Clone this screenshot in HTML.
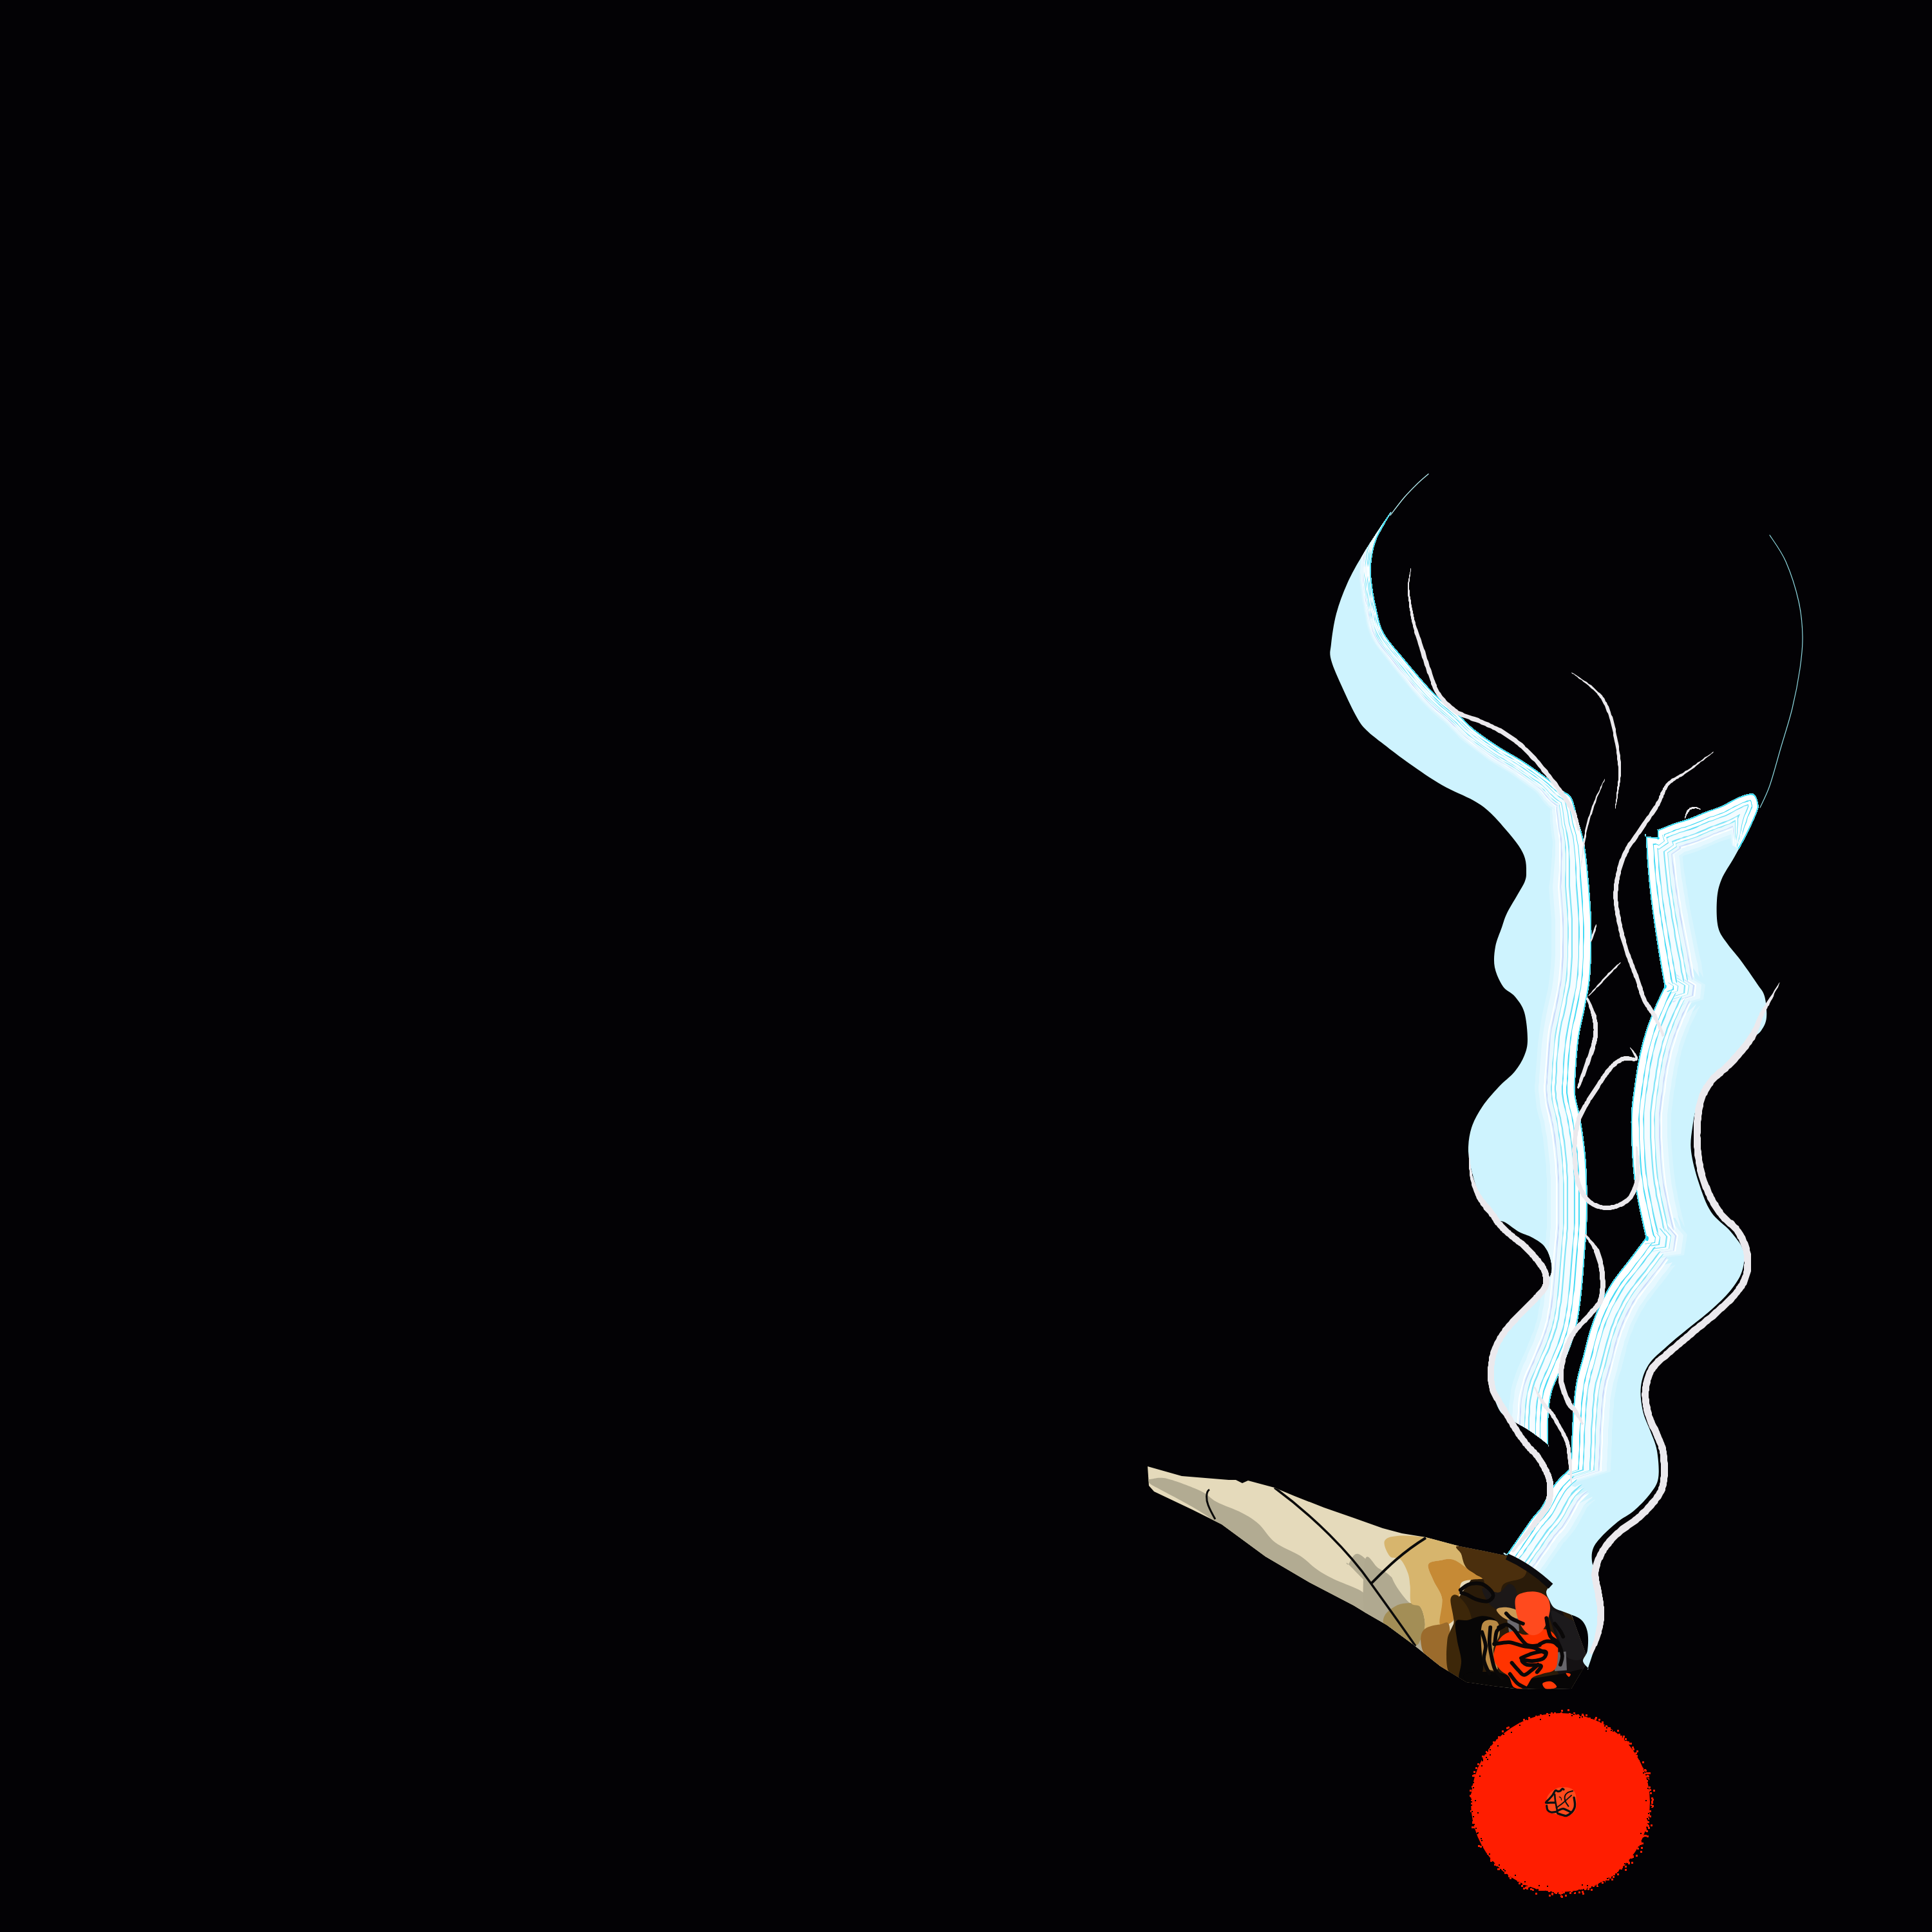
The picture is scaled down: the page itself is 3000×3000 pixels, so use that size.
<!DOCTYPE html>
<html><head><meta charset="utf-8"><style>
html,body{margin:0;padding:0;background:#030205;width:3000px;height:3000px;overflow:hidden}
svg{display:block}
</style></head><body>
<svg width="3000" height="3000" viewBox="0 0 3000 3000"><rect width="3000" height="3000" fill="#030205"/>
<defs><clipPath id="cL"><path d="M2160.0 795.0 C2156.7 798.7 2128.3 841.5 2117.0 860.0 C2105.7 878.5 2099.0 890.5 2092.0 906.0 C2085.0 921.5 2079.2 937.3 2075.0 953.0 C2070.8 968.7 2068.3 988.0 2067.0 1000.0 C2065.7 1012.0 2064.0 1013.5 2067.0 1025.0 C2070.0 1036.5 2078.3 1054.2 2085.0 1069.0 C2091.7 1083.8 2100.8 1103.2 2107.0 1114.0 C2113.2 1124.8 2115.0 1127.0 2122.0 1134.0 C2129.0 1141.0 2137.8 1147.3 2149.0 1156.0 C2160.2 1164.7 2174.0 1175.5 2189.0 1186.0 C2204.0 1196.5 2222.5 1209.5 2239.0 1219.0 C2255.5 1228.5 2275.7 1236.0 2288.0 1243.0 C2300.3 1250.0 2304.7 1253.5 2313.0 1261.0 C2321.3 1268.5 2330.5 1279.3 2338.0 1288.0 C2345.5 1296.7 2353.0 1305.5 2358.0 1313.0 C2363.0 1320.5 2366.0 1326.3 2368.0 1333.0 C2370.0 1339.7 2370.0 1347.2 2370.0 1353.0 C2370.0 1358.8 2370.3 1361.8 2368.0 1368.0 C2365.7 1374.2 2360.7 1381.7 2356.0 1390.0 C2351.3 1398.3 2344.0 1409.7 2340.0 1418.0 C2336.0 1426.3 2335.0 1431.3 2332.0 1440.0 C2329.0 1448.7 2323.8 1459.7 2322.0 1470.0 C2320.2 1480.3 2319.0 1491.7 2321.0 1502.0 C2323.0 1512.3 2328.8 1524.5 2334.0 1532.0 C2339.2 1539.5 2346.5 1540.3 2352.0 1547.0 C2357.5 1553.7 2363.7 1560.8 2367.0 1572.0 C2370.3 1583.2 2372.0 1602.8 2372.0 1614.0 C2372.0 1625.2 2370.3 1630.7 2367.0 1639.0 C2363.7 1647.3 2358.7 1655.8 2352.0 1664.0 C2345.3 1672.2 2335.3 1679.0 2327.0 1688.0 C2318.7 1697.0 2309.0 1707.5 2302.0 1718.0 C2295.0 1728.5 2288.7 1739.3 2285.0 1751.0 C2281.3 1762.7 2279.7 1775.7 2280.0 1788.0 C2280.3 1800.3 2283.7 1812.7 2287.0 1825.0 C2290.3 1837.3 2294.2 1850.8 2300.0 1862.0 C2305.8 1873.2 2315.8 1886.0 2322.0 1892.0 C2328.2 1898.0 2330.8 1894.5 2337.0 1898.0 C2343.2 1901.5 2352.2 1909.2 2359.0 1913.0 C2365.8 1916.8 2371.7 1917.5 2378.0 1921.0 C2384.3 1924.5 2392.2 1928.7 2397.0 1934.0 C2401.8 1939.3 2405.0 1946.0 2407.0 1953.0 C2409.0 1960.0 2410.7 1968.3 2409.0 1976.0 C2407.3 1983.7 2402.0 1991.3 2397.0 1999.0 C2392.0 2006.7 2385.7 2014.5 2379.0 2022.0 C2372.3 2029.5 2364.5 2035.8 2357.0 2044.0 C2349.5 2052.2 2340.2 2061.8 2334.0 2071.0 C2327.8 2080.2 2323.2 2089.5 2320.0 2099.0 C2316.8 2108.5 2315.5 2118.2 2315.0 2128.0 C2314.5 2137.8 2314.7 2147.5 2317.0 2158.0 C2319.3 2168.5 2324.0 2183.2 2329.0 2191.0 C2334.0 2198.8 2340.2 2200.5 2347.0 2205.0 C2353.8 2209.5 2362.8 2213.5 2370.0 2218.0 C2377.2 2222.5 2384.3 2227.8 2390.0 2232.0 C2395.7 2236.2 2401.7 2241.2 2404.0 2243.0 C2406.3 2244.8 2404.0 2249.7 2404.0 2243.0 C2404.0 2236.3 2403.2 2216.3 2404.0 2203.0 C2404.8 2189.7 2405.7 2175.8 2409.0 2163.0 C2412.3 2150.2 2419.0 2138.3 2424.0 2126.0 C2429.0 2113.7 2434.8 2101.0 2439.0 2089.0 C2443.2 2077.0 2446.2 2068.2 2449.0 2054.0 C2451.8 2039.8 2454.0 2022.7 2456.0 2004.0 C2458.0 1985.3 2459.7 1959.3 2461.0 1942.0 C2462.3 1924.7 2463.5 1917.3 2464.0 1900.0 C2464.5 1882.7 2464.5 1856.7 2464.0 1838.0 C2463.5 1819.3 2462.7 1804.7 2461.0 1788.0 C2459.3 1771.3 2456.5 1752.5 2454.0 1738.0 C2451.5 1723.5 2447.3 1711.3 2446.0 1701.0 C2444.7 1690.7 2445.2 1690.5 2446.0 1676.0 C2446.8 1661.5 2448.5 1632.7 2451.0 1614.0 C2453.5 1595.3 2458.0 1580.5 2461.0 1564.0 C2464.0 1547.5 2467.3 1535.7 2469.0 1515.0 C2470.7 1494.3 2471.3 1463.7 2471.0 1440.0 C2470.7 1416.3 2468.8 1394.5 2467.0 1373.0 C2465.2 1351.5 2462.8 1327.5 2460.0 1311.0 C2457.2 1294.5 2453.3 1286.0 2450.0 1274.0 C2446.7 1262.0 2444.5 1247.0 2440.0 1239.0 C2435.5 1231.0 2429.2 1231.0 2423.0 1226.0 C2416.8 1221.0 2413.0 1216.5 2403.0 1209.0 C2393.0 1201.5 2375.8 1189.3 2363.0 1181.0 C2350.2 1172.7 2338.5 1167.2 2326.0 1159.0 C2313.5 1150.8 2298.3 1140.3 2288.0 1132.0 C2277.7 1123.7 2274.7 1118.7 2264.0 1109.0 C2253.3 1099.3 2238.3 1088.7 2224.0 1074.0 C2209.7 1059.3 2190.7 1036.3 2178.0 1021.0 C2165.3 1005.7 2154.8 994.7 2148.0 982.0 C2141.2 969.3 2140.0 957.7 2137.0 945.0 C2134.0 932.3 2131.3 917.7 2130.0 906.0 C2128.7 894.3 2127.8 886.3 2129.0 875.0 C2130.2 863.7 2131.8 851.3 2137.0 838.0 C2142.2 824.7 2163.3 791.3 2160.0 795.0 Z"/></clipPath><clipPath id="cR"><path d="M2728.0 1261.0 C2730.8 1253.5 2730.5 1253.3 2730.0 1249.0 C2729.5 1244.7 2727.3 1237.7 2725.0 1235.0 C2722.7 1232.3 2720.5 1232.3 2716.0 1233.0 C2711.5 1233.7 2705.2 1235.8 2698.0 1239.0 C2690.8 1242.2 2681.3 1248.3 2673.0 1252.0 C2664.7 1255.7 2656.2 1257.8 2648.0 1261.0 C2639.8 1264.2 2632.2 1268.0 2624.0 1271.0 C2615.8 1274.0 2605.7 1276.7 2599.0 1279.0 C2592.3 1281.3 2588.2 1283.3 2584.0 1285.0 C2579.8 1286.7 2575.7 1288.3 2574.0 1289.0 C2572.3 1289.7 2574.0 1287.0 2574.0 1289.0 C2574.0 1291.0 2574.0 1299.0 2574.0 1301.0 C2574.0 1303.0 2577.0 1301.3 2574.0 1301.0 C2571.0 1300.7 2559.0 1299.3 2556.0 1299.0 C2553.0 1298.7 2555.5 1290.8 2556.0 1299.0 C2556.5 1307.2 2557.7 1331.5 2559.0 1348.0 C2560.3 1364.5 2562.0 1381.3 2564.0 1398.0 C2566.0 1414.7 2568.5 1431.3 2571.0 1448.0 C2573.5 1464.7 2576.7 1484.0 2579.0 1498.0 C2581.3 1512.0 2584.0 1526.3 2585.0 1532.0 C2586.0 1537.7 2587.5 1526.7 2585.0 1532.0 C2582.5 1537.3 2574.8 1552.5 2570.0 1564.0 C2565.2 1575.5 2560.0 1588.5 2556.0 1601.0 C2552.0 1613.5 2549.0 1624.5 2546.0 1639.0 C2543.0 1653.5 2540.2 1671.5 2538.0 1688.0 C2535.8 1704.5 2533.3 1717.2 2533.0 1738.0 C2532.7 1758.8 2534.3 1792.3 2536.0 1813.0 C2537.7 1833.7 2539.7 1843.8 2543.0 1862.0 C2546.3 1880.2 2553.8 1912.0 2556.0 1922.0 C2558.2 1932.0 2560.2 1916.5 2556.0 1922.0 C2551.8 1927.5 2539.8 1943.3 2531.0 1955.0 C2522.2 1966.7 2511.0 1979.7 2503.0 1992.0 C2495.0 2004.3 2488.7 2016.7 2483.0 2029.0 C2477.3 2041.3 2473.0 2053.5 2469.0 2066.0 C2465.0 2078.5 2462.3 2091.5 2459.0 2104.0 C2455.7 2116.5 2451.5 2128.7 2449.0 2141.0 C2446.5 2153.3 2445.3 2163.5 2444.0 2178.0 C2442.7 2192.5 2441.8 2211.3 2441.0 2228.0 C2440.2 2244.7 2439.8 2269.0 2439.0 2278.0 C2438.2 2287.0 2440.2 2277.5 2436.0 2282.0 C2431.8 2286.5 2421.0 2295.3 2414.0 2305.0 C2407.0 2314.7 2399.8 2331.2 2394.0 2340.0 C2388.2 2348.8 2385.3 2349.5 2379.0 2358.0 C2372.7 2366.5 2362.5 2381.7 2356.0 2391.0 C2349.5 2400.3 2342.7 2410.2 2340.0 2414.0 C2337.3 2417.8 2328.7 2406.2 2340.0 2414.0 C2351.3 2421.8 2396.7 2453.2 2408.0 2461.0 C2419.3 2468.8 2409.2 2459.2 2408.0 2461.0 C2406.8 2462.8 2401.3 2468.0 2401.0 2472.0 C2400.7 2476.0 2403.8 2480.8 2406.0 2485.0 C2408.2 2489.2 2409.3 2493.7 2414.0 2497.0 C2418.7 2500.3 2427.2 2502.0 2434.0 2505.0 C2440.8 2508.0 2449.8 2510.2 2455.0 2515.0 C2460.2 2519.8 2463.3 2526.0 2465.0 2534.0 C2466.7 2542.0 2466.2 2555.5 2465.0 2563.0 C2463.8 2570.5 2457.8 2574.5 2458.0 2579.0 C2458.2 2583.5 2464.7 2588.2 2466.0 2590.0 C2467.3 2591.8 2464.2 2595.7 2466.0 2590.0 C2467.8 2584.3 2473.8 2567.0 2477.0 2556.0 C2480.2 2545.0 2483.7 2536.3 2485.0 2524.0 C2486.3 2511.7 2486.0 2494.5 2485.0 2482.0 C2484.0 2469.5 2481.2 2458.7 2479.0 2449.0 C2476.8 2439.3 2472.8 2431.5 2472.0 2424.0 C2471.2 2416.5 2471.5 2410.3 2474.0 2404.0 C2476.5 2397.7 2480.7 2392.8 2487.0 2386.0 C2493.3 2379.2 2503.7 2369.7 2512.0 2363.0 C2520.3 2356.3 2528.7 2353.2 2537.0 2346.0 C2545.3 2338.8 2555.7 2328.5 2562.0 2320.0 C2568.3 2311.5 2573.2 2306.2 2575.0 2295.0 C2576.8 2283.8 2575.0 2265.0 2573.0 2253.0 C2571.0 2241.0 2566.7 2233.3 2563.0 2223.0 C2559.3 2212.7 2553.5 2202.7 2551.0 2191.0 C2548.5 2179.3 2546.5 2165.0 2548.0 2153.0 C2549.5 2141.0 2553.3 2129.3 2560.0 2119.0 C2566.7 2108.7 2578.0 2100.2 2588.0 2091.0 C2598.0 2081.8 2608.5 2073.5 2620.0 2064.0 C2631.5 2054.5 2645.8 2044.0 2657.0 2034.0 C2668.2 2024.0 2679.0 2014.0 2687.0 2004.0 C2695.0 1994.0 2701.7 1984.3 2705.0 1974.0 C2708.3 1963.7 2710.0 1952.3 2707.0 1942.0 C2704.0 1931.7 2695.3 1922.0 2687.0 1912.0 C2678.7 1902.0 2665.2 1894.5 2657.0 1882.0 C2648.8 1869.5 2643.2 1852.7 2638.0 1837.0 C2632.8 1821.3 2627.7 1802.3 2626.0 1788.0 C2624.3 1773.7 2626.2 1763.5 2628.0 1751.0 C2629.8 1738.5 2631.3 1725.5 2637.0 1713.0 C2642.7 1700.5 2651.5 1688.3 2662.0 1676.0 C2672.5 1663.7 2690.3 1649.3 2700.0 1639.0 C2709.7 1628.7 2714.2 1620.5 2720.0 1614.0 C2725.8 1607.5 2731.2 1605.7 2735.0 1600.0 C2738.8 1594.3 2742.2 1588.8 2743.0 1580.0 C2743.8 1571.2 2742.5 1555.8 2740.0 1547.0 C2737.5 1538.2 2734.3 1536.5 2728.0 1527.0 C2721.7 1517.5 2709.7 1500.3 2702.0 1490.0 C2694.3 1479.7 2687.7 1473.3 2682.0 1465.0 C2676.3 1456.7 2670.7 1451.2 2668.0 1440.0 C2665.3 1428.8 2665.2 1410.3 2666.0 1398.0 C2666.8 1385.7 2668.5 1377.2 2673.0 1366.0 C2677.5 1354.8 2686.3 1343.0 2693.0 1331.0 C2699.7 1319.0 2707.2 1305.7 2713.0 1294.0 C2718.8 1282.3 2725.2 1268.5 2728.0 1261.0 Z"/></clipPath></defs>
<g id="joint"><defs><clipPath id="cJ"><path d="M1782.0 2277.0 L1835.0 2292.0 L1908.0 2298.0 L1919.0 2298.0 L1929.0 2303.0 L1938.0 2299.0 L1979.0 2310.0 L2010.0 2323.0 L2056.0 2341.0 L2102.0 2357.0 L2147.0 2373.0 L2177.0 2381.0 L2214.0 2387.0 L2266.0 2401.0 L2302.0 2408.0 L2340.0 2416.0 L2368.0 2431.0 L2407.0 2461.0 L2440.0 2507.0 L2466.0 2578.0 L2440.0 2622.0 L2393.0 2623.0 L2352.0 2622.0 L2319.0 2618.0 L2277.0 2612.0 L2236.0 2587.0 L2195.0 2554.0 L2153.0 2523.0 L2120.0 2504.0 L2102.0 2493.0 L2033.0 2457.0 L1965.0 2417.0 L1897.0 2367.0 L1851.0 2344.0 L1792.0 2316.0 L1784.0 2307.0 Z"/></clipPath></defs>
<path d="M1782.0 2277.0 L1835.0 2292.0 L1908.0 2298.0 L1919.0 2298.0 L1929.0 2303.0 L1938.0 2299.0 L1979.0 2310.0 L2010.0 2323.0 L2056.0 2341.0 L2102.0 2357.0 L2147.0 2373.0 L2177.0 2381.0 L2214.0 2387.0 L2266.0 2401.0 L2302.0 2408.0 L2340.0 2416.0 L2368.0 2431.0 L2407.0 2461.0 L2440.0 2507.0 L2466.0 2578.0 L2440.0 2622.0 L2393.0 2623.0 L2352.0 2622.0 L2319.0 2618.0 L2277.0 2612.0 L2236.0 2587.0 L2195.0 2554.0 L2153.0 2523.0 L2120.0 2504.0 L2102.0 2493.0 L2033.0 2457.0 L1965.0 2417.0 L1897.0 2367.0 L1851.0 2344.0 L1792.0 2316.0 L1784.0 2307.0 Z" fill="#e5dabb"/>
<g clip-path="url(#cJ)">
<path d="M1783.0 2298.0 C1783.0 2296.8 1781.2 2297.3 1786.0 2297.0 C1790.8 2296.7 1799.0 2293.0 1812.0 2296.0 C1825.0 2299.0 1851.2 2309.0 1864.0 2315.0 C1876.8 2321.0 1878.3 2326.3 1889.0 2332.0 C1899.7 2337.7 1917.2 2343.3 1928.0 2349.0 C1938.8 2354.7 1945.3 2358.3 1954.0 2366.0 C1962.7 2373.7 1969.2 2386.7 1980.0 2395.0 C1990.8 2403.3 2008.2 2409.0 2019.0 2416.0 C2029.8 2423.0 2036.3 2431.0 2045.0 2437.0 C2053.7 2443.0 2060.3 2446.8 2071.0 2452.0 C2081.7 2457.2 2099.7 2463.2 2109.0 2468.0 C2118.3 2472.8 2124.0 2478.8 2127.0 2481.0 C2130.0 2483.2 2126.5 2483.2 2127.0 2481.0 C2127.5 2478.8 2135.5 2476.7 2130.0 2468.0 C2124.5 2459.3 2100.0 2435.5 2094.0 2429.0 C2088.0 2422.5 2091.5 2431.7 2094.0 2429.0 C2096.5 2426.3 2100.8 2410.8 2109.0 2413.0 C2117.2 2415.2 2133.8 2434.2 2143.0 2442.0 C2152.2 2449.8 2156.7 2452.3 2164.0 2460.0 C2171.3 2467.7 2180.2 2478.8 2187.0 2488.0 C2193.8 2497.2 2197.8 2496.3 2205.0 2515.0 C2212.2 2533.7 2239.2 2590.8 2230.0 2600.0 C2220.8 2609.2 2188.3 2586.7 2150.0 2570.0 C2111.7 2553.3 2040.0 2530.8 2000.0 2500.0 C1960.0 2469.2 1929.3 2408.2 1910.0 2385.0 C1890.7 2361.8 1894.0 2368.7 1884.0 2361.0 C1874.0 2353.3 1864.0 2347.2 1850.0 2339.0 C1836.0 2330.8 1810.7 2317.8 1800.0 2312.0 C1789.3 2306.2 1788.8 2306.3 1786.0 2304.0 C1783.2 2301.7 1783.0 2299.2 1783.0 2298.0 Z" fill="#b2ab92"/>
<path d="M2120.0 2421.4 C2123.3 2408.4 2133.0 2430.0 2139.9 2434.7 C2146.8 2439.4 2153.1 2440.7 2161.4 2449.6 C2169.7 2458.4 2184.6 2479.9 2189.6 2487.7 C2194.5 2495.4 2194.5 2495.1 2191.2 2495.9 C2187.9 2496.8 2176.6 2490.4 2169.7 2492.6 C2162.8 2494.8 2152.6 2503.1 2149.8 2509.2 C2147.1 2515.3 2158.1 2528.5 2153.1 2529.1 C2148.2 2529.6 2125.5 2530.4 2120.0 2512.5 C2114.5 2494.6 2116.7 2434.4 2120.0 2421.4 Z" fill="#b0a990"/>
<path d="M2158.1 2426.4 C2160.3 2421.7 2170.0 2418.6 2174.7 2421.4 C2179.4 2424.2 2183.8 2436.0 2186.3 2442.9 C2188.7 2449.8 2188.7 2455.1 2189.6 2462.8 C2190.4 2470.5 2193.7 2487.7 2191.2 2489.3 C2188.7 2491.0 2179.6 2479.4 2174.7 2472.8 C2169.7 2466.1 2164.2 2457.3 2161.4 2449.6 C2158.6 2441.8 2155.9 2431.1 2158.1 2426.4 Z" fill="#e2d8b7"/>
<path d="M2149.8 2509.2 C2152.6 2503.1 2162.8 2495.9 2169.7 2492.6 C2176.6 2489.3 2185.1 2488.8 2191.2 2489.3 C2197.3 2489.9 2202.5 2490.4 2206.1 2495.9 C2209.7 2501.5 2212.8 2514.2 2212.8 2522.4 C2212.8 2530.7 2209.2 2540.4 2206.1 2545.6 C2203.1 2550.9 2203.4 2556.7 2194.5 2553.9 C2185.7 2551.2 2160.6 2536.5 2153.1 2529.1 C2145.7 2521.6 2147.1 2515.3 2149.8 2509.2 Z" fill="#a38e56"/>
<path d="M2149.8 2393.3 C2151.7 2388.0 2158.9 2385.9 2169.7 2385.0 C2180.5 2384.0 2198.4 2384.8 2214.4 2387.5 C2230.4 2390.1 2256.6 2396.4 2265.8 2400.7 C2274.9 2405.0 2267.1 2407.5 2269.1 2413.1 C2271.0 2418.8 2279.6 2433.3 2277.3 2434.7 C2275.1 2436.0 2262.7 2423.3 2255.8 2421.4 C2248.9 2419.5 2242.3 2421.7 2235.9 2423.1 C2229.6 2424.4 2219.4 2424.4 2217.7 2429.7 C2216.1 2434.9 2222.4 2445.7 2226.0 2454.5 C2229.6 2463.4 2237.6 2471.4 2239.3 2482.7 C2240.9 2494.0 2240.4 2514.7 2235.9 2522.4 C2231.5 2530.2 2217.7 2525.2 2212.8 2529.1 C2207.8 2532.9 2206.1 2546.7 2206.1 2545.6 C2206.1 2544.5 2212.8 2530.7 2212.8 2522.4 C2212.8 2514.2 2209.7 2501.5 2206.1 2495.9 C2202.5 2490.4 2194.0 2494.8 2191.2 2489.3 C2188.5 2483.8 2190.4 2470.5 2189.6 2462.8 C2188.7 2455.1 2188.7 2449.8 2186.3 2442.9 C2183.8 2436.0 2179.4 2425.8 2174.7 2421.4 C2170.0 2417.0 2162.2 2421.1 2158.1 2416.4 C2154.0 2411.7 2147.9 2398.5 2149.8 2393.3 Z" fill="#d7b56d"/>
<path d="M2265.8 2400.7 L2340.3 2415.6 L2406.5 2461.2 L2440.0 2507.5 L2471.1 2578.8 L2472.8 2595.3 L2440.0 2621.8 L2393.3 2623.5 L2318.8 2618.5 L2277.3 2611.9 L2249.2 2595.3 L2245.9 2545.6 L2257.5 2520.8 L2265.8 2479.4 L2285.6 2451.2 L2269.1 2413.1 Z" fill="#2a1b09"/>
<path d="M2217.7 2429.7 C2219.4 2424.4 2229.6 2424.4 2235.9 2423.1 C2242.3 2421.7 2248.9 2419.5 2255.8 2421.4 C2262.7 2423.3 2271.0 2430.5 2277.3 2434.7 C2283.7 2438.8 2289.5 2443.5 2293.9 2446.3 C2298.3 2449.0 2305.2 2450.1 2303.9 2451.2 C2302.5 2452.3 2291.4 2451.8 2285.6 2452.9 C2279.8 2454.0 2272.4 2453.4 2269.1 2457.8 C2265.8 2462.3 2267.7 2472.5 2265.8 2479.4 C2263.8 2486.3 2259.1 2492.9 2257.5 2499.3 C2255.8 2505.6 2259.4 2513.6 2255.8 2517.5 C2252.2 2521.3 2238.7 2528.2 2235.9 2522.4 C2233.2 2516.6 2240.9 2494.0 2239.3 2482.7 C2237.6 2471.4 2229.6 2463.4 2226.0 2454.5 C2222.4 2445.7 2216.1 2434.9 2217.7 2429.7 Z" fill="#c68a35"/>
<path d="M2265.8 2400.7 C2277.6 2401.1 2323.2 2410.5 2340.3 2415.6 C2357.4 2420.7 2364.3 2425.7 2368.4 2431.3 C2372.6 2437.0 2370.7 2444.9 2365.1 2449.6 C2359.6 2454.3 2341.7 2454.5 2335.3 2459.5 C2329.0 2464.5 2331.7 2478.3 2327.0 2479.4 C2322.3 2480.5 2311.3 2470.8 2307.2 2466.1 C2303.0 2461.4 2307.2 2456.5 2302.2 2451.2 C2297.2 2446.0 2282.9 2441.0 2277.3 2434.7 C2271.8 2428.3 2271.0 2418.8 2269.1 2413.1 C2267.1 2407.5 2253.9 2400.3 2265.8 2400.7 Z" fill="#4b2f0d"/>
<path d="M2206.1 2545.6 C2206.1 2538.7 2207.8 2532.9 2212.8 2529.1 C2217.7 2525.2 2229.6 2523.0 2235.9 2522.4 C2242.3 2521.9 2248.6 2513.6 2250.8 2525.8 C2253.1 2537.9 2251.7 2585.1 2249.2 2595.3 C2246.7 2605.5 2242.0 2591.2 2235.9 2587.0 C2229.9 2582.9 2217.7 2577.4 2212.8 2570.5 C2207.8 2563.6 2206.1 2552.5 2206.1 2545.6 Z" fill="#9b6b2c"/>
<path d="M2252.5 2482.7 C2253.9 2475.8 2260.2 2473.9 2265.8 2479.4 C2271.3 2484.9 2282.3 2494.3 2285.6 2515.8 C2288.9 2537.3 2287.0 2592.6 2285.6 2608.6 C2284.3 2624.6 2283.4 2614.1 2277.3 2611.9 C2271.3 2609.7 2254.2 2606.4 2249.2 2595.3 C2244.2 2584.3 2246.2 2558.1 2247.5 2545.6 C2248.9 2533.2 2256.6 2531.3 2257.5 2520.8 C2258.3 2510.3 2251.1 2489.6 2252.5 2482.7 Z" fill="#3d2709"/>
<path d="M2302.2 2466.1 C2305.0 2463.6 2320.1 2473.9 2327.0 2472.8 C2333.9 2471.6 2338.9 2459.5 2343.6 2459.5 C2348.3 2459.5 2353.3 2463.9 2355.2 2472.8 C2357.1 2481.6 2358.5 2507.0 2355.2 2512.5 C2351.9 2518.0 2340.6 2508.1 2335.3 2505.9 C2330.1 2503.7 2327.9 2502.3 2323.7 2499.3 C2319.6 2496.2 2314.1 2493.2 2310.5 2487.7 C2306.9 2482.1 2299.4 2468.6 2302.2 2466.1 Z" fill="#1c1818"/>
<path d="M2260.8 2517.5 C2263.5 2512.5 2272.1 2517.2 2279.0 2515.8 C2285.9 2514.4 2294.7 2508.9 2302.2 2509.2 C2309.6 2509.5 2321.0 2511.4 2323.7 2517.5 C2326.5 2523.5 2322.3 2538.2 2318.8 2545.6 C2315.2 2553.1 2305.0 2553.9 2302.2 2562.2 C2299.4 2570.5 2305.0 2587.0 2302.2 2595.3 C2299.4 2603.6 2291.7 2609.7 2285.6 2611.9 C2279.6 2614.1 2268.5 2614.1 2265.8 2608.6 C2263.0 2603.1 2269.6 2589.2 2269.1 2578.8 C2268.5 2568.3 2263.8 2555.8 2262.4 2545.6 C2261.1 2535.4 2258.0 2522.4 2260.8 2517.5 Z" fill="#070606"/>
<path d="M2323.7 2499.3 C2324.6 2496.5 2334.5 2495.4 2340.3 2495.9 C2346.1 2496.5 2356.0 2499.0 2358.5 2502.6 C2361.0 2506.2 2359.1 2515.8 2355.2 2517.5 C2351.3 2519.1 2340.6 2515.5 2335.3 2512.5 C2330.1 2509.5 2322.9 2502.0 2323.7 2499.3 Z" fill="#c99a55"/>
<path d="M2302.2 2520.8 C2306.1 2513.3 2319.3 2514.7 2323.7 2517.5 C2328.1 2520.2 2329.5 2529.9 2328.7 2537.3 C2327.9 2544.8 2319.3 2553.1 2318.8 2562.2 C2318.2 2571.3 2327.3 2587.6 2325.4 2592.0 C2323.5 2596.4 2311.3 2593.7 2307.2 2588.7 C2303.0 2583.7 2301.4 2573.5 2300.5 2562.2 C2299.7 2550.9 2298.3 2528.2 2302.2 2520.8 Z" fill="#b98a45"/>
<path d="M2407.0 2460.3 L2466.4 2592.2 L2437.4 2606.7 L2420.0 2599.4 L2408.4 2570.4 L2415.7 2541.4 L2407.0 2515.4 L2401.2 2490.7 L2405.5 2476.2 Z" fill="#141113"/>
<path d="M2408.4 2502.3 C2409.4 2496.8 2420.5 2505.9 2425.8 2508.1 C2431.1 2510.3 2435.0 2513.2 2440.3 2515.4 C2445.6 2517.5 2453.6 2516.8 2457.7 2521.2 C2461.8 2525.5 2463.7 2534.4 2464.9 2541.4 C2466.1 2548.5 2467.1 2557.1 2464.9 2563.2 C2462.8 2569.2 2457.7 2576.5 2451.9 2577.7 C2446.1 2578.9 2435.5 2576.5 2430.1 2570.4 C2424.8 2564.4 2423.6 2552.8 2420.0 2541.4 C2416.4 2530.1 2407.4 2507.9 2408.4 2502.3 Z" fill="#1c1a1c"/>
<path d="M2275.1 2599.4 C2281.1 2596.5 2306.5 2595.3 2321.4 2596.5 C2336.4 2597.7 2348.0 2606.2 2364.9 2606.7 C2381.8 2607.1 2406.0 2601.8 2422.9 2599.4 C2439.8 2597.0 2460.3 2588.3 2466.4 2592.2 C2472.4 2596.0 2471.2 2617.3 2459.1 2622.6 C2447.1 2627.9 2414.4 2624.3 2393.9 2624.1 C2373.4 2623.8 2354.1 2622.9 2335.9 2621.2 C2317.8 2619.5 2295.4 2617.5 2285.2 2613.9 C2275.1 2610.3 2269.0 2602.3 2275.1 2599.4 Z" fill="#070606"/>
<path d="M2340.3 2515.4 L2357.7 2512.5 L2359.1 2532.8 L2343.2 2534.2 Z" fill="#6b6a6f"/>
<path d="M2373.6 2540.0 L2408.4 2538.6 L2412.8 2555.9 L2379.4 2557.4 Z" fill="#6b6a6f"/>
<path d="M2412.8 2566.1 L2431.6 2564.6 L2433.0 2593.6 L2414.2 2595.1 Z" fill="#67666b"/>
<path d="M2331.6 2541.4 C2336.4 2536.9 2344.2 2533.2 2350.4 2532.8 C2356.7 2532.3 2361.1 2539.0 2369.3 2538.6 C2377.5 2538.1 2391.7 2528.9 2399.7 2529.9 C2407.7 2530.8 2414.0 2536.4 2417.1 2544.3 C2420.2 2552.3 2419.3 2569.5 2418.6 2577.7 C2417.8 2585.9 2416.9 2590.0 2412.8 2593.6 C2408.6 2597.2 2399.5 2597.5 2393.9 2599.4 C2388.4 2601.4 2383.8 2601.6 2379.4 2605.2 C2375.1 2608.8 2372.7 2618.7 2367.8 2621.2 C2363.0 2623.6 2354.5 2622.6 2350.4 2619.7 C2346.3 2616.8 2346.6 2608.1 2343.2 2603.8 C2339.8 2599.4 2334.0 2598.0 2330.1 2593.6 C2326.3 2589.3 2321.4 2583.2 2320.0 2577.7 C2318.6 2572.1 2319.5 2566.3 2321.4 2560.3 C2323.4 2554.3 2326.8 2546.0 2331.6 2541.4 Z" fill="#ff3300"/>
<path d="M2395.4 2613.9 C2396.6 2612.0 2404.8 2610.0 2408.4 2611.0 C2412.0 2612.0 2418.3 2617.8 2417.1 2619.7 C2415.9 2621.6 2404.8 2623.6 2401.2 2622.6 C2397.5 2621.6 2394.2 2615.8 2395.4 2613.9 Z" fill="#ff3a08"/>
<path d="M2431.6 2598.0 C2432.1 2597.2 2438.1 2598.5 2438.8 2599.4 C2439.6 2600.4 2437.1 2604.0 2435.9 2603.8 C2434.7 2603.5 2431.1 2598.7 2431.6 2598.0 Z" fill="#ff3a08"/>
<path d="M2353.3 2482.0 C2355.0 2476.7 2359.4 2475.0 2364.9 2473.3 C2370.5 2471.6 2380.4 2470.7 2386.7 2471.9 C2392.9 2473.1 2399.2 2476.2 2402.6 2480.6 C2406.0 2484.9 2407.2 2491.2 2407.0 2498.0 C2406.7 2504.7 2403.8 2514.9 2401.2 2521.2 C2398.5 2527.4 2395.1 2532.8 2391.0 2535.7 C2386.9 2538.6 2381.1 2540.0 2376.5 2538.6 C2371.9 2537.1 2367.1 2532.5 2363.5 2527.0 C2359.9 2521.4 2356.5 2512.7 2354.8 2505.2 C2353.1 2497.7 2351.6 2487.3 2353.3 2482.0 Z" fill="#ff4a1e"/>
<path d="M2338.8 2505.2 C2340.0 2506.4 2342.9 2510.3 2346.1 2512.5 C2349.2 2514.6 2354.5 2516.8 2357.7 2518.3 C2360.8 2519.7 2363.7 2520.7 2364.9 2521.2" fill="none" stroke="#0a0808" stroke-width="5.797101449275362" stroke-linecap="round" stroke-linejoin="round"/>
<path d="M2327.2 2527.0 C2329.2 2526.2 2335.0 2522.1 2338.8 2522.6 C2342.7 2523.1 2347.1 2526.7 2350.4 2529.9 C2353.8 2533.0 2356.0 2537.6 2359.1 2541.4 C2362.3 2545.3 2365.9 2550.6 2369.3 2553.0 C2372.7 2555.5 2375.8 2555.7 2379.4 2555.9 C2383.0 2556.2 2389.1 2554.7 2391.0 2554.5" fill="none" stroke="#0a0808" stroke-width="5.797101449275362" stroke-linecap="round" stroke-linejoin="round"/>
<path d="M2321.4 2550.1 C2321.9 2547.2 2322.2 2536.9 2324.3 2532.8 C2326.5 2528.6 2332.8 2526.7 2334.5 2525.5" fill="none" stroke="#0a0808" stroke-width="5.797101449275362" stroke-linecap="round" stroke-linejoin="round"/>
<path d="M2320.0 2553.0 C2323.9 2552.6 2335.7 2549.7 2343.2 2550.1 C2350.7 2550.6 2358.4 2554.5 2364.9 2555.9 C2371.4 2557.4 2376.8 2557.1 2382.3 2558.8 C2387.9 2560.5 2395.6 2564.9 2398.3 2566.1" fill="none" stroke="#0a0808" stroke-width="5.797101449275362" stroke-linecap="round" stroke-linejoin="round"/>
<path d="M2362.0 2574.8 C2364.9 2573.6 2373.1 2569.2 2379.4 2567.5 C2385.7 2565.8 2396.8 2563.4 2399.7 2564.6 C2402.6 2565.8 2400.2 2572.4 2396.8 2574.8 C2393.4 2577.2 2385.0 2578.6 2379.4 2579.1 C2373.9 2579.6 2364.9 2576.7 2363.5 2577.7 C2362.0 2578.6 2365.9 2583.5 2370.7 2584.9 C2375.6 2586.4 2389.8 2584.4 2392.5 2586.4 C2395.1 2588.3 2387.6 2594.8 2386.7 2596.5" fill="none" stroke="#0a0808" stroke-width="5.797101449275362" stroke-linecap="round" stroke-linejoin="round"/>
<path d="M2347.5 2582.0 C2349.2 2584.0 2354.5 2590.5 2357.7 2593.6 C2360.8 2596.8 2363.0 2600.9 2366.4 2600.9 C2369.8 2600.9 2374.3 2596.3 2378.0 2593.6 C2381.6 2591.0 2386.4 2586.4 2388.1 2584.9" fill="none" stroke="#0a0808" stroke-width="5.797101449275362" stroke-linecap="round" stroke-linejoin="round"/>
<path d="M2401.2 2512.5 C2402.1 2517.1 2404.1 2533.7 2407.0 2540.0 C2409.9 2546.3 2415.4 2545.1 2418.6 2550.1 C2421.7 2555.2 2425.1 2564.6 2425.8 2570.4 C2426.5 2576.2 2423.4 2582.5 2422.9 2584.9" fill="none" stroke="#0a0808" stroke-width="5.797101449275362" stroke-linecap="round" stroke-linejoin="round"/>
<path d="M2344.6 2599.4 C2346.6 2601.8 2352.1 2610.3 2356.2 2613.9 C2360.3 2617.5 2367.1 2620.0 2369.3 2621.2" fill="none" stroke="#0a0808" stroke-width="5.797101449275362" stroke-linecap="round" stroke-linejoin="round"/>
<path d="M2314.2 2527.0 C2314.0 2530.8 2312.5 2542.9 2312.8 2550.1 C2313.0 2557.4 2314.2 2563.4 2315.7 2570.4 C2317.1 2577.4 2318.6 2586.1 2321.4 2592.2 C2324.3 2598.2 2331.1 2604.3 2333.0 2606.7" fill="none" stroke="#0a0808" stroke-width="5.797101449275362" stroke-linecap="round" stroke-linejoin="round"/>
<path d="M2414.2 2521.2 C2415.7 2523.1 2420.7 2529.4 2422.9 2532.8 C2425.1 2536.1 2426.5 2540.0 2427.2 2541.4" fill="none" stroke="#0a0808" stroke-width="5.797101449275362" stroke-linecap="round" stroke-linejoin="round"/>
<path d="M2391.0 2553.0 C2392.7 2552.3 2397.5 2549.2 2401.2 2548.7 C2404.8 2548.2 2409.6 2548.9 2412.8 2550.1 C2415.9 2551.4 2418.8 2555.0 2420.0 2555.9" fill="none" stroke="#0a0808" stroke-width="5.797101449275362" stroke-linecap="round" stroke-linejoin="round"/>
<path d="M2301.2 2534.2 C2302.1 2537.8 2306.5 2548.7 2307.0 2555.9 C2307.4 2563.2 2303.1 2570.4 2304.1 2577.7 C2305.0 2584.9 2311.3 2595.8 2312.8 2599.4" fill="none" stroke="#0a0808" stroke-width="5.797101449275362" stroke-linecap="round" stroke-linejoin="round"/>
<path d="M2267.8 2469.0 C2270.0 2467.5 2275.8 2462.0 2280.9 2460.3 C2285.9 2458.6 2293.2 2457.9 2298.3 2458.8 C2303.3 2459.8 2307.9 2462.9 2311.3 2466.1 C2314.7 2469.2 2318.8 2474.3 2318.6 2477.7 C2318.3 2481.1 2314.2 2485.4 2309.9 2486.4 C2305.5 2487.3 2297.8 2485.2 2292.5 2483.5 C2287.1 2481.8 2281.8 2477.9 2278.0 2476.2 C2274.1 2474.5 2270.7 2473.8 2269.3 2473.3" fill="none" stroke="#0a0808" stroke-width="5.797101449275362" stroke-linecap="round" stroke-linejoin="round"/>
<path d="M1979 2310 C2040 2355 2095 2410 2129 2459 C2155 2495 2180 2530 2198 2556" fill="none" stroke="#0a0a0a" stroke-width="3.5"/>
<path d="M2129 2459 C2150 2438 2175 2412 2214 2388" fill="none" stroke="#0a0a0a" stroke-width="4"/>
<path d="M1878 2313 C1872 2316 1873 2330 1876 2337 C1879 2345 1883 2352 1887 2359" fill="none" stroke="#0a0a0a" stroke-width="3"/>
</g></g>
<path d="M2160.0 795.0 C2156.7 798.7 2128.3 841.5 2117.0 860.0 C2105.7 878.5 2099.0 890.5 2092.0 906.0 C2085.0 921.5 2079.2 937.3 2075.0 953.0 C2070.8 968.7 2068.3 988.0 2067.0 1000.0 C2065.7 1012.0 2064.0 1013.5 2067.0 1025.0 C2070.0 1036.5 2078.3 1054.2 2085.0 1069.0 C2091.7 1083.8 2100.8 1103.2 2107.0 1114.0 C2113.2 1124.8 2115.0 1127.0 2122.0 1134.0 C2129.0 1141.0 2137.8 1147.3 2149.0 1156.0 C2160.2 1164.7 2174.0 1175.5 2189.0 1186.0 C2204.0 1196.5 2222.5 1209.5 2239.0 1219.0 C2255.5 1228.5 2275.7 1236.0 2288.0 1243.0 C2300.3 1250.0 2304.7 1253.5 2313.0 1261.0 C2321.3 1268.5 2330.5 1279.3 2338.0 1288.0 C2345.5 1296.7 2353.0 1305.5 2358.0 1313.0 C2363.0 1320.5 2366.0 1326.3 2368.0 1333.0 C2370.0 1339.7 2370.0 1347.2 2370.0 1353.0 C2370.0 1358.8 2370.3 1361.8 2368.0 1368.0 C2365.7 1374.2 2360.7 1381.7 2356.0 1390.0 C2351.3 1398.3 2344.0 1409.7 2340.0 1418.0 C2336.0 1426.3 2335.0 1431.3 2332.0 1440.0 C2329.0 1448.7 2323.8 1459.7 2322.0 1470.0 C2320.2 1480.3 2319.0 1491.7 2321.0 1502.0 C2323.0 1512.3 2328.8 1524.5 2334.0 1532.0 C2339.2 1539.5 2346.5 1540.3 2352.0 1547.0 C2357.5 1553.7 2363.7 1560.8 2367.0 1572.0 C2370.3 1583.2 2372.0 1602.8 2372.0 1614.0 C2372.0 1625.2 2370.3 1630.7 2367.0 1639.0 C2363.7 1647.3 2358.7 1655.8 2352.0 1664.0 C2345.3 1672.2 2335.3 1679.0 2327.0 1688.0 C2318.7 1697.0 2309.0 1707.5 2302.0 1718.0 C2295.0 1728.5 2288.7 1739.3 2285.0 1751.0 C2281.3 1762.7 2279.7 1775.7 2280.0 1788.0 C2280.3 1800.3 2283.7 1812.7 2287.0 1825.0 C2290.3 1837.3 2294.2 1850.8 2300.0 1862.0 C2305.8 1873.2 2315.8 1886.0 2322.0 1892.0 C2328.2 1898.0 2330.8 1894.5 2337.0 1898.0 C2343.2 1901.5 2352.2 1909.2 2359.0 1913.0 C2365.8 1916.8 2371.7 1917.5 2378.0 1921.0 C2384.3 1924.5 2392.2 1928.7 2397.0 1934.0 C2401.8 1939.3 2405.0 1946.0 2407.0 1953.0 C2409.0 1960.0 2410.7 1968.3 2409.0 1976.0 C2407.3 1983.7 2402.0 1991.3 2397.0 1999.0 C2392.0 2006.7 2385.7 2014.5 2379.0 2022.0 C2372.3 2029.5 2364.5 2035.8 2357.0 2044.0 C2349.5 2052.2 2340.2 2061.8 2334.0 2071.0 C2327.8 2080.2 2323.2 2089.5 2320.0 2099.0 C2316.8 2108.5 2315.5 2118.2 2315.0 2128.0 C2314.5 2137.8 2314.7 2147.5 2317.0 2158.0 C2319.3 2168.5 2324.0 2183.2 2329.0 2191.0 C2334.0 2198.8 2340.2 2200.5 2347.0 2205.0 C2353.8 2209.5 2362.8 2213.5 2370.0 2218.0 C2377.2 2222.5 2384.3 2227.8 2390.0 2232.0 C2395.7 2236.2 2401.7 2241.2 2404.0 2243.0 C2406.3 2244.8 2404.0 2249.7 2404.0 2243.0 C2404.0 2236.3 2403.2 2216.3 2404.0 2203.0 C2404.8 2189.7 2405.7 2175.8 2409.0 2163.0 C2412.3 2150.2 2419.0 2138.3 2424.0 2126.0 C2429.0 2113.7 2434.8 2101.0 2439.0 2089.0 C2443.2 2077.0 2446.2 2068.2 2449.0 2054.0 C2451.8 2039.8 2454.0 2022.7 2456.0 2004.0 C2458.0 1985.3 2459.7 1959.3 2461.0 1942.0 C2462.3 1924.7 2463.5 1917.3 2464.0 1900.0 C2464.5 1882.7 2464.5 1856.7 2464.0 1838.0 C2463.5 1819.3 2462.7 1804.7 2461.0 1788.0 C2459.3 1771.3 2456.5 1752.5 2454.0 1738.0 C2451.5 1723.5 2447.3 1711.3 2446.0 1701.0 C2444.7 1690.7 2445.2 1690.5 2446.0 1676.0 C2446.8 1661.5 2448.5 1632.7 2451.0 1614.0 C2453.5 1595.3 2458.0 1580.5 2461.0 1564.0 C2464.0 1547.5 2467.3 1535.7 2469.0 1515.0 C2470.7 1494.3 2471.3 1463.7 2471.0 1440.0 C2470.7 1416.3 2468.8 1394.5 2467.0 1373.0 C2465.2 1351.5 2462.8 1327.5 2460.0 1311.0 C2457.2 1294.5 2453.3 1286.0 2450.0 1274.0 C2446.7 1262.0 2444.5 1247.0 2440.0 1239.0 C2435.5 1231.0 2429.2 1231.0 2423.0 1226.0 C2416.8 1221.0 2413.0 1216.5 2403.0 1209.0 C2393.0 1201.5 2375.8 1189.3 2363.0 1181.0 C2350.2 1172.7 2338.5 1167.2 2326.0 1159.0 C2313.5 1150.8 2298.3 1140.3 2288.0 1132.0 C2277.7 1123.7 2274.7 1118.7 2264.0 1109.0 C2253.3 1099.3 2238.3 1088.7 2224.0 1074.0 C2209.7 1059.3 2190.7 1036.3 2178.0 1021.0 C2165.3 1005.7 2154.8 994.7 2148.0 982.0 C2141.2 969.3 2140.0 957.7 2137.0 945.0 C2134.0 932.3 2131.3 917.7 2130.0 906.0 C2128.7 894.3 2127.8 886.3 2129.0 875.0 C2130.2 863.7 2131.8 851.3 2137.0 838.0 C2142.2 824.7 2163.3 791.3 2160.0 795.0 Z" fill="#cef3fe" stroke="none" stroke-width="0" />
<path d="M2728.0 1261.0 C2730.8 1253.5 2730.5 1253.3 2730.0 1249.0 C2729.5 1244.7 2727.3 1237.7 2725.0 1235.0 C2722.7 1232.3 2720.5 1232.3 2716.0 1233.0 C2711.5 1233.7 2705.2 1235.8 2698.0 1239.0 C2690.8 1242.2 2681.3 1248.3 2673.0 1252.0 C2664.7 1255.7 2656.2 1257.8 2648.0 1261.0 C2639.8 1264.2 2632.2 1268.0 2624.0 1271.0 C2615.8 1274.0 2605.7 1276.7 2599.0 1279.0 C2592.3 1281.3 2588.2 1283.3 2584.0 1285.0 C2579.8 1286.7 2575.7 1288.3 2574.0 1289.0 C2572.3 1289.7 2574.0 1287.0 2574.0 1289.0 C2574.0 1291.0 2574.0 1299.0 2574.0 1301.0 C2574.0 1303.0 2577.0 1301.3 2574.0 1301.0 C2571.0 1300.7 2559.0 1299.3 2556.0 1299.0 C2553.0 1298.7 2555.5 1290.8 2556.0 1299.0 C2556.5 1307.2 2557.7 1331.5 2559.0 1348.0 C2560.3 1364.5 2562.0 1381.3 2564.0 1398.0 C2566.0 1414.7 2568.5 1431.3 2571.0 1448.0 C2573.5 1464.7 2576.7 1484.0 2579.0 1498.0 C2581.3 1512.0 2584.0 1526.3 2585.0 1532.0 C2586.0 1537.7 2587.5 1526.7 2585.0 1532.0 C2582.5 1537.3 2574.8 1552.5 2570.0 1564.0 C2565.2 1575.5 2560.0 1588.5 2556.0 1601.0 C2552.0 1613.5 2549.0 1624.5 2546.0 1639.0 C2543.0 1653.5 2540.2 1671.5 2538.0 1688.0 C2535.8 1704.5 2533.3 1717.2 2533.0 1738.0 C2532.7 1758.8 2534.3 1792.3 2536.0 1813.0 C2537.7 1833.7 2539.7 1843.8 2543.0 1862.0 C2546.3 1880.2 2553.8 1912.0 2556.0 1922.0 C2558.2 1932.0 2560.2 1916.5 2556.0 1922.0 C2551.8 1927.5 2539.8 1943.3 2531.0 1955.0 C2522.2 1966.7 2511.0 1979.7 2503.0 1992.0 C2495.0 2004.3 2488.7 2016.7 2483.0 2029.0 C2477.3 2041.3 2473.0 2053.5 2469.0 2066.0 C2465.0 2078.5 2462.3 2091.5 2459.0 2104.0 C2455.7 2116.5 2451.5 2128.7 2449.0 2141.0 C2446.5 2153.3 2445.3 2163.5 2444.0 2178.0 C2442.7 2192.5 2441.8 2211.3 2441.0 2228.0 C2440.2 2244.7 2439.8 2269.0 2439.0 2278.0 C2438.2 2287.0 2440.2 2277.5 2436.0 2282.0 C2431.8 2286.5 2421.0 2295.3 2414.0 2305.0 C2407.0 2314.7 2399.8 2331.2 2394.0 2340.0 C2388.2 2348.8 2385.3 2349.5 2379.0 2358.0 C2372.7 2366.5 2362.5 2381.7 2356.0 2391.0 C2349.5 2400.3 2342.7 2410.2 2340.0 2414.0 C2337.3 2417.8 2328.7 2406.2 2340.0 2414.0 C2351.3 2421.8 2396.7 2453.2 2408.0 2461.0 C2419.3 2468.8 2409.2 2459.2 2408.0 2461.0 C2406.8 2462.8 2401.3 2468.0 2401.0 2472.0 C2400.7 2476.0 2403.8 2480.8 2406.0 2485.0 C2408.2 2489.2 2409.3 2493.7 2414.0 2497.0 C2418.7 2500.3 2427.2 2502.0 2434.0 2505.0 C2440.8 2508.0 2449.8 2510.2 2455.0 2515.0 C2460.2 2519.8 2463.3 2526.0 2465.0 2534.0 C2466.7 2542.0 2466.2 2555.5 2465.0 2563.0 C2463.8 2570.5 2457.8 2574.5 2458.0 2579.0 C2458.2 2583.5 2464.7 2588.2 2466.0 2590.0 C2467.3 2591.8 2464.2 2595.7 2466.0 2590.0 C2467.8 2584.3 2473.8 2567.0 2477.0 2556.0 C2480.2 2545.0 2483.7 2536.3 2485.0 2524.0 C2486.3 2511.7 2486.0 2494.5 2485.0 2482.0 C2484.0 2469.5 2481.2 2458.7 2479.0 2449.0 C2476.8 2439.3 2472.8 2431.5 2472.0 2424.0 C2471.2 2416.5 2471.5 2410.3 2474.0 2404.0 C2476.5 2397.7 2480.7 2392.8 2487.0 2386.0 C2493.3 2379.2 2503.7 2369.7 2512.0 2363.0 C2520.3 2356.3 2528.7 2353.2 2537.0 2346.0 C2545.3 2338.8 2555.7 2328.5 2562.0 2320.0 C2568.3 2311.5 2573.2 2306.2 2575.0 2295.0 C2576.8 2283.8 2575.0 2265.0 2573.0 2253.0 C2571.0 2241.0 2566.7 2233.3 2563.0 2223.0 C2559.3 2212.7 2553.5 2202.7 2551.0 2191.0 C2548.5 2179.3 2546.5 2165.0 2548.0 2153.0 C2549.5 2141.0 2553.3 2129.3 2560.0 2119.0 C2566.7 2108.7 2578.0 2100.2 2588.0 2091.0 C2598.0 2081.8 2608.5 2073.5 2620.0 2064.0 C2631.5 2054.5 2645.8 2044.0 2657.0 2034.0 C2668.2 2024.0 2679.0 2014.0 2687.0 2004.0 C2695.0 1994.0 2701.7 1984.3 2705.0 1974.0 C2708.3 1963.7 2710.0 1952.3 2707.0 1942.0 C2704.0 1931.7 2695.3 1922.0 2687.0 1912.0 C2678.7 1902.0 2665.2 1894.5 2657.0 1882.0 C2648.8 1869.5 2643.2 1852.7 2638.0 1837.0 C2632.8 1821.3 2627.7 1802.3 2626.0 1788.0 C2624.3 1773.7 2626.2 1763.5 2628.0 1751.0 C2629.8 1738.5 2631.3 1725.5 2637.0 1713.0 C2642.7 1700.5 2651.5 1688.3 2662.0 1676.0 C2672.5 1663.7 2690.3 1649.3 2700.0 1639.0 C2709.7 1628.7 2714.2 1620.5 2720.0 1614.0 C2725.8 1607.5 2731.2 1605.7 2735.0 1600.0 C2738.8 1594.3 2742.2 1588.8 2743.0 1580.0 C2743.8 1571.2 2742.5 1555.8 2740.0 1547.0 C2737.5 1538.2 2734.3 1536.5 2728.0 1527.0 C2721.7 1517.5 2709.7 1500.3 2702.0 1490.0 C2694.3 1479.7 2687.7 1473.3 2682.0 1465.0 C2676.3 1456.7 2670.7 1451.2 2668.0 1440.0 C2665.3 1428.8 2665.2 1410.3 2666.0 1398.0 C2666.8 1385.7 2668.5 1377.2 2673.0 1366.0 C2677.5 1354.8 2686.3 1343.0 2693.0 1331.0 C2699.7 1319.0 2707.2 1305.7 2713.0 1294.0 C2718.8 1282.3 2725.2 1268.5 2728.0 1261.0 Z" fill="#cef3fe" stroke="none" stroke-width="0" />
<g clip-path="url(#cL)">
<path d="M2147 787 2143 793 2138 802 2132 811 2126 822 2122 832 2118 841 2116 850 2114 858 2113 866 2112 873 2111 881 2111 888 2111 895 2111 901 2112 908 2113 916 2114 924 2115 933 2117 941 2118 949 2120 957 2121 964 2123 973 2126 982 2130 991 2136 1001 2142 1009 2148 1017 2155 1026 2162 1035 2170 1045 2179 1056 2189 1068 2198 1079 2208 1090 2217 1099 2226 1108 2234 1115 2242 1121 2248 1127 2253 1132 2257 1136 2261 1140 2266 1146 2272 1151 2280 1157 2288 1163 2296 1169 2304 1175 2312 1181 2320 1186 2328 1191 2335 1195 2342 1199 2349 1204 2356 1209 2364 1215 2372 1221 2380 1226 2386 1231 2390 1236 2393 1240 2395 1243 2398 1247 2403 1252 2409 1257 2414 1261 2414 1261 2411 1260 2408 1257 2407 1258 2407 1262 2407 1268 2407 1276 2408 1285 2409 1294 2410 1301 2411 1307 2411 1313 2410 1320 2410 1329 2409 1340 2408 1352 2407 1365 2405 1378 2406 1391 2407 1403 2408 1416 2409 1428 2409 1441 2409 1455 2409 1470 2409 1484 2408 1498 2407 1510 2406 1519 2405 1526 2404 1534 2402 1543 2400 1552 2398 1561 2396 1570 2394 1580 2392 1592 2390 1606 2388 1620 2387 1635 2386 1649 2385 1662 2384 1672 2384 1679 2383 1685 2383 1693 2384 1701 2385 1710 2386 1720 2388 1729 2390 1736 2392 1743 2393 1749 2394 1757 2396 1766 2397 1776 2398 1785 2399 1794 2400 1803 2401 1812 2401 1820 2402 1830 2402 1840 2402 1851 2402 1863 2402 1876 2402 1888 2402 1898 2402 1906 2401 1913 2401 1919 2400 1927 2399 1937 2398 1949 2397 1961 2396 1974 2395 1986 2394 1998 2393 2008 2392 2018 2391 2027 2389 2035 2388 2042 2387 2048 2386 2052 2384 2057 2383 2062 2381 2068 2378 2074 2376 2080 2373 2087 2370 2095 2367 2102 2364 2108 2361 2115 2357 2124 2353 2135 2349 2147 2346 2159 2345 2171 2343 2181 2343 2191 2342 2200 2342 2210 2342 2221 2342 2231 2342 2239 2342 2244 2466 2242 2466 2236 2466 2229 2466 2221 2466 2213 2466 2206 2466 2199 2467 2193 2468 2187 2468 2182 2469 2179 2470 2176 2471 2172 2474 2166 2478 2158 2481 2150 2484 2143 2487 2135 2491 2127 2494 2119 2497 2110 2500 2102 2503 2094 2505 2085 2508 2076 2510 2066 2512 2056 2513 2045 2515 2034 2516 2022 2518 2010 2519 1998 2520 1984 2521 1971 2522 1958 2523 1947 2524 1938 2524 1930 2525 1922 2526 1913 2526 1902 2526 1890 2526 1876 2526 1863 2526 1849 2526 1836 2526 1825 2525 1814 2524 1803 2524 1793 2523 1782 2521 1770 2520 1759 2518 1748 2517 1737 2515 1727 2513 1717 2511 1707 2509 1700 2508 1695 2507 1692 2507 1690 2507 1691 2507 1691 2507 1687 2508 1680 2508 1670 2509 1658 2510 1645 2511 1632 2512 1622 2514 1614 2515 1606 2517 1597 2520 1587 2522 1576 2524 1567 2526 1557 2527 1547 2529 1534 2531 1520 2532 1505 2532 1489 2533 1472 2533 1455 2533 1439 2533 1424 2532 1409 2531 1395 2530 1381 2529 1368 2525 1354 2521 1341 2518 1327 2514 1314 2510 1302 2506 1291 2502 1282 2498 1274 2495 1268 2492 1263 2489 1257 2486 1249 2482 1241 2478 1232 2472 1221 2463 1211 2454 1203 2447 1200 2444 1200 2443 1200 2441 1199 2437 1197 2432 1194 2427 1191 2420 1187 2413 1182 2404 1176 2395 1170 2386 1164 2377 1158 2369 1154 2361 1149 2354 1145 2347 1141 2340 1137 2333 1133 2325 1128 2317 1122 2310 1117 2304 1113 2299 1109 2295 1106 2291 1102 2286 1097 2280 1091 2272 1085 2264 1079 2256 1072 2248 1065 2240 1058 2232 1049 2222 1039 2212 1028 2203 1017 2194 1007 2187 999 2180 991 2174 984 2169 978 2166 973 2163 967 2161 962 2159 955 2157 948 2156 941 2154 933 2152 926 2150 918 2149 911 2148 904 2147 898 2147 892 2146 887 2146 882 2146 877 2147 870 2148 864 2149 857 2150 851 2152 844 2156 836 2160 827 2166 817 2170 809 2173 803Z" fill="#d8f5fe"/>
<path d="M2148 788 2144 794 2139 802 2133 812 2128 823 2123 832 2120 841 2117 850 2116 858 2114 866 2113 874 2113 881 2112 888 2113 894 2113 901 2114 908 2115 916 2116 924 2117 932 2119 941 2120 949 2122 956 2123 964 2125 972 2128 981 2132 991 2137 1000 2143 1008 2150 1016 2156 1024 2163 1033 2171 1043 2181 1055 2190 1067 2200 1078 2209 1088 2219 1098 2228 1106 2236 1113 2243 1119 2250 1125 2254 1130 2258 1134 2263 1139 2268 1144 2274 1149 2281 1155 2289 1161 2297 1167 2305 1173 2313 1179 2321 1184 2329 1188 2336 1193 2343 1197 2350 1201 2357 1207 2366 1213 2374 1219 2382 1224 2388 1229 2392 1234 2395 1237 2397 1241 2401 1245 2405 1250 2411 1254 2415 1258 2416 1259 2413 1257 2411 1255 2410 1256 2410 1261 2411 1267 2411 1275 2412 1284 2413 1293 2414 1300 2415 1306 2415 1312 2415 1319 2415 1328 2414 1340 2413 1352 2412 1365 2411 1378 2412 1390 2413 1403 2414 1416 2415 1428 2415 1441 2415 1455 2415 1470 2415 1485 2414 1499 2413 1510 2412 1520 2411 1527 2410 1535 2408 1544 2406 1553 2404 1562 2402 1571 2400 1582 2398 1593 2396 1606 2394 1621 2393 1635 2392 1649 2391 1662 2390 1673 2390 1680 2389 1686 2389 1693 2390 1701 2391 1709 2392 1718 2394 1727 2396 1735 2398 1741 2399 1748 2400 1756 2402 1765 2403 1775 2404 1784 2405 1794 2406 1802 2407 1811 2407 1820 2408 1829 2408 1839 2408 1851 2408 1863 2408 1876 2408 1888 2408 1898 2408 1906 2407 1913 2407 1920 2406 1928 2405 1938 2404 1949 2403 1962 2402 1975 2401 1987 2400 1998 2399 2009 2398 2018 2397 2028 2395 2036 2394 2043 2393 2049 2391 2054 2390 2059 2388 2064 2386 2070 2384 2076 2382 2082 2379 2089 2375 2097 2372 2104 2370 2111 2366 2118 2363 2126 2359 2137 2355 2149 2352 2160 2351 2171 2349 2182 2349 2191 2348 2200 2348 2211 2348 2221 2348 2231 2348 2239 2348 2244 2460 2242 2460 2237 2460 2229 2460 2221 2460 2213 2460 2206 2460 2199 2461 2192 2462 2186 2462 2181 2463 2177 2464 2174 2466 2170 2469 2164 2472 2156 2476 2148 2479 2140 2482 2133 2485 2125 2489 2116 2492 2108 2494 2100 2497 2092 2499 2084 2502 2075 2504 2065 2506 2055 2508 2044 2509 2033 2510 2021 2512 2010 2513 1997 2514 1984 2515 1970 2516 1957 2517 1946 2518 1937 2518 1930 2519 1921 2520 1912 2520 1902 2520 1890 2520 1876 2520 1863 2520 1849 2520 1837 2520 1825 2519 1814 2519 1804 2518 1793 2517 1782 2515 1771 2514 1760 2512 1749 2511 1738 2509 1728 2507 1718 2505 1709 2503 1701 2502 1696 2501 1693 2501 1691 2501 1691 2501 1690 2501 1687 2502 1679 2502 1669 2503 1657 2504 1644 2505 1632 2506 1622 2508 1613 2510 1605 2512 1596 2514 1585 2516 1575 2518 1565 2520 1556 2522 1546 2523 1533 2525 1520 2526 1505 2526 1488 2527 1472 2527 1455 2527 1439 2527 1424 2526 1409 2525 1395 2524 1381 2523 1368 2519 1355 2516 1341 2512 1328 2509 1315 2505 1303 2501 1292 2497 1283 2494 1275 2491 1269 2488 1264 2485 1258 2482 1250 2479 1242 2475 1233 2469 1223 2461 1213 2452 1206 2445 1203 2442 1203 2441 1202 2439 1201 2435 1199 2431 1196 2425 1193 2418 1189 2411 1184 2403 1178 2394 1172 2385 1166 2376 1161 2368 1156 2360 1151 2352 1147 2346 1144 2339 1139 2331 1135 2323 1130 2316 1124 2308 1119 2302 1115 2297 1111 2294 1107 2290 1104 2285 1099 2278 1093 2271 1087 2263 1080 2255 1074 2247 1067 2239 1060 2230 1051 2220 1040 2211 1029 2201 1019 2193 1009 2185 1000 2178 992 2172 986 2168 979 2164 973 2161 968 2159 962 2157 956 2156 949 2154 941 2152 934 2150 926 2149 918 2147 911 2146 904 2145 898 2145 892 2145 887 2144 882 2145 876 2145 870 2146 864 2147 857 2149 850 2151 844 2154 836 2159 826 2164 817 2169 808 2172 802Z" fill="#e6f8ff"/>
<path d="M2150 789 2146 795 2141 803 2135 813 2130 824 2125 833 2122 842 2119 851 2118 859 2116 866 2116 874 2115 881 2115 888 2115 894 2115 901 2116 908 2117 915 2118 924 2119 932 2121 940 2123 948 2124 956 2126 963 2127 971 2130 980 2134 989 2140 998 2145 1006 2152 1014 2158 1023 2165 1031 2174 1042 2183 1053 2192 1065 2202 1076 2211 1086 2221 1095 2229 1104 2238 1111 2245 1117 2252 1123 2257 1128 2261 1132 2265 1136 2270 1141 2276 1147 2283 1153 2291 1159 2299 1164 2307 1170 2315 1176 2323 1181 2331 1185 2338 1190 2345 1194 2352 1198 2359 1204 2368 1210 2376 1216 2384 1221 2390 1226 2394 1231 2397 1234 2400 1238 2403 1242 2408 1246 2413 1251 2418 1254 2419 1255 2417 1254 2415 1253 2415 1255 2415 1259 2416 1266 2416 1274 2418 1283 2419 1291 2420 1298 2421 1304 2421 1310 2421 1318 2421 1327 2421 1339 2421 1351 2420 1364 2419 1377 2420 1390 2421 1402 2422 1415 2423 1428 2423 1441 2423 1455 2423 1470 2423 1485 2422 1499 2421 1511 2420 1521 2419 1529 2418 1536 2416 1545 2414 1555 2412 1564 2410 1573 2408 1583 2405 1595 2403 1608 2402 1621 2401 1636 2400 1650 2399 1663 2398 1673 2398 1680 2397 1686 2397 1693 2398 1700 2399 1708 2400 1717 2402 1725 2404 1733 2405 1740 2407 1747 2408 1755 2410 1764 2411 1774 2412 1783 2413 1793 2414 1802 2415 1811 2415 1820 2416 1829 2416 1839 2416 1851 2416 1863 2416 1876 2416 1888 2416 1899 2416 1907 2415 1914 2415 1921 2414 1929 2413 1938 2412 1950 2411 1962 2410 1975 2409 1988 2408 1999 2407 2009 2406 2019 2405 2029 2403 2037 2402 2045 2401 2051 2399 2056 2398 2061 2396 2067 2394 2073 2392 2079 2389 2085 2386 2092 2383 2100 2380 2107 2377 2114 2374 2121 2370 2129 2366 2139 2363 2151 2360 2162 2358 2172 2357 2182 2357 2192 2356 2201 2356 2211 2356 2221 2356 2231 2356 2238 2356 2244 2452 2242 2452 2237 2452 2229 2452 2221 2452 2213 2452 2205 2452 2198 2453 2191 2454 2185 2454 2180 2455 2175 2457 2171 2459 2166 2461 2160 2465 2153 2468 2145 2471 2137 2474 2130 2478 2122 2481 2114 2484 2105 2487 2097 2489 2090 2492 2082 2494 2073 2496 2063 2498 2053 2500 2043 2501 2032 2502 2021 2504 2009 2505 1996 2506 1983 2507 1969 2508 1957 2509 1946 2510 1937 2510 1929 2511 1921 2512 1912 2512 1901 2512 1889 2512 1876 2512 1863 2512 1849 2512 1837 2512 1825 2511 1815 2511 1804 2510 1794 2509 1783 2508 1772 2506 1761 2505 1750 2503 1740 2501 1729 2499 1719 2497 1710 2495 1703 2494 1698 2493 1694 2493 1692 2493 1691 2493 1690 2493 1686 2494 1679 2495 1669 2495 1657 2496 1644 2497 1631 2499 1620 2500 1612 2502 1603 2504 1594 2506 1584 2508 1573 2510 1564 2512 1555 2514 1544 2515 1532 2517 1519 2518 1504 2518 1488 2519 1472 2519 1455 2519 1439 2519 1424 2518 1410 2517 1396 2516 1382 2515 1369 2512 1356 2509 1342 2505 1329 2502 1316 2499 1304 2495 1294 2492 1284 2488 1277 2485 1271 2482 1265 2480 1259 2477 1252 2474 1243 2470 1234 2465 1225 2457 1216 2449 1210 2443 1207 2440 1206 2438 1206 2436 1204 2432 1202 2428 1199 2423 1196 2416 1192 2409 1187 2401 1181 2392 1175 2383 1169 2374 1164 2366 1159 2358 1154 2351 1150 2344 1146 2337 1142 2329 1137 2321 1132 2314 1127 2306 1122 2300 1117 2295 1113 2292 1110 2288 1106 2283 1101 2276 1095 2269 1089 2261 1083 2253 1076 2245 1069 2237 1062 2228 1053 2218 1042 2208 1031 2199 1020 2191 1011 2183 1002 2176 994 2170 987 2166 981 2162 975 2159 969 2157 963 2155 956 2153 949 2151 942 2150 934 2148 926 2146 919 2145 911 2144 904 2143 898 2143 892 2142 887 2142 882 2142 876 2143 870 2144 863 2145 856 2147 850 2149 843 2152 835 2157 825 2162 815 2167 807 2170 801Z" fill="#ffffff"/>
<path d="M2150 789 2147 795 2142 804 2136 813 2130 824 2126 833 2122 842 2120 851 2118 859 2117 866 2116 874 2115 881 2115 888 2115 894 2116 901 2117 908 2117 915 2119 923 2120 932 2122 940 2123 948 2125 956 2126 963 2128 971 2131 980 2135 989 2140 998 2146 1006 2152 1014 2159 1022 2166 1031 2174 1041 2183 1052 2193 1064 2203 1076 2212 1086 2221 1095 2230 1103 2238 1110 2246 1117 2252 1122 2257 1127 2261 1131 2265 1136 2270 1141 2276 1146 2284 1152 2291 1158 2299 1164 2308 1170 2316 1175 2323 1180 2331 1185 2338 1189 2345 1193 2352 1198 2360 1203 2368 1209 2376 1215 2384 1221 2391 1226 2395 1230 2398 1234 2401 1237 2404 1241 2408 1245 2414 1250 2418 1253 2419 1254 2418 1253 2416 1252 2416 1254 2416 1259 2417 1266 2418 1274 2419 1283 2420 1291 2422 1298 2422 1304 2423 1310 2423 1317 2423 1327 2423 1338 2422 1351 2422 1364 2421 1377 2422 1390 2423 1402 2424 1415 2425 1428 2425 1441 2425 1455 2425 1470 2425 1485 2424 1499 2423 1511 2422 1521 2421 1529 2419 1537 2418 1546 2416 1555 2414 1564 2412 1573 2410 1584 2407 1595 2405 1608 2404 1622 2403 1636 2402 1650 2401 1663 2400 1673 2400 1680 2399 1686 2399 1693 2400 1700 2400 1708 2402 1716 2404 1725 2406 1732 2407 1739 2409 1746 2410 1754 2412 1764 2413 1774 2414 1783 2415 1793 2416 1802 2417 1811 2417 1820 2418 1829 2418 1839 2418 1851 2418 1863 2418 1876 2418 1888 2418 1899 2418 1907 2417 1914 2417 1921 2416 1929 2415 1938 2414 1950 2413 1963 2412 1975 2411 1988 2410 1999 2409 2010 2408 2020 2407 2029 2405 2037 2404 2045 2403 2051 2401 2057 2400 2062 2398 2067 2396 2074 2393 2080 2391 2086 2388 2093 2385 2101 2382 2108 2379 2115 2376 2122 2372 2130 2368 2140 2365 2151 2362 2162 2360 2173 2359 2183 2359 2192 2358 2201 2358 2211 2358 2221 2358 2231 2358 2238 2358 2244 2450 2242 2450 2237 2450 2229 2450 2221 2450 2213 2450 2205 2450 2198 2451 2191 2452 2185 2452 2179 2453 2175 2455 2171 2457 2166 2459 2159 2463 2152 2466 2144 2470 2136 2473 2129 2476 2121 2479 2113 2482 2104 2485 2097 2487 2089 2490 2081 2492 2073 2494 2063 2496 2053 2498 2042 2499 2031 2500 2020 2502 2009 2503 1996 2504 1983 2505 1969 2506 1957 2507 1946 2508 1937 2508 1929 2509 1921 2510 1912 2510 1901 2510 1889 2510 1876 2510 1863 2510 1849 2510 1837 2510 1825 2509 1815 2509 1804 2508 1794 2507 1783 2506 1772 2504 1761 2503 1750 2501 1740 2499 1730 2497 1720 2495 1711 2493 1704 2492 1698 2492 1694 2491 1692 2491 1691 2491 1690 2491 1686 2492 1679 2493 1669 2493 1656 2494 1643 2495 1631 2497 1620 2498 1611 2500 1603 2502 1593 2504 1583 2506 1573 2508 1563 2510 1554 2512 1544 2513 1532 2515 1519 2516 1504 2516 1488 2517 1471 2517 1455 2517 1439 2517 1424 2516 1410 2515 1396 2514 1382 2513 1369 2510 1356 2507 1342 2503 1329 2500 1316 2497 1305 2494 1294 2490 1285 2487 1277 2484 1271 2481 1265 2478 1259 2476 1252 2473 1244 2469 1235 2464 1226 2457 1217 2449 1211 2443 1208 2440 1207 2438 1207 2435 1205 2432 1203 2427 1200 2422 1196 2415 1192 2408 1187 2400 1182 2391 1176 2382 1170 2374 1164 2366 1159 2358 1155 2350 1151 2343 1147 2336 1143 2329 1138 2321 1133 2313 1128 2306 1122 2300 1118 2295 1114 2291 1110 2287 1106 2282 1102 2276 1096 2268 1090 2261 1083 2252 1077 2244 1070 2236 1062 2227 1053 2218 1043 2208 1032 2198 1021 2190 1011 2183 1002 2176 995 2170 988 2165 981 2161 975 2158 969 2156 963 2154 957 2153 949 2151 942 2149 934 2147 927 2146 919 2144 911 2143 904 2143 898 2142 892 2142 887 2142 882 2142 876 2143 870 2143 863 2145 856 2146 850 2148 843 2152 834 2157 825 2162 815 2167 807 2170 801Z" fill="#e4f7fe"/>
<path d="M2150 790 2147 795 2142 804 2136 814 2130 824 2126 834 2123 842 2120 851 2119 859 2117 866 2117 874 2116 881 2116 888 2116 894 2116 901 2117 908 2118 915 2119 923 2120 932 2122 940 2124 948 2125 955 2127 963 2129 971 2131 980 2135 989 2140 997 2146 1006 2153 1014 2159 1022 2166 1031 2174 1041 2184 1052 2193 1064 2203 1075 2212 1085 2221 1094 2230 1103 2239 1110 2246 1116 2252 1122 2257 1127 2262 1131 2266 1135 2271 1140 2277 1146 2284 1151 2292 1157 2300 1163 2308 1169 2316 1175 2324 1180 2331 1184 2339 1188 2346 1193 2353 1197 2360 1202 2369 1208 2377 1214 2385 1220 2391 1225 2395 1229 2398 1233 2401 1237 2404 1240 2409 1245 2414 1249 2419 1252 2420 1253 2418 1253 2417 1252 2417 1254 2417 1259 2418 1266 2419 1274 2420 1282 2421 1290 2423 1297 2423 1303 2424 1310 2424 1317 2424 1327 2424 1338 2424 1351 2423 1364 2423 1377 2424 1390 2425 1402 2426 1415 2426 1428 2427 1441 2427 1455 2426 1470 2426 1485 2425 1499 2425 1511 2424 1521 2422 1529 2421 1537 2419 1546 2417 1555 2416 1565 2413 1574 2411 1584 2409 1595 2407 1608 2405 1622 2404 1636 2403 1650 2402 1663 2402 1673 2401 1680 2401 1686 2401 1693 2401 1700 2402 1707 2403 1716 2405 1725 2407 1732 2409 1739 2410 1746 2412 1754 2413 1764 2414 1773 2416 1783 2417 1792 2418 1802 2418 1810 2419 1819 2419 1829 2420 1839 2420 1851 2420 1863 2420 1876 2420 1888 2420 1899 2419 1907 2419 1914 2418 1921 2417 1929 2417 1939 2416 1950 2415 1963 2414 1976 2413 1988 2412 1999 2411 2010 2409 2020 2408 2029 2407 2038 2405 2045 2404 2052 2403 2057 2401 2062 2399 2068 2397 2074 2395 2080 2392 2087 2389 2094 2386 2101 2383 2109 2380 2115 2377 2122 2373 2131 2369 2141 2366 2152 2364 2163 2362 2173 2361 2183 2360 2192 2360 2201 2359 2211 2359 2221 2359 2231 2359 2238 2360 2244 2448 2242 2448 2237 2448 2229 2448 2221 2448 2213 2448 2205 2449 2198 2449 2191 2450 2185 2451 2179 2452 2174 2453 2170 2455 2165 2458 2159 2462 2151 2465 2143 2468 2136 2471 2128 2475 2121 2478 2112 2481 2104 2484 2096 2486 2089 2488 2081 2491 2072 2493 2063 2494 2053 2496 2042 2498 2031 2499 2020 2500 2009 2501 1996 2503 1983 2504 1969 2505 1957 2505 1945 2506 1936 2507 1929 2507 1921 2508 1912 2508 1901 2509 1889 2509 1876 2509 1863 2509 1849 2508 1837 2508 1826 2508 1815 2507 1804 2506 1794 2505 1784 2504 1773 2503 1761 2501 1751 2499 1740 2498 1730 2496 1720 2494 1711 2492 1704 2491 1699 2490 1695 2490 1692 2490 1691 2490 1690 2490 1686 2490 1679 2491 1669 2492 1656 2493 1643 2494 1631 2495 1620 2497 1611 2498 1602 2500 1593 2503 1583 2505 1573 2506 1563 2508 1554 2510 1544 2512 1532 2513 1519 2514 1504 2515 1488 2515 1471 2516 1455 2515 1439 2515 1424 2514 1410 2513 1396 2512 1382 2511 1369 2508 1356 2505 1342 2502 1329 2499 1317 2496 1305 2492 1294 2489 1285 2486 1278 2483 1271 2480 1266 2477 1259 2475 1252 2472 1244 2468 1235 2463 1226 2456 1218 2448 1212 2442 1209 2439 1208 2437 1207 2435 1206 2431 1203 2427 1200 2422 1197 2415 1193 2408 1188 2400 1182 2391 1176 2382 1170 2373 1165 2365 1160 2357 1156 2350 1152 2343 1148 2336 1143 2328 1139 2321 1133 2313 1128 2305 1123 2299 1118 2294 1114 2291 1111 2287 1107 2282 1102 2276 1096 2268 1090 2260 1084 2252 1077 2244 1070 2236 1063 2227 1053 2217 1043 2207 1032 2198 1021 2190 1011 2182 1003 2175 995 2169 988 2165 981 2161 975 2158 969 2156 963 2154 957 2152 950 2150 942 2149 934 2147 927 2145 919 2144 911 2143 904 2142 898 2142 892 2141 887 2141 882 2141 876 2142 870 2143 863 2144 856 2146 849 2148 842 2152 834 2156 825 2162 815 2166 807 2170 800Z" fill="#c9d8fb"/>
<path d="M2151 790 2147 796 2142 804 2136 814 2131 824 2126 834 2123 842 2121 851 2119 859 2118 867 2117 874 2116 881 2116 888 2116 894 2117 901 2117 908 2118 915 2119 923 2121 932 2122 940 2124 948 2126 955 2127 963 2129 971 2132 980 2136 989 2141 997 2147 1005 2153 1013 2160 1022 2167 1030 2175 1041 2184 1052 2194 1063 2203 1075 2213 1085 2222 1094 2231 1102 2239 1109 2247 1116 2253 1121 2258 1126 2262 1131 2266 1135 2271 1140 2277 1145 2284 1151 2292 1157 2300 1163 2308 1169 2316 1174 2324 1179 2332 1184 2339 1188 2346 1192 2353 1197 2361 1202 2369 1208 2377 1214 2385 1220 2391 1224 2396 1229 2399 1233 2402 1236 2405 1240 2409 1244 2415 1248 2419 1251 2420 1252 2419 1252 2418 1251 2418 1254 2418 1258 2419 1265 2420 1273 2421 1282 2422 1290 2424 1297 2425 1303 2425 1309 2425 1317 2426 1327 2425 1338 2425 1351 2425 1364 2424 1377 2425 1389 2426 1402 2427 1415 2428 1428 2428 1441 2428 1455 2428 1470 2428 1485 2427 1499 2426 1511 2425 1521 2424 1529 2422 1537 2421 1546 2419 1556 2417 1565 2415 1574 2413 1584 2410 1596 2408 1608 2407 1622 2406 1636 2405 1650 2404 1663 2403 1673 2403 1681 2402 1686 2402 1693 2403 1700 2403 1707 2405 1716 2407 1724 2409 1732 2410 1739 2412 1746 2413 1754 2415 1763 2416 1773 2417 1783 2418 1792 2419 1801 2420 1810 2420 1819 2421 1829 2421 1839 2421 1851 2421 1863 2421 1876 2421 1888 2421 1899 2421 1907 2420 1914 2420 1921 2419 1929 2418 1939 2417 1950 2416 1963 2415 1976 2414 1988 2413 2000 2412 2010 2411 2020 2410 2029 2408 2038 2407 2046 2405 2052 2404 2058 2402 2063 2401 2068 2398 2075 2396 2081 2394 2087 2391 2094 2387 2102 2384 2109 2382 2116 2378 2123 2375 2131 2371 2141 2367 2152 2365 2163 2363 2173 2362 2183 2362 2192 2361 2201 2361 2211 2361 2221 2361 2231 2361 2238 2361 2244 2447 2242 2447 2237 2447 2229 2447 2221 2447 2213 2447 2205 2447 2198 2448 2191 2449 2184 2450 2179 2451 2174 2452 2170 2454 2165 2457 2158 2460 2151 2464 2143 2467 2135 2470 2128 2473 2120 2476 2112 2480 2103 2482 2096 2485 2088 2487 2080 2489 2072 2491 2062 2493 2052 2495 2042 2496 2031 2497 2020 2499 2008 2500 1996 2501 1983 2502 1969 2503 1956 2504 1945 2505 1936 2505 1928 2506 1920 2507 1912 2507 1901 2507 1889 2507 1876 2507 1863 2507 1849 2507 1837 2507 1826 2506 1815 2506 1805 2505 1794 2504 1784 2503 1773 2501 1762 2500 1751 2498 1740 2496 1730 2494 1721 2492 1712 2491 1704 2489 1699 2489 1695 2488 1692 2488 1691 2488 1690 2488 1686 2489 1679 2490 1668 2490 1656 2491 1643 2492 1631 2494 1620 2495 1611 2497 1602 2499 1593 2501 1583 2503 1572 2505 1563 2507 1554 2509 1543 2510 1532 2512 1519 2513 1504 2513 1488 2514 1471 2514 1455 2514 1439 2514 1424 2513 1410 2512 1396 2511 1382 2510 1369 2507 1356 2504 1343 2501 1329 2498 1317 2495 1305 2491 1294 2488 1285 2485 1278 2482 1272 2479 1266 2476 1260 2474 1252 2471 1244 2467 1236 2462 1227 2455 1218 2448 1212 2442 1210 2439 1209 2437 1208 2434 1206 2431 1204 2426 1201 2421 1197 2415 1194 2408 1188 2399 1183 2391 1177 2382 1171 2373 1165 2365 1160 2357 1156 2350 1152 2343 1148 2336 1144 2328 1139 2320 1134 2312 1129 2305 1123 2299 1119 2294 1115 2290 1111 2286 1107 2281 1102 2275 1097 2268 1090 2260 1084 2252 1078 2243 1071 2235 1063 2226 1054 2217 1043 2207 1032 2198 1021 2189 1012 2182 1003 2175 995 2169 988 2164 982 2160 975 2157 969 2155 963 2153 957 2152 950 2150 942 2148 934 2146 927 2145 919 2144 912 2143 904 2142 898 2141 892 2141 887 2141 882 2141 876 2142 870 2143 863 2144 856 2145 849 2148 842 2151 834 2156 825 2161 815 2166 806 2169 800Z" fill="#eaf9fe"/>
<path d="M2152 790 2149 796 2144 805 2138 815 2132 825 2128 834 2125 843 2122 851 2121 859 2120 867 2119 874 2118 881 2118 888 2118 894 2119 900 2119 907 2120 915 2121 923 2123 931 2124 940 2126 947 2127 955 2129 962 2131 970 2134 979 2137 988 2142 996 2148 1004 2154 1012 2161 1020 2168 1029 2176 1039 2186 1050 2195 1062 2205 1073 2214 1084 2223 1092 2232 1100 2240 1108 2248 1114 2254 1120 2260 1125 2264 1129 2268 1133 2273 1138 2279 1143 2286 1149 2293 1155 2302 1161 2310 1167 2318 1172 2325 1177 2333 1181 2340 1186 2347 1190 2354 1194 2362 1200 2370 1206 2379 1212 2387 1217 2393 1222 2397 1227 2401 1230 2404 1234 2407 1237 2411 1242 2416 1246 2421 1248 2422 1250 2421 1250 2421 1250 2421 1252 2422 1257 2423 1264 2424 1272 2425 1281 2427 1289 2428 1296 2429 1302 2430 1308 2430 1316 2431 1326 2431 1338 2431 1350 2430 1363 2430 1376 2431 1389 2432 1402 2433 1414 2434 1427 2434 1441 2434 1455 2434 1470 2434 1485 2433 1500 2432 1512 2431 1522 2430 1530 2428 1539 2427 1547 2425 1557 2423 1566 2421 1575 2419 1585 2416 1597 2414 1609 2413 1623 2412 1637 2410 1651 2410 1663 2409 1674 2409 1681 2408 1687 2408 1693 2409 1699 2409 1706 2411 1715 2413 1723 2415 1730 2416 1737 2418 1745 2419 1753 2420 1763 2422 1772 2423 1782 2424 1792 2425 1801 2426 1810 2426 1819 2427 1829 2427 1839 2427 1850 2427 1863 2427 1876 2427 1888 2427 1899 2427 1907 2426 1915 2426 1922 2425 1929 2424 1939 2423 1951 2422 1963 2421 1976 2420 1989 2419 2000 2418 2011 2417 2021 2416 2030 2414 2039 2413 2047 2411 2053 2410 2059 2408 2065 2406 2070 2404 2077 2402 2083 2399 2090 2396 2097 2393 2104 2390 2112 2387 2118 2384 2126 2380 2134 2376 2143 2373 2154 2371 2164 2369 2174 2368 2183 2368 2192 2367 2201 2367 2211 2367 2221 2367 2231 2367 2238 2367 2244 2441 2242 2441 2237 2441 2229 2441 2221 2441 2212 2441 2205 2441 2198 2442 2190 2443 2184 2444 2178 2445 2172 2446 2168 2448 2162 2451 2156 2455 2148 2458 2140 2461 2133 2464 2125 2468 2118 2471 2110 2474 2101 2476 2094 2479 2087 2481 2079 2483 2070 2485 2061 2487 2051 2489 2041 2490 2030 2492 2019 2493 2008 2494 1995 2495 1982 2496 1969 2497 1956 2498 1945 2499 1936 2499 1928 2500 1920 2501 1911 2501 1901 2501 1889 2501 1876 2501 1863 2501 1849 2501 1837 2501 1826 2500 1815 2500 1805 2499 1795 2498 1784 2497 1773 2495 1762 2494 1752 2492 1741 2490 1731 2489 1722 2486 1713 2485 1706 2483 1700 2483 1696 2482 1693 2482 1691 2482 1690 2482 1685 2483 1678 2484 1668 2484 1656 2485 1643 2486 1630 2488 1619 2489 1610 2491 1601 2493 1591 2495 1581 2497 1571 2499 1562 2501 1553 2503 1542 2505 1531 2506 1518 2507 1504 2507 1488 2508 1471 2508 1455 2508 1439 2508 1425 2507 1410 2506 1396 2505 1383 2504 1370 2501 1357 2498 1343 2496 1330 2493 1317 2490 1306 2487 1296 2483 1287 2480 1279 2478 1273 2475 1267 2472 1261 2470 1253 2467 1245 2464 1237 2459 1228 2453 1220 2446 1215 2440 1212 2437 1211 2435 1210 2432 1209 2429 1206 2424 1203 2419 1200 2413 1196 2406 1191 2398 1185 2389 1179 2380 1173 2372 1168 2364 1163 2356 1158 2349 1154 2341 1150 2334 1146 2327 1141 2319 1136 2311 1131 2304 1125 2297 1121 2292 1116 2288 1113 2284 1109 2280 1104 2274 1098 2266 1092 2258 1086 2250 1079 2242 1072 2234 1064 2225 1055 2215 1045 2205 1034 2196 1023 2188 1013 2180 1004 2173 996 2168 989 2163 983 2159 976 2155 970 2153 964 2152 957 2150 950 2148 943 2146 935 2145 927 2143 919 2142 912 2141 905 2140 898 2139 893 2139 887 2139 882 2139 876 2140 869 2141 863 2142 856 2144 849 2146 842 2150 833 2155 824 2160 814 2165 806 2168 800Z" fill="#8fe8f8"/>
<path d="M2152 791 2149 796 2144 805 2138 815 2133 825 2128 834 2125 843 2123 851 2121 859 2120 867 2119 874 2118 881 2118 888 2119 894 2119 900 2120 907 2121 915 2122 923 2123 931 2125 939 2126 947 2128 955 2129 962 2131 970 2134 979 2138 987 2143 996 2149 1004 2155 1012 2162 1020 2169 1029 2177 1039 2186 1050 2196 1062 2205 1073 2215 1083 2224 1092 2233 1100 2241 1107 2248 1113 2255 1119 2260 1124 2264 1129 2268 1133 2273 1138 2279 1143 2286 1149 2294 1154 2302 1160 2310 1166 2318 1171 2326 1176 2333 1181 2341 1185 2348 1189 2355 1194 2362 1199 2371 1205 2379 1211 2387 1217 2393 1222 2398 1226 2401 1230 2404 1233 2407 1237 2412 1241 2417 1245 2421 1248 2422 1249 2422 1249 2422 1249 2422 1252 2423 1257 2424 1264 2425 1272 2426 1281 2428 1288 2429 1295 2430 1302 2431 1308 2432 1316 2432 1326 2432 1337 2432 1350 2432 1363 2432 1376 2433 1389 2434 1402 2435 1414 2435 1427 2436 1441 2436 1455 2435 1470 2435 1485 2434 1500 2434 1512 2433 1522 2431 1531 2430 1539 2428 1548 2426 1557 2424 1566 2422 1576 2420 1586 2418 1597 2416 1609 2414 1623 2413 1637 2412 1651 2411 1664 2411 1674 2410 1681 2410 1687 2410 1693 2410 1699 2411 1706 2412 1714 2414 1723 2416 1730 2418 1737 2419 1744 2420 1753 2422 1762 2423 1772 2425 1782 2426 1792 2427 1801 2427 1810 2428 1819 2428 1829 2429 1839 2429 1850 2429 1863 2429 1876 2429 1888 2429 1899 2428 1908 2428 1915 2427 1922 2426 1930 2426 1939 2425 1951 2424 1963 2423 1976 2422 1989 2421 2000 2420 2011 2418 2021 2417 2031 2416 2039 2414 2047 2413 2054 2411 2060 2410 2065 2408 2071 2406 2077 2403 2084 2401 2090 2398 2097 2394 2105 2391 2112 2388 2119 2385 2126 2382 2134 2378 2144 2375 2154 2372 2164 2371 2174 2370 2184 2369 2192 2369 2201 2368 2211 2368 2221 2368 2230 2368 2238 2369 2244 2439 2242 2439 2237 2439 2229 2439 2221 2439 2212 2439 2205 2440 2197 2441 2190 2441 2183 2442 2177 2443 2172 2445 2167 2447 2162 2450 2155 2453 2148 2457 2140 2460 2132 2463 2125 2466 2117 2469 2109 2472 2101 2475 2093 2477 2086 2480 2078 2482 2070 2484 2061 2486 2051 2487 2041 2489 2030 2490 2019 2491 2008 2493 1995 2494 1982 2495 1969 2496 1956 2496 1945 2497 1936 2498 1928 2499 1920 2499 1911 2499 1901 2500 1889 2500 1876 2500 1863 2500 1849 2499 1837 2499 1826 2499 1815 2498 1805 2497 1795 2496 1784 2495 1774 2494 1763 2492 1752 2491 1742 2489 1732 2487 1722 2485 1713 2483 1706 2482 1700 2481 1696 2481 1693 2481 1691 2481 1690 2481 1685 2481 1678 2482 1668 2483 1656 2484 1643 2485 1630 2486 1619 2488 1609 2489 1600 2492 1591 2494 1581 2496 1571 2498 1561 2499 1552 2501 1542 2503 1531 2504 1518 2505 1503 2506 1488 2506 1471 2507 1455 2506 1439 2506 1425 2505 1410 2505 1397 2503 1383 2502 1370 2500 1357 2497 1343 2494 1330 2491 1318 2488 1306 2485 1296 2482 1287 2479 1280 2477 1273 2474 1267 2472 1261 2469 1253 2466 1245 2463 1237 2458 1229 2452 1221 2445 1216 2440 1213 2437 1212 2434 1211 2432 1209 2428 1207 2424 1204 2419 1200 2413 1196 2406 1191 2397 1185 2389 1179 2380 1174 2371 1168 2363 1163 2356 1159 2348 1155 2341 1151 2334 1147 2326 1142 2318 1136 2311 1131 2303 1126 2297 1121 2292 1117 2288 1113 2284 1109 2279 1104 2273 1099 2266 1093 2258 1086 2250 1080 2242 1073 2233 1065 2224 1056 2215 1045 2205 1034 2196 1023 2187 1013 2180 1005 2173 997 2167 990 2162 983 2158 977 2155 970 2153 964 2151 957 2149 950 2148 943 2146 935 2144 927 2143 919 2141 912 2140 905 2140 898 2139 893 2139 887 2139 882 2139 876 2140 869 2141 863 2142 856 2144 849 2146 842 2149 833 2154 824 2160 814 2164 805 2168 799Z" fill="#ffffff"/>
<path d="M2153 791 2150 797 2145 805 2139 815 2133 825 2129 835 2126 843 2124 852 2122 859 2121 867 2120 874 2119 881 2119 888 2120 894 2120 900 2121 907 2122 915 2123 923 2124 931 2126 939 2127 947 2129 955 2130 962 2132 970 2135 978 2139 987 2144 995 2150 1003 2156 1011 2162 1019 2170 1028 2178 1038 2187 1049 2197 1061 2206 1072 2216 1082 2225 1091 2233 1099 2242 1106 2249 1112 2256 1118 2261 1123 2265 1128 2269 1132 2274 1137 2280 1142 2287 1147 2295 1153 2303 1159 2311 1165 2319 1170 2326 1175 2334 1180 2341 1184 2348 1188 2356 1193 2363 1198 2372 1204 2380 1210 2388 1216 2394 1220 2399 1225 2402 1229 2405 1232 2409 1235 2413 1239 2418 1243 2422 1246 2424 1247 2424 1248 2423 1248 2424 1251 2425 1257 2426 1264 2427 1272 2428 1280 2430 1288 2431 1294 2433 1301 2434 1308 2434 1315 2435 1325 2435 1337 2435 1350 2435 1363 2435 1376 2436 1389 2437 1401 2438 1414 2439 1427 2439 1440 2439 1455 2439 1470 2439 1485 2438 1500 2437 1512 2436 1522 2435 1531 2433 1540 2431 1548 2430 1558 2428 1567 2426 1576 2423 1586 2421 1598 2419 1610 2418 1623 2417 1637 2415 1651 2415 1664 2414 1674 2414 1681 2413 1687 2413 1693 2414 1699 2414 1706 2416 1714 2418 1722 2419 1729 2421 1736 2423 1744 2424 1752 2425 1762 2427 1772 2428 1782 2429 1791 2430 1800 2431 1810 2431 1819 2432 1828 2432 1839 2432 1850 2432 1863 2432 1876 2432 1888 2432 1899 2432 1908 2431 1915 2431 1922 2430 1930 2429 1940 2428 1951 2427 1964 2426 1977 2425 1989 2424 2001 2423 2011 2422 2021 2420 2031 2419 2040 2418 2048 2416 2055 2415 2060 2413 2066 2411 2072 2409 2078 2406 2085 2404 2092 2401 2099 2398 2106 2395 2114 2392 2120 2388 2128 2385 2136 2381 2145 2378 2155 2376 2165 2374 2175 2373 2184 2373 2193 2372 2201 2372 2211 2372 2221 2372 2230 2372 2238 2372 2243 2436 2243 2436 2237 2436 2229 2436 2221 2436 2212 2436 2205 2436 2197 2437 2190 2438 2183 2439 2177 2440 2171 2442 2166 2444 2160 2447 2154 2450 2146 2453 2138 2457 2131 2460 2124 2463 2116 2466 2108 2469 2100 2472 2092 2474 2085 2476 2078 2478 2069 2480 2060 2482 2051 2484 2040 2485 2030 2487 2019 2488 2007 2489 1995 2490 1982 2491 1968 2492 1956 2493 1944 2494 1935 2494 1927 2495 1920 2496 1911 2496 1901 2496 1889 2496 1876 2496 1863 2496 1849 2496 1837 2496 1826 2495 1815 2495 1805 2494 1795 2493 1785 2492 1774 2490 1763 2489 1752 2487 1742 2485 1732 2484 1723 2482 1714 2480 1707 2478 1701 2478 1696 2477 1693 2477 1691 2477 1689 2477 1685 2478 1678 2479 1668 2479 1655 2480 1642 2481 1629 2483 1618 2484 1609 2486 1600 2488 1590 2490 1580 2492 1570 2494 1561 2496 1552 2498 1542 2500 1530 2501 1518 2502 1503 2503 1488 2503 1471 2503 1455 2503 1440 2503 1425 2502 1411 2501 1397 2500 1383 2499 1370 2496 1357 2494 1344 2491 1330 2488 1318 2486 1307 2483 1296 2480 1288 2477 1280 2474 1274 2472 1268 2469 1261 2467 1254 2464 1246 2461 1238 2457 1230 2451 1222 2444 1217 2439 1215 2436 1214 2433 1213 2430 1211 2427 1208 2423 1205 2418 1201 2412 1198 2405 1192 2397 1187 2388 1181 2379 1175 2370 1169 2362 1165 2355 1160 2347 1156 2340 1152 2333 1148 2326 1143 2318 1138 2310 1132 2302 1127 2296 1122 2291 1118 2287 1114 2283 1110 2278 1105 2272 1100 2265 1094 2257 1087 2249 1081 2241 1074 2232 1066 2223 1057 2214 1046 2204 1035 2195 1024 2186 1014 2179 1005 2172 998 2166 990 2161 984 2157 977 2154 971 2152 964 2150 958 2148 950 2147 943 2145 935 2143 927 2142 920 2140 912 2139 905 2139 898 2138 893 2138 887 2138 882 2138 876 2139 869 2140 862 2141 855 2143 848 2145 841 2149 833 2154 823 2159 813 2164 805 2167 799Z" fill="#e8f8fe"/>
<path d="M2153 791 2150 797 2145 805 2139 815 2134 825 2129 835 2126 843 2124 852 2122 859 2121 867 2120 874 2120 881 2120 888 2120 894 2120 900 2121 907 2122 915 2123 923 2124 931 2126 939 2128 947 2129 955 2131 962 2133 970 2135 978 2139 987 2144 995 2150 1003 2156 1011 2163 1019 2170 1028 2178 1038 2187 1049 2197 1061 2207 1072 2216 1082 2225 1091 2234 1099 2242 1106 2249 1112 2256 1118 2261 1123 2265 1127 2270 1132 2274 1136 2280 1142 2287 1147 2295 1153 2303 1159 2311 1164 2319 1170 2327 1175 2334 1179 2341 1183 2349 1188 2356 1192 2364 1198 2372 1203 2380 1210 2388 1215 2395 1220 2399 1224 2403 1228 2406 1232 2409 1235 2413 1239 2418 1243 2422 1245 2424 1247 2424 1247 2424 1248 2425 1251 2426 1256 2427 1263 2428 1271 2429 1280 2431 1287 2432 1294 2433 1301 2434 1307 2435 1315 2436 1325 2436 1337 2436 1350 2436 1363 2436 1376 2437 1388 2438 1401 2439 1414 2440 1427 2440 1440 2440 1455 2440 1470 2440 1485 2439 1500 2438 1512 2437 1523 2436 1531 2434 1540 2432 1549 2431 1558 2429 1567 2427 1577 2424 1587 2422 1598 2420 1610 2419 1623 2418 1637 2416 1651 2416 1664 2415 1674 2415 1681 2414 1687 2414 1693 2415 1699 2415 1705 2417 1714 2419 1721 2420 1729 2422 1736 2423 1744 2425 1752 2426 1762 2428 1772 2429 1781 2430 1791 2431 1800 2432 1810 2432 1819 2433 1828 2433 1839 2433 1850 2433 1863 2433 1876 2433 1888 2433 1899 2433 1908 2432 1915 2432 1922 2431 1930 2430 1940 2429 1951 2428 1964 2427 1977 2426 1989 2425 2001 2424 2011 2423 2022 2421 2031 2420 2040 2419 2048 2417 2055 2416 2061 2414 2066 2412 2072 2410 2079 2407 2085 2405 2092 2402 2099 2398 2107 2395 2114 2392 2121 2389 2128 2386 2136 2382 2145 2379 2155 2377 2165 2375 2175 2374 2184 2374 2193 2373 2201 2373 2211 2373 2221 2373 2230 2373 2238 2373 2243 2435 2243 2435 2237 2435 2229 2435 2221 2435 2212 2435 2205 2435 2197 2436 2190 2437 2183 2438 2177 2439 2171 2441 2166 2443 2160 2446 2153 2449 2146 2453 2138 2456 2131 2459 2123 2462 2115 2465 2107 2468 2099 2471 2092 2473 2085 2475 2077 2477 2069 2479 2060 2481 2050 2483 2040 2484 2030 2486 2019 2487 2007 2488 1995 2489 1982 2490 1968 2491 1956 2492 1944 2493 1935 2493 1927 2494 1920 2495 1911 2495 1901 2495 1889 2495 1876 2495 1863 2495 1850 2495 1837 2495 1826 2494 1816 2494 1805 2493 1795 2492 1785 2491 1774 2489 1763 2488 1752 2486 1742 2485 1732 2483 1723 2481 1714 2479 1707 2477 1701 2477 1697 2476 1693 2476 1691 2476 1689 2476 1685 2477 1678 2478 1668 2478 1655 2479 1642 2480 1629 2482 1618 2483 1609 2485 1599 2487 1590 2489 1580 2491 1570 2493 1561 2495 1551 2497 1542 2499 1530 2500 1518 2501 1503 2502 1488 2502 1471 2502 1455 2502 1440 2502 1425 2501 1411 2500 1397 2499 1383 2498 1370 2495 1357 2493 1344 2490 1331 2488 1318 2485 1307 2482 1297 2479 1288 2476 1281 2473 1274 2471 1268 2469 1262 2466 1254 2463 1246 2460 1238 2456 1230 2450 1223 2444 1218 2439 1215 2435 1214 2433 1213 2430 1211 2427 1208 2423 1205 2418 1202 2411 1198 2404 1193 2396 1187 2388 1181 2379 1175 2370 1170 2362 1165 2355 1161 2347 1157 2340 1152 2333 1148 2325 1143 2317 1138 2310 1133 2302 1127 2296 1122 2291 1118 2287 1114 2283 1110 2278 1106 2272 1100 2265 1094 2257 1088 2249 1081 2240 1074 2232 1066 2223 1057 2214 1046 2204 1035 2195 1024 2186 1014 2179 1006 2172 998 2166 991 2161 984 2157 977 2154 971 2151 964 2150 958 2148 950 2146 943 2145 935 2143 927 2141 920 2140 912 2139 905 2138 898 2138 893 2137 887 2137 882 2138 876 2138 869 2139 862 2141 855 2142 848 2145 841 2148 833 2153 823 2159 813 2163 805 2167 799Z" fill="#7de4f7"/>
<path d="M2154 791 2150 797 2145 806 2140 816 2134 826 2130 835 2127 844 2125 852 2123 860 2122 867 2121 874 2120 881 2120 888 2120 894 2121 900 2122 907 2122 915 2124 923 2125 931 2127 939 2128 947 2130 954 2131 962 2133 970 2136 978 2140 986 2145 995 2150 1003 2156 1010 2163 1019 2170 1027 2179 1037 2188 1049 2197 1060 2207 1071 2216 1081 2225 1090 2234 1098 2242 1105 2250 1112 2256 1117 2262 1122 2266 1127 2270 1131 2275 1136 2281 1141 2288 1147 2295 1152 2303 1158 2312 1164 2319 1169 2327 1174 2335 1178 2342 1183 2349 1187 2356 1192 2364 1197 2372 1203 2381 1209 2389 1214 2395 1219 2400 1224 2403 1227 2406 1231 2410 1234 2414 1238 2419 1242 2423 1245 2425 1246 2425 1246 2425 1247 2426 1251 2427 1256 2428 1263 2429 1271 2430 1279 2432 1287 2434 1294 2435 1300 2436 1307 2437 1315 2437 1325 2438 1337 2438 1349 2438 1362 2438 1375 2439 1388 2440 1401 2441 1414 2442 1427 2442 1440 2442 1455 2442 1470 2442 1486 2441 1500 2440 1513 2439 1523 2438 1532 2436 1540 2434 1549 2433 1558 2431 1568 2429 1577 2426 1587 2424 1598 2422 1610 2421 1623 2419 1637 2418 1651 2418 1664 2417 1674 2417 1681 2416 1687 2416 1692 2417 1698 2417 1705 2419 1713 2420 1721 2422 1728 2424 1736 2425 1743 2427 1752 2428 1761 2430 1771 2431 1781 2432 1791 2433 1800 2434 1809 2434 1819 2435 1828 2435 1839 2435 1850 2435 1863 2435 1876 2435 1888 2435 1899 2435 1908 2434 1915 2434 1922 2433 1930 2432 1940 2431 1951 2430 1964 2429 1977 2428 1989 2427 2001 2426 2012 2425 2022 2423 2031 2422 2040 2421 2048 2419 2055 2418 2061 2416 2067 2414 2073 2412 2079 2409 2086 2407 2093 2404 2100 2400 2107 2397 2115 2394 2122 2391 2129 2388 2137 2384 2146 2381 2156 2379 2165 2377 2175 2376 2184 2376 2193 2375 2202 2375 2211 2375 2221 2375 2230 2375 2238 2375 2243 2433 2243 2433 2237 2433 2229 2433 2221 2433 2212 2433 2204 2433 2197 2434 2190 2435 2183 2436 2176 2437 2170 2439 2165 2441 2159 2444 2153 2447 2145 2451 2137 2454 2130 2457 2122 2460 2115 2463 2107 2466 2099 2469 2091 2471 2084 2473 2077 2475 2069 2477 2060 2479 2050 2481 2040 2482 2029 2484 2018 2485 2007 2486 1995 2487 1981 2488 1968 2489 1955 2490 1944 2491 1935 2491 1927 2492 1919 2493 1911 2493 1901 2493 1889 2493 1876 2493 1863 2493 1850 2493 1837 2493 1826 2492 1816 2492 1805 2491 1795 2490 1785 2489 1774 2487 1763 2486 1753 2484 1743 2483 1733 2481 1723 2479 1715 2477 1708 2476 1702 2475 1697 2474 1693 2474 1691 2474 1689 2474 1685 2475 1678 2476 1668 2476 1655 2477 1642 2478 1629 2480 1618 2481 1608 2483 1599 2485 1590 2487 1580 2489 1570 2491 1560 2493 1551 2495 1541 2497 1530 2498 1517 2499 1503 2500 1487 2500 1471 2500 1455 2500 1440 2500 1425 2499 1411 2498 1397 2497 1384 2496 1371 2494 1357 2491 1344 2489 1331 2486 1318 2483 1307 2480 1297 2478 1288 2475 1281 2472 1275 2470 1269 2467 1262 2465 1254 2462 1246 2459 1238 2455 1231 2449 1224 2443 1219 2438 1216 2435 1215 2432 1214 2429 1212 2426 1209 2422 1206 2417 1203 2411 1199 2404 1194 2396 1188 2387 1182 2378 1176 2370 1170 2362 1166 2354 1161 2347 1157 2340 1153 2333 1149 2325 1144 2317 1139 2309 1133 2302 1128 2295 1123 2290 1119 2286 1115 2282 1111 2277 1106 2272 1101 2264 1095 2256 1088 2248 1082 2240 1074 2232 1067 2223 1057 2213 1047 2203 1035 2194 1025 2186 1015 2178 1006 2171 998 2165 991 2160 984 2156 978 2153 971 2151 965 2149 958 2147 951 2146 943 2144 935 2142 928 2141 920 2139 912 2138 905 2138 899 2137 893 2137 887 2137 882 2137 876 2138 869 2139 862 2140 855 2142 848 2144 841 2148 832 2153 823 2158 813 2163 805 2166 799Z" fill="#f4fcff"/>
<path d="M2155 792 2152 798 2147 807 2141 817 2136 827 2132 836 2129 844 2127 852 2125 860 2124 867 2123 874 2123 881 2122 888 2123 894 2123 900 2124 907 2125 914 2126 922 2127 930 2129 939 2131 946 2132 954 2134 961 2136 969 2138 977 2142 985 2147 993 2152 1001 2159 1009 2165 1017 2173 1026 2181 1036 2190 1047 2200 1058 2209 1069 2219 1079 2227 1088 2236 1096 2244 1103 2252 1109 2259 1115 2264 1120 2268 1125 2272 1129 2277 1134 2283 1138 2290 1144 2297 1150 2305 1155 2313 1161 2321 1166 2329 1171 2336 1176 2344 1180 2351 1184 2358 1189 2366 1194 2374 1200 2383 1206 2391 1212 2397 1217 2402 1221 2406 1224 2409 1228 2412 1231 2416 1235 2421 1238 2425 1241 2427 1242 2428 1243 2429 1245 2430 1249 2432 1255 2433 1262 2434 1270 2436 1278 2438 1285 2439 1292 2441 1299 2442 1306 2443 1314 2444 1324 2445 1336 2445 1349 2446 1362 2446 1375 2447 1388 2448 1401 2449 1414 2450 1427 2450 1440 2450 1455 2450 1470 2450 1486 2449 1500 2448 1513 2447 1524 2446 1533 2444 1542 2442 1550 2440 1560 2439 1569 2436 1579 2434 1589 2432 1600 2430 1611 2429 1624 2427 1638 2426 1652 2426 1664 2425 1675 2425 1682 2424 1687 2424 1692 2424 1698 2425 1704 2427 1712 2428 1719 2430 1727 2432 1734 2433 1742 2435 1751 2436 1760 2438 1770 2439 1780 2440 1790 2441 1800 2442 1809 2442 1818 2443 1828 2443 1839 2443 1850 2443 1863 2443 1876 2443 1888 2443 1899 2443 1908 2442 1916 2442 1923 2441 1931 2440 1940 2439 1952 2438 1964 2437 1977 2436 1990 2435 2002 2434 2013 2433 2023 2431 2033 2430 2042 2428 2050 2427 2057 2425 2063 2423 2069 2421 2075 2419 2082 2417 2089 2414 2096 2411 2103 2408 2110 2405 2118 2402 2125 2398 2132 2395 2140 2392 2148 2389 2158 2387 2167 2385 2176 2384 2185 2384 2193 2383 2202 2383 2211 2383 2221 2383 2230 2383 2238 2383 2243 2425 2243 2425 2237 2425 2230 2425 2221 2425 2212 2425 2204 2425 2196 2426 2189 2427 2182 2428 2175 2429 2168 2431 2162 2434 2156 2437 2149 2440 2142 2443 2134 2446 2127 2450 2119 2453 2112 2456 2104 2459 2096 2461 2089 2464 2082 2466 2075 2468 2067 2470 2058 2471 2049 2473 2039 2474 2028 2476 2017 2477 2006 2478 1994 2479 1981 2480 1967 2481 1955 2482 1944 2483 1934 2483 1927 2484 1919 2485 1910 2485 1901 2485 1889 2485 1876 2485 1863 2485 1850 2485 1837 2485 1826 2484 1816 2484 1806 2483 1796 2482 1786 2481 1775 2479 1765 2478 1754 2476 1744 2475 1734 2473 1725 2471 1717 2469 1709 2468 1703 2467 1698 2466 1694 2466 1691 2466 1689 2467 1684 2467 1677 2468 1667 2468 1655 2469 1641 2470 1628 2472 1617 2473 1607 2475 1597 2477 1588 2480 1578 2482 1568 2483 1559 2485 1550 2487 1540 2489 1529 2490 1517 2491 1503 2492 1487 2492 1471 2492 1455 2492 1440 2492 1425 2491 1411 2490 1398 2489 1384 2488 1371 2486 1358 2484 1345 2482 1332 2479 1319 2477 1308 2474 1298 2472 1290 2469 1283 2467 1276 2464 1270 2462 1263 2460 1256 2457 1248 2454 1240 2451 1233 2446 1227 2441 1223 2436 1220 2433 1219 2430 1217 2427 1215 2423 1212 2419 1209 2415 1206 2409 1201 2402 1196 2394 1191 2385 1185 2376 1179 2368 1173 2360 1169 2352 1164 2345 1160 2338 1156 2331 1152 2323 1147 2315 1141 2307 1136 2300 1130 2293 1126 2288 1121 2284 1117 2280 1113 2275 1108 2269 1103 2262 1097 2255 1091 2246 1084 2238 1077 2229 1069 2221 1059 2211 1049 2201 1037 2192 1026 2183 1016 2176 1008 2169 1000 2163 993 2158 986 2154 979 2151 972 2148 965 2147 958 2145 951 2143 944 2142 936 2140 928 2138 920 2137 912 2136 905 2135 899 2135 893 2134 887 2134 882 2135 876 2136 869 2137 862 2138 855 2140 848 2142 840 2146 832 2151 822 2156 812 2161 804 2165 798Z" fill="#e6f8fe"/>
<path d="M2156 793 2152 798 2147 807 2142 817 2136 827 2132 836 2129 844 2127 852 2125 860 2124 867 2123 874 2123 881 2123 888 2123 894 2123 900 2124 907 2125 914 2126 922 2128 930 2129 938 2131 946 2133 954 2134 961 2136 969 2139 977 2142 985 2147 993 2153 1001 2159 1009 2166 1017 2173 1025 2181 1035 2190 1047 2200 1058 2210 1069 2219 1079 2228 1088 2236 1096 2245 1103 2252 1109 2259 1115 2264 1120 2268 1124 2273 1129 2277 1133 2283 1138 2290 1144 2298 1149 2306 1155 2314 1161 2321 1166 2329 1171 2337 1175 2344 1179 2351 1184 2358 1188 2366 1194 2375 1200 2383 1206 2391 1211 2398 1216 2402 1220 2406 1224 2409 1227 2413 1231 2417 1234 2421 1238 2425 1240 2427 1242 2429 1243 2430 1245 2431 1249 2432 1255 2434 1262 2435 1270 2436 1278 2438 1285 2440 1292 2442 1298 2443 1305 2444 1314 2445 1324 2446 1336 2446 1349 2447 1362 2447 1375 2448 1388 2449 1400 2450 1414 2451 1427 2451 1440 2451 1455 2451 1470 2451 1486 2450 1500 2449 1513 2448 1524 2447 1533 2445 1542 2443 1551 2441 1560 2439 1570 2437 1579 2435 1589 2433 1600 2431 1611 2430 1624 2428 1638 2427 1652 2427 1665 2426 1675 2426 1682 2425 1687 2425 1692 2425 1698 2426 1704 2427 1711 2429 1719 2431 1726 2433 1734 2434 1742 2436 1750 2437 1760 2439 1770 2440 1780 2441 1790 2442 1799 2443 1809 2443 1818 2444 1828 2444 1839 2444 1850 2444 1863 2444 1876 2444 1888 2444 1899 2444 1908 2443 1916 2443 1923 2442 1931 2441 1940 2440 1952 2439 1964 2438 1978 2437 1990 2436 2002 2435 2013 2434 2023 2432 2033 2431 2042 2429 2050 2428 2057 2426 2064 2424 2070 2422 2076 2420 2082 2418 2089 2415 2096 2412 2103 2409 2111 2406 2118 2403 2125 2399 2132 2396 2140 2392 2149 2390 2158 2388 2167 2386 2176 2385 2185 2385 2194 2384 2202 2384 2211 2384 2221 2384 2230 2384 2238 2384 2243 2424 2243 2424 2237 2424 2230 2424 2221 2424 2212 2424 2204 2424 2196 2425 2189 2426 2181 2427 2174 2428 2168 2430 2162 2433 2156 2436 2149 2439 2141 2442 2134 2446 2126 2449 2119 2452 2111 2455 2103 2458 2096 2460 2088 2463 2082 2465 2074 2467 2067 2469 2058 2470 2048 2472 2039 2473 2028 2475 2017 2476 2006 2477 1994 2478 1981 2479 1967 2480 1955 2481 1944 2482 1934 2482 1926 2483 1919 2484 1910 2484 1901 2484 1889 2484 1876 2484 1863 2484 1850 2484 1837 2484 1826 2483 1816 2483 1806 2482 1796 2481 1786 2480 1775 2478 1765 2477 1754 2475 1744 2474 1734 2472 1725 2470 1717 2468 1710 2467 1703 2466 1698 2465 1694 2465 1692 2465 1689 2466 1684 2466 1677 2467 1667 2467 1655 2468 1641 2469 1628 2471 1617 2472 1607 2474 1597 2476 1588 2479 1578 2481 1568 2482 1558 2484 1549 2486 1540 2488 1529 2489 1517 2490 1503 2491 1487 2491 1471 2491 1455 2491 1440 2491 1425 2490 1411 2489 1398 2488 1384 2487 1371 2485 1358 2483 1345 2481 1332 2478 1319 2476 1308 2474 1298 2471 1290 2468 1283 2466 1277 2464 1270 2461 1263 2459 1256 2457 1248 2454 1240 2450 1233 2446 1227 2440 1223 2436 1221 2432 1219 2429 1218 2426 1215 2423 1213 2419 1209 2414 1206 2408 1202 2401 1197 2393 1191 2385 1185 2376 1179 2368 1174 2360 1169 2352 1165 2345 1161 2338 1156 2331 1152 2323 1147 2315 1142 2307 1136 2300 1131 2293 1126 2288 1121 2284 1118 2280 1113 2275 1109 2269 1103 2262 1097 2254 1091 2246 1084 2238 1077 2229 1069 2220 1059 2211 1049 2201 1038 2192 1027 2183 1017 2176 1008 2169 1000 2163 993 2158 986 2154 979 2150 972 2148 965 2146 958 2145 951 2143 944 2141 936 2140 928 2138 920 2137 912 2136 905 2135 899 2135 893 2134 887 2134 882 2135 876 2135 869 2136 862 2138 855 2139 847 2142 840 2146 831 2151 822 2156 812 2161 803 2164 797Z" fill="#5fdff6"/>
<path d="M2156 793 2153 799 2148 807 2142 817 2137 827 2132 836 2129 844 2127 852 2126 860 2125 867 2124 875 2123 881 2123 888 2123 894 2124 900 2125 907 2126 914 2127 922 2128 930 2130 938 2131 946 2133 954 2135 961 2136 969 2139 977 2143 985 2148 993 2153 1000 2159 1008 2166 1016 2173 1025 2181 1035 2191 1046 2200 1058 2210 1069 2219 1079 2228 1087 2237 1095 2245 1102 2253 1108 2259 1114 2265 1119 2269 1124 2273 1128 2278 1133 2283 1138 2290 1143 2298 1149 2306 1155 2314 1160 2322 1165 2329 1170 2337 1175 2344 1179 2351 1183 2359 1188 2367 1193 2375 1199 2384 1205 2391 1211 2398 1216 2403 1220 2407 1224 2410 1227 2413 1230 2417 1234 2422 1237 2425 1239 2428 1241 2429 1242 2430 1244 2432 1248 2433 1254 2435 1262 2436 1269 2437 1277 2439 1285 2441 1292 2443 1298 2444 1305 2445 1314 2446 1324 2447 1336 2448 1348 2448 1362 2449 1375 2450 1387 2451 1400 2452 1413 2452 1427 2453 1440 2453 1455 2452 1470 2452 1486 2451 1501 2451 1513 2449 1524 2448 1533 2446 1542 2445 1551 2443 1560 2441 1570 2439 1579 2437 1589 2435 1600 2433 1612 2431 1624 2430 1638 2429 1652 2428 1665 2428 1675 2427 1682 2427 1687 2427 1692 2427 1697 2428 1704 2429 1711 2431 1719 2432 1726 2434 1733 2436 1741 2437 1750 2439 1760 2440 1770 2442 1780 2443 1790 2443 1799 2444 1809 2445 1818 2445 1828 2446 1838 2446 1850 2446 1863 2446 1876 2446 1888 2446 1899 2445 1908 2445 1916 2444 1923 2443 1931 2443 1941 2442 1952 2441 1965 2440 1978 2439 1990 2438 2002 2436 2013 2435 2023 2434 2033 2432 2042 2431 2050 2429 2058 2428 2064 2426 2070 2424 2076 2422 2083 2419 2090 2416 2097 2413 2104 2410 2111 2407 2119 2404 2126 2401 2133 2397 2141 2394 2149 2391 2158 2389 2167 2388 2176 2387 2185 2386 2194 2386 2202 2385 2211 2385 2221 2385 2230 2385 2238 2386 2243 2422 2243 2422 2237 2422 2230 2422 2221 2422 2212 2422 2204 2423 2196 2424 2189 2424 2181 2425 2174 2427 2168 2429 2162 2431 2155 2434 2148 2438 2141 2441 2133 2444 2126 2447 2118 2450 2111 2454 2103 2456 2095 2459 2088 2461 2081 2463 2074 2465 2066 2467 2058 2469 2048 2470 2038 2472 2028 2473 2017 2474 2006 2476 1994 2477 1981 2478 1967 2479 1955 2479 1943 2480 1934 2481 1926 2482 1919 2482 1910 2482 1901 2483 1889 2483 1876 2483 1863 2483 1850 2482 1838 2482 1827 2482 1816 2481 1806 2480 1796 2479 1786 2478 1776 2477 1765 2475 1754 2474 1744 2472 1735 2470 1726 2468 1717 2467 1710 2465 1704 2464 1698 2464 1694 2464 1692 2464 1689 2464 1684 2464 1677 2465 1667 2466 1655 2467 1641 2468 1628 2469 1616 2471 1606 2473 1597 2475 1587 2477 1578 2479 1568 2481 1558 2483 1549 2485 1539 2486 1529 2487 1517 2488 1503 2489 1487 2489 1471 2490 1455 2489 1440 2489 1425 2488 1411 2488 1398 2487 1384 2485 1371 2484 1358 2482 1345 2479 1332 2477 1320 2475 1308 2472 1299 2470 1291 2467 1283 2465 1277 2463 1271 2460 1264 2458 1256 2456 1248 2453 1241 2450 1234 2445 1228 2440 1224 2435 1221 2432 1220 2429 1218 2426 1216 2422 1213 2419 1210 2414 1206 2408 1202 2401 1197 2393 1192 2384 1186 2376 1180 2367 1174 2360 1169 2352 1165 2345 1161 2337 1157 2330 1153 2323 1148 2315 1142 2307 1137 2299 1131 2293 1126 2287 1122 2283 1118 2279 1114 2275 1109 2269 1104 2262 1098 2254 1091 2246 1085 2237 1077 2229 1069 2220 1060 2210 1049 2200 1038 2191 1027 2183 1017 2175 1008 2169 1000 2163 993 2158 986 2153 979 2150 972 2148 965 2146 959 2144 951 2143 944 2141 936 2139 928 2138 920 2136 913 2135 905 2135 899 2134 893 2134 887 2134 882 2134 875 2135 869 2136 862 2137 855 2139 847 2142 840 2145 831 2150 821 2156 812 2161 803 2164 797Z" fill="#ffffff"/>
<path d="M2157 793 2154 799 2149 808 2143 817 2138 828 2134 837 2131 845 2129 853 2127 860 2126 868 2125 875 2125 881 2125 888 2125 894 2125 900 2126 906 2127 914 2128 922 2130 930 2131 938 2133 946 2135 953 2136 961 2138 968 2141 976 2144 984 2149 992 2154 999 2160 1007 2167 1015 2174 1024 2183 1034 2192 1045 2202 1057 2211 1068 2220 1077 2229 1086 2238 1094 2246 1101 2254 1107 2261 1113 2266 1118 2270 1123 2274 1127 2279 1131 2285 1136 2291 1142 2299 1147 2307 1153 2315 1158 2323 1164 2330 1168 2338 1173 2345 1177 2352 1181 2360 1186 2368 1191 2376 1197 2385 1203 2393 1209 2399 1214 2404 1218 2408 1222 2412 1225 2415 1228 2419 1232 2423 1235 2427 1237 2430 1239 2431 1240 2433 1243 2435 1247 2436 1254 2438 1261 2439 1269 2441 1277 2443 1284 2445 1290 2446 1297 2448 1304 2449 1313 2450 1323 2451 1335 2452 1348 2453 1361 2454 1374 2455 1387 2456 1400 2456 1413 2457 1427 2458 1440 2458 1455 2457 1470 2457 1486 2456 1501 2456 1514 2454 1525 2453 1534 2451 1543 2450 1552 2448 1561 2446 1571 2444 1580 2442 1590 2439 1601 2438 1612 2436 1625 2435 1639 2434 1652 2433 1665 2433 1675 2432 1682 2432 1688 2432 1692 2432 1697 2433 1703 2434 1710 2436 1717 2437 1725 2439 1732 2441 1740 2442 1749 2444 1759 2445 1769 2446 1779 2448 1789 2448 1799 2449 1808 2450 1818 2450 1828 2451 1838 2451 1850 2451 1863 2451 1876 2451 1888 2451 1900 2450 1909 2450 1916 2449 1924 2448 1931 2448 1941 2447 1952 2446 1965 2445 1978 2444 1991 2443 2003 2441 2013 2440 2024 2439 2034 2437 2043 2436 2051 2434 2059 2432 2065 2431 2072 2429 2078 2426 2084 2424 2091 2421 2099 2418 2106 2415 2113 2412 2121 2408 2128 2405 2135 2402 2143 2399 2151 2396 2160 2394 2168 2393 2177 2392 2186 2391 2194 2391 2202 2390 2211 2390 2221 2390 2230 2390 2238 2391 2243 2417 2243 2417 2237 2417 2230 2417 2221 2417 2212 2417 2204 2418 2196 2419 2188 2419 2181 2421 2173 2422 2166 2424 2160 2427 2153 2430 2146 2433 2139 2436 2131 2440 2124 2443 2116 2446 2109 2449 2101 2452 2094 2454 2086 2456 2080 2458 2073 2460 2065 2462 2057 2464 2047 2465 2038 2467 2027 2468 2017 2469 2005 2471 1993 2472 1980 2473 1967 2474 1954 2474 1943 2475 1934 2476 1926 2477 1918 2477 1910 2477 1900 2478 1889 2478 1876 2478 1863 2478 1850 2477 1838 2477 1827 2477 1816 2476 1807 2475 1797 2474 1787 2473 1776 2472 1766 2470 1755 2469 1745 2467 1736 2466 1727 2464 1719 2462 1711 2460 1705 2459 1699 2459 1695 2459 1692 2459 1689 2459 1684 2459 1677 2460 1667 2461 1654 2462 1641 2463 1628 2464 1616 2466 1606 2468 1596 2470 1586 2472 1577 2474 1567 2476 1557 2478 1548 2480 1539 2481 1528 2482 1516 2483 1502 2484 1487 2484 1471 2485 1455 2484 1440 2484 1426 2483 1412 2483 1398 2482 1385 2480 1372 2479 1359 2477 1345 2475 1332 2473 1320 2471 1309 2469 1300 2466 1292 2464 1284 2461 1278 2459 1271 2457 1264 2455 1257 2453 1249 2450 1242 2447 1235 2443 1230 2438 1226 2434 1224 2430 1222 2427 1220 2424 1218 2421 1215 2417 1212 2412 1208 2407 1204 2400 1199 2392 1193 2383 1187 2374 1182 2366 1176 2358 1171 2351 1167 2344 1163 2336 1159 2329 1154 2321 1149 2313 1144 2305 1138 2298 1133 2291 1128 2286 1123 2282 1119 2278 1115 2273 1111 2267 1105 2260 1099 2253 1093 2244 1086 2236 1079 2228 1071 2219 1061 2209 1050 2199 1039 2190 1028 2182 1018 2174 1009 2167 1001 2161 994 2156 987 2152 980 2149 973 2146 966 2144 959 2143 952 2141 944 2139 936 2138 928 2136 920 2135 913 2134 906 2133 899 2133 893 2132 887 2132 882 2133 875 2134 869 2135 862 2136 854 2138 847 2140 839 2144 831 2149 821 2155 811 2160 803 2163 797Z" fill="#ffffff"/>
<path d="M2157 793 2154 799 2149 808 2143 818 2138 828 2134 837 2131 845 2129 853 2127 860 2126 868 2125 875 2125 881 2125 888 2125 894 2126 900 2126 906 2127 914 2128 922 2130 930 2131 938 2133 946 2135 953 2136 961 2138 968 2141 976 2144 984 2149 992 2154 999 2161 1007 2167 1015 2175 1024 2183 1034 2192 1045 2202 1056 2211 1067 2221 1077 2229 1086 2238 1094 2246 1101 2254 1107 2261 1113 2266 1118 2270 1122 2275 1127 2279 1131 2285 1136 2292 1141 2299 1147 2307 1153 2315 1158 2323 1164 2331 1168 2338 1173 2345 1177 2353 1181 2360 1186 2368 1191 2376 1197 2385 1203 2393 1209 2399 1214 2404 1218 2408 1222 2412 1225 2415 1228 2419 1231 2423 1235 2427 1237 2430 1238 2432 1240 2433 1243 2435 1247 2437 1253 2438 1261 2440 1269 2441 1276 2443 1284 2445 1290 2447 1297 2448 1304 2450 1313 2451 1323 2452 1335 2453 1348 2453 1361 2454 1374 2455 1387 2456 1400 2457 1413 2458 1426 2458 1440 2458 1455 2458 1470 2458 1486 2457 1501 2456 1514 2455 1525 2454 1534 2452 1543 2450 1552 2448 1561 2446 1571 2444 1581 2442 1590 2440 1601 2438 1612 2437 1625 2435 1639 2434 1652 2434 1665 2433 1675 2433 1682 2432 1688 2432 1692 2432 1697 2433 1703 2434 1710 2436 1717 2438 1725 2440 1732 2441 1740 2443 1749 2444 1759 2446 1769 2447 1779 2448 1789 2449 1799 2450 1808 2450 1818 2451 1828 2451 1838 2451 1850 2451 1863 2451 1876 2451 1888 2451 1900 2451 1909 2450 1916 2450 1924 2449 1932 2448 1941 2447 1952 2446 1965 2445 1978 2444 1991 2443 2003 2442 2014 2441 2024 2439 2034 2438 2043 2436 2051 2435 2059 2433 2066 2431 2072 2429 2078 2427 2085 2424 2092 2421 2099 2418 2106 2415 2114 2412 2121 2409 2128 2406 2135 2402 2143 2399 2151 2396 2160 2395 2168 2393 2177 2392 2186 2392 2194 2391 2202 2391 2211 2391 2221 2391 2230 2391 2238 2391 2243 2417 2243 2417 2237 2417 2230 2417 2221 2417 2212 2417 2204 2417 2196 2418 2188 2419 2180 2420 2173 2422 2166 2424 2160 2426 2153 2429 2146 2433 2139 2436 2131 2439 2124 2442 2116 2445 2109 2448 2101 2451 2093 2454 2086 2456 2079 2458 2072 2460 2065 2462 2057 2463 2047 2465 2038 2466 2027 2468 2017 2469 2005 2470 1993 2471 1980 2472 1967 2473 1954 2474 1943 2475 1934 2475 1926 2476 1918 2477 1910 2477 1900 2477 1889 2477 1876 2477 1863 2477 1850 2477 1838 2477 1827 2476 1816 2476 1807 2475 1797 2474 1787 2473 1776 2471 1766 2470 1755 2468 1745 2467 1736 2465 1727 2463 1719 2461 1711 2460 1705 2459 1699 2458 1695 2458 1692 2458 1689 2459 1684 2459 1677 2460 1667 2460 1654 2461 1641 2463 1628 2464 1616 2466 1606 2467 1596 2470 1586 2472 1576 2474 1567 2476 1557 2477 1548 2479 1539 2481 1528 2482 1516 2483 1502 2484 1487 2484 1471 2484 1455 2484 1440 2484 1426 2483 1412 2482 1398 2481 1385 2480 1372 2478 1359 2476 1345 2475 1332 2473 1320 2470 1309 2468 1300 2466 1292 2463 1285 2461 1278 2459 1272 2457 1264 2455 1257 2452 1249 2450 1242 2447 1235 2443 1230 2438 1226 2434 1224 2430 1222 2427 1221 2424 1218 2421 1215 2417 1212 2412 1208 2407 1204 2400 1199 2392 1194 2383 1188 2374 1182 2366 1176 2358 1172 2351 1167 2343 1163 2336 1159 2329 1154 2321 1149 2313 1144 2305 1138 2298 1133 2291 1128 2286 1124 2282 1119 2278 1115 2273 1111 2267 1105 2260 1099 2253 1093 2244 1086 2236 1079 2227 1071 2218 1061 2209 1050 2199 1039 2190 1028 2181 1018 2174 1009 2167 1002 2161 994 2156 987 2152 980 2148 973 2146 966 2144 959 2143 952 2141 944 2139 936 2137 928 2136 920 2135 913 2134 906 2133 899 2132 893 2132 887 2132 882 2133 875 2133 869 2134 862 2136 854 2138 847 2140 839 2144 831 2149 821 2155 811 2159 803 2163 797Z" fill="#44dbf5"/>
<path d="M2157 794 2154 799 2149 808 2144 818 2138 828 2134 837 2131 845 2129 853 2128 860 2127 868 2126 875 2125 881 2125 888 2125 894 2126 900 2127 906 2128 914 2129 922 2130 930 2132 938 2134 946 2135 953 2137 961 2139 968 2141 976 2145 984 2149 992 2155 999 2161 1007 2168 1015 2175 1024 2183 1034 2192 1045 2202 1056 2212 1067 2221 1077 2230 1085 2238 1093 2247 1100 2254 1106 2261 1112 2266 1118 2271 1122 2275 1126 2280 1131 2285 1136 2292 1141 2300 1147 2308 1152 2316 1158 2323 1163 2331 1168 2338 1172 2346 1176 2353 1181 2360 1185 2368 1191 2377 1196 2385 1202 2393 1208 2400 1213 2405 1217 2409 1221 2412 1224 2416 1227 2419 1231 2423 1234 2427 1236 2430 1238 2432 1240 2434 1242 2436 1247 2437 1253 2439 1261 2441 1268 2442 1276 2444 1283 2446 1290 2448 1297 2449 1304 2451 1313 2452 1323 2453 1335 2454 1348 2455 1361 2456 1374 2457 1387 2458 1400 2458 1413 2459 1426 2460 1440 2460 1455 2459 1470 2459 1486 2458 1501 2458 1514 2456 1525 2455 1535 2453 1543 2452 1552 2450 1562 2448 1571 2446 1581 2443 1591 2441 1601 2440 1612 2438 1625 2437 1639 2436 1652 2435 1665 2435 1675 2434 1682 2434 1688 2434 1692 2434 1697 2435 1703 2436 1710 2437 1717 2439 1724 2441 1732 2443 1740 2444 1749 2446 1759 2447 1769 2448 1779 2450 1789 2450 1799 2451 1808 2452 1818 2452 1828 2453 1838 2453 1850 2453 1863 2453 1876 2453 1889 2453 1900 2452 1909 2452 1916 2451 1924 2450 1932 2450 1941 2449 1952 2448 1965 2447 1978 2446 1991 2445 2003 2443 2014 2442 2024 2441 2034 2439 2043 2438 2052 2436 2059 2434 2066 2433 2072 2430 2078 2428 2085 2426 2092 2423 2099 2420 2107 2416 2114 2413 2122 2410 2129 2407 2136 2404 2144 2401 2152 2398 2160 2396 2169 2395 2177 2394 2186 2393 2194 2393 2202 2392 2211 2392 2221 2392 2230 2392 2238 2393 2243 2415 2243 2415 2237 2415 2230 2415 2221 2415 2212 2415 2204 2416 2196 2417 2188 2417 2180 2419 2173 2420 2166 2422 2159 2425 2152 2428 2145 2431 2138 2435 2130 2438 2123 2441 2116 2444 2108 2447 2100 2450 2093 2452 2086 2454 2079 2457 2072 2458 2065 2460 2056 2462 2047 2463 2037 2465 2027 2466 2016 2467 2005 2469 1993 2470 1980 2471 1967 2472 1954 2472 1943 2473 1934 2474 1926 2475 1918 2475 1910 2475 1900 2476 1889 2476 1876 2476 1863 2476 1850 2475 1838 2475 1827 2475 1817 2474 1807 2473 1797 2472 1787 2471 1776 2470 1766 2468 1755 2467 1745 2465 1736 2464 1727 2462 1719 2460 1712 2458 1705 2457 1699 2457 1695 2457 1692 2457 1689 2457 1684 2457 1677 2458 1666 2459 1654 2460 1641 2461 1627 2462 1616 2464 1605 2466 1595 2468 1586 2470 1576 2472 1566 2474 1557 2476 1548 2478 1538 2479 1528 2480 1516 2481 1502 2482 1487 2482 1471 2483 1455 2482 1440 2482 1426 2481 1412 2481 1398 2480 1385 2478 1372 2477 1359 2475 1346 2473 1333 2471 1320 2469 1309 2467 1300 2465 1292 2462 1285 2460 1278 2458 1272 2456 1265 2454 1257 2452 1249 2449 1242 2446 1236 2442 1231 2438 1227 2433 1225 2430 1223 2427 1221 2423 1219 2420 1216 2416 1213 2412 1209 2406 1205 2399 1200 2391 1194 2383 1188 2374 1182 2366 1177 2358 1172 2350 1168 2343 1164 2336 1159 2329 1155 2321 1150 2313 1145 2305 1139 2298 1134 2291 1128 2286 1124 2281 1120 2277 1116 2273 1111 2267 1106 2260 1100 2252 1093 2244 1087 2236 1079 2227 1071 2218 1062 2208 1051 2199 1039 2189 1028 2181 1018 2174 1010 2167 1002 2161 994 2156 987 2151 980 2148 973 2146 966 2144 959 2142 952 2140 944 2139 936 2137 929 2136 921 2134 913 2133 906 2133 899 2132 893 2132 887 2132 882 2132 875 2133 868 2134 861 2135 854 2137 847 2140 839 2144 830 2149 821 2154 811 2159 802 2163 796Z" fill="#ffffff"/>
<path d="M2160.0 795.0 C2156.2 802.2 2142.2 824.7 2137.0 838.0 C2131.8 851.3 2130.2 863.7 2129.0 875.0 C2127.8 886.3 2128.7 894.3 2130.0 906.0 C2131.3 917.7 2134.0 932.3 2137.0 945.0 C2140.0 957.7 2141.2 969.3 2148.0 982.0 C2154.8 994.7 2165.3 1005.7 2178.0 1021.0 C2190.7 1036.3 2209.7 1059.3 2224.0 1074.0 C2238.3 1088.7 2253.3 1099.3 2264.0 1109.0 C2274.7 1118.7 2277.7 1123.7 2288.0 1132.0 C2298.3 1140.3 2313.5 1150.8 2326.0 1159.0 C2338.5 1167.2 2350.2 1172.7 2363.0 1181.0 C2375.8 1189.3 2393.0 1201.5 2403.0 1209.0 C2413.0 1216.5 2416.8 1221.0 2423.0 1226.0 C2429.2 1231.0 2435.5 1231.0 2440.0 1239.0 C2444.5 1247.0 2446.7 1262.0 2450.0 1274.0 C2453.3 1286.0 2457.2 1294.5 2460.0 1311.0 C2462.8 1327.5 2465.2 1351.5 2467.0 1373.0 C2468.8 1394.5 2470.7 1416.3 2471.0 1440.0 C2471.3 1463.7 2470.7 1494.3 2469.0 1515.0 C2467.3 1535.7 2464.0 1547.5 2461.0 1564.0 C2458.0 1580.5 2453.5 1595.3 2451.0 1614.0 C2448.5 1632.7 2446.8 1661.5 2446.0 1676.0 C2445.2 1690.5 2444.7 1690.7 2446.0 1701.0 C2447.3 1711.3 2451.5 1723.5 2454.0 1738.0 C2456.5 1752.5 2459.3 1771.3 2461.0 1788.0 C2462.7 1804.7 2463.5 1819.3 2464.0 1838.0 C2464.5 1856.7 2464.5 1882.7 2464.0 1900.0 C2463.5 1917.3 2462.3 1924.7 2461.0 1942.0 C2459.7 1959.3 2458.0 1985.3 2456.0 2004.0 C2454.0 2022.7 2451.8 2039.8 2449.0 2054.0 C2446.2 2068.2 2443.2 2077.0 2439.0 2089.0 C2434.8 2101.0 2429.0 2113.7 2424.0 2126.0 C2419.0 2138.3 2412.3 2150.2 2409.0 2163.0 C2405.7 2175.8 2404.8 2189.7 2404.0 2203.0 C2403.2 2216.3 2404.0 2236.3 2404.0 2243.0" fill="none" stroke="#1ad8f3" stroke-width="3"/>
</g>
<g clip-path="url(#cR)">
<path d="M2711 1324 2715 1322 2721 1320 2728 1317 2736 1313 2744 1309 2753 1305 2762 1300 2768 1294 2772 1286 2774 1279 2777 1273 2779 1266 2780 1255 2780 1247 2779 1242 2778 1236 2777 1229 2774 1221 2770 1213 2764 1203 2753 1193 2738 1185 2724 1183 2714 1183 2708 1183 2701 1185 2695 1186 2689 1188 2683 1190 2677 1193 2670 1196 2664 1199 2659 1202 2655 1204 2652 1205 2650 1206 2646 1208 2642 1209 2636 1211 2630 1213 2623 1216 2618 1218 2613 1220 2609 1221 2606 1223 2603 1224 2598 1225 2593 1227 2588 1228 2582 1230 2577 1232 2573 1233 2569 1235 2566 1236 2564 1237 2562 1238 2560 1238 2558 1239 2556 1240 2559 1239 2593 1241 2624 1300 2605 1330 2531 1319 2522 1292 2522 1291 2522 1294 2522 1296 2522 1299 2522 1307 2535 1337 2579 1354 2623 1323 2601 1255 2582 1249 2577 1249 2573 1248 2569 1247 2565 1247 2572 1249 2601 1272 2607 1299 2585 1339 2505 1311 2503 1304 2503 1309 2503 1318 2503 1329 2504 1341 2504 1352 2504 1363 2505 1373 2505 1384 2506 1394 2507 1405 2508 1415 2509 1426 2510 1436 2511 1447 2512 1457 2513 1467 2514 1478 2516 1489 2517 1499 2518 1508 2519 1517 2521 1525 2522 1533 2523 1539 2525 1546 2547 1582 2645 1552 2648 1529 2559 1475 2530 1503 2527 1509 2524 1515 2521 1523 2517 1531 2513 1540 2510 1548 2506 1556 2503 1564 2500 1573 2497 1582 2494 1591 2492 1599 2490 1608 2487 1617 2485 1626 2483 1637 2481 1647 2480 1658 2478 1669 2477 1680 2475 1689 2474 1699 2473 1710 2472 1723 2471 1737 2471 1753 2471 1770 2472 1787 2473 1803 2474 1818 2475 1831 2477 1842 2478 1853 2480 1863 2482 1874 2485 1887 2488 1901 2491 1915 2494 1927 2496 1938 2508 1963 2615 1949 2620 1917 2570 1860 2510 1880 2503 1889 2499 1895 2493 1902 2487 1910 2482 1917 2477 1924 2471 1931 2465 1939 2458 1948 2451 1958 2445 1968 2440 1977 2435 1986 2431 1995 2427 2003 2423 2012 2419 2021 2416 2030 2413 2039 2410 2047 2407 2057 2405 2066 2403 2074 2401 2081 2399 2088 2397 2094 2395 2102 2393 2110 2390 2119 2388 2128 2387 2138 2385 2146 2384 2155 2383 2163 2382 2173 2381 2183 2381 2193 2380 2204 2380 2215 2379 2225 2379 2236 2378 2248 2378 2259 2378 2268 2377 2274 2377 2278 2488 2244 2488 2244 2421 2221 2395 2236 2390 2241 2386 2244 2379 2251 2372 2259 2364 2269 2357 2280 2351 2289 2347 2297 2344 2303 2342 2306 2342 2306 2342 2306 2340 2308 2335 2314 2330 2321 2324 2328 2319 2335 2314 2343 2309 2350 2305 2356 2301 2361 2297 2367 2294 2372 2291 2376 2289 2379 2391 2449 2393 2446 2396 2442 2399 2437 2403 2432 2407 2426 2411 2420 2416 2413 2421 2406 2425 2400 2428 2395 2430 2394 2431 2393 2434 2389 2440 2382 2446 2374 2452 2364 2456 2356 2460 2349 2463 2343 2464 2341 2465 2340 2468 2337 2471 2334 2476 2330 2477 2328 2455 2340 2389 2318 2389 2320 2501 2285 2501 2282 2501 2274 2502 2263 2502 2252 2503 2241 2503 2231 2503 2221 2504 2211 2504 2201 2505 2192 2506 2183 2506 2176 2507 2170 2508 2164 2509 2159 2510 2154 2511 2148 2512 2143 2514 2136 2517 2128 2519 2120 2521 2112 2523 2104 2525 2097 2526 2090 2528 2085 2530 2078 2532 2072 2535 2066 2537 2060 2539 2055 2542 2049 2545 2043 2548 2037 2552 2031 2555 2026 2558 2021 2563 2015 2568 2008 2574 2000 2580 1993 2586 1985 2592 1977 2597 1970 2602 1964 2602 1964 2545 1982 2497 1928 2501 1901 2606 1887 2616 1906 2615 1900 2612 1888 2609 1875 2606 1862 2604 1850 2602 1841 2601 1833 2600 1826 2599 1818 2598 1808 2597 1795 2596 1781 2595 1765 2595 1751 2595 1739 2595 1730 2596 1722 2597 1715 2598 1706 2599 1696 2601 1687 2602 1677 2604 1668 2605 1659 2607 1652 2608 1644 2610 1638 2611 1632 2613 1626 2615 1620 2617 1614 2619 1608 2622 1601 2624 1594 2627 1588 2630 1582 2633 1576 2636 1569 2639 1563 2640 1561 2613 1586 2524 1534 2527 1514 2624 1485 2645 1518 2645 1517 2644 1511 2643 1504 2642 1496 2640 1488 2638 1479 2636 1469 2634 1459 2632 1449 2630 1439 2628 1429 2626 1420 2624 1410 2623 1401 2621 1391 2620 1382 2618 1372 2617 1363 2615 1353 2614 1344 2613 1334 2612 1323 2611 1312 2610 1303 2609 1294 2606 1281 2525 1252 2502 1294 2509 1324 2540 1349 2553 1352 2557 1352 2561 1352 2565 1353 2566 1353 2550 1347 2527 1280 2571 1250 2613 1267 2626 1295 2626 1299 2626 1296 2626 1294 2626 1291 2626 1286 2616 1258 2542 1246 2522 1278 2554 1338 2589 1339 2595 1337 2596 1336 2599 1335 2601 1334 2604 1333 2607 1332 2609 1331 2612 1330 2614 1329 2616 1328 2619 1327 2623 1326 2629 1324 2635 1322 2642 1319 2648 1317 2654 1314 2659 1312 2663 1310 2666 1309 2670 1307 2674 1306 2680 1304 2686 1302 2694 1299 2701 1295 2708 1291 2713 1288 2717 1286 2719 1285 2721 1284 2723 1283 2725 1283 2725 1283 2724 1283 2722 1283 2717 1283 2706 1281 2695 1275 2686 1267 2682 1261 2681 1258 2681 1257 2681 1257 2681 1256 2680 1255 2680 1250 2681 1244 2682 1242 2682 1243 2680 1247 2678 1253 2677 1261 2679 1270 2682 1279 2684 1286 2686 1294 2687 1301 2688 1307 2689 1312Z" fill="#d8f5fe"/>
<path d="M2710 1323 2714 1322 2719 1319 2726 1316 2734 1312 2741 1308 2749 1303 2758 1298 2764 1292 2767 1284 2770 1277 2772 1272 2774 1265 2775 1255 2775 1247 2775 1242 2774 1237 2772 1230 2770 1223 2766 1215 2760 1206 2750 1197 2736 1190 2724 1187 2715 1187 2709 1188 2703 1189 2696 1191 2691 1193 2685 1195 2679 1197 2673 1201 2667 1204 2661 1206 2657 1209 2654 1210 2652 1211 2648 1212 2643 1214 2638 1216 2631 1218 2625 1220 2620 1222 2615 1224 2611 1226 2608 1227 2604 1228 2600 1230 2595 1231 2589 1233 2584 1235 2579 1236 2574 1238 2571 1240 2568 1241 2566 1241 2564 1242 2562 1243 2560 1244 2558 1245 2560 1244 2591 1245 2619 1299 2602 1326 2535 1316 2527 1292 2527 1291 2527 1294 2527 1296 2527 1299 2527 1306 2539 1333 2579 1349 2618 1321 2598 1260 2582 1254 2577 1254 2572 1253 2568 1253 2564 1252 2570 1254 2596 1274 2602 1299 2582 1335 2510 1309 2508 1303 2508 1308 2508 1318 2509 1329 2509 1341 2509 1352 2510 1362 2510 1373 2511 1383 2512 1394 2512 1404 2513 1415 2514 1425 2515 1436 2517 1446 2518 1456 2519 1467 2520 1477 2521 1488 2523 1498 2524 1507 2525 1516 2527 1524 2528 1532 2529 1538 2530 1545 2551 1578 2640 1550 2642 1529 2561 1480 2536 1505 2533 1512 2530 1518 2526 1525 2522 1534 2518 1542 2515 1550 2512 1558 2509 1566 2506 1575 2503 1584 2500 1592 2498 1601 2495 1609 2493 1618 2491 1628 2489 1638 2487 1648 2486 1659 2484 1670 2483 1680 2481 1690 2480 1700 2479 1711 2478 1723 2477 1737 2477 1753 2477 1769 2478 1786 2479 1803 2480 1818 2481 1830 2483 1841 2484 1852 2486 1862 2488 1873 2491 1886 2494 1900 2497 1914 2500 1926 2502 1936 2513 1960 2610 1947 2614 1918 2569 1866 2515 1884 2508 1893 2503 1899 2498 1906 2492 1914 2487 1921 2481 1928 2476 1935 2469 1943 2463 1952 2456 1961 2450 1971 2445 1980 2440 1988 2436 1997 2432 2006 2428 2015 2425 2023 2421 2032 2418 2041 2416 2049 2413 2058 2410 2067 2408 2075 2407 2083 2405 2090 2403 2096 2401 2103 2399 2111 2396 2120 2394 2130 2392 2139 2391 2147 2390 2156 2389 2164 2388 2173 2387 2183 2387 2194 2386 2204 2386 2215 2385 2225 2385 2237 2384 2248 2384 2259 2384 2268 2383 2274 2383 2278 2483 2248 2484 2248 2422 2227 2399 2240 2394 2245 2390 2249 2384 2255 2376 2263 2369 2272 2362 2283 2356 2292 2352 2300 2349 2306 2347 2310 2347 2310 2346 2310 2344 2312 2340 2317 2334 2324 2329 2331 2324 2339 2319 2346 2314 2353 2310 2359 2306 2365 2302 2370 2299 2375 2296 2379 2294 2382 2386 2446 2388 2443 2391 2439 2394 2434 2398 2429 2402 2423 2406 2417 2411 2410 2416 2403 2420 2396 2424 2392 2425 2390 2426 2389 2430 2385 2435 2379 2441 2370 2446 2361 2451 2353 2455 2346 2458 2340 2459 2338 2461 2336 2464 2333 2467 2330 2472 2326 2473 2324 2453 2334 2394 2315 2394 2316 2495 2284 2495 2282 2495 2274 2496 2263 2496 2252 2497 2241 2497 2231 2497 2221 2498 2210 2499 2200 2499 2191 2500 2183 2500 2175 2501 2169 2502 2163 2503 2158 2504 2152 2505 2147 2507 2141 2509 2134 2511 2127 2513 2118 2515 2110 2517 2102 2519 2095 2521 2089 2522 2083 2525 2076 2527 2070 2529 2064 2531 2058 2534 2052 2537 2046 2540 2040 2543 2034 2546 2028 2550 2023 2554 2017 2558 2011 2564 2004 2570 1997 2575 1989 2581 1981 2587 1974 2593 1966 2597 1960 2597 1960 2546 1976 2503 1927 2507 1903 2601 1891 2610 1908 2609 1901 2606 1890 2603 1876 2600 1863 2598 1851 2596 1842 2595 1834 2594 1826 2593 1818 2592 1808 2591 1796 2590 1781 2589 1766 2589 1751 2589 1739 2589 1730 2590 1722 2591 1714 2592 1705 2593 1696 2595 1686 2596 1676 2598 1667 2599 1658 2601 1650 2602 1643 2604 1637 2606 1631 2607 1624 2609 1618 2611 1612 2614 1605 2616 1599 2619 1592 2622 1586 2624 1580 2627 1573 2630 1567 2633 1561 2634 1559 2611 1581 2530 1534 2533 1516 2620 1490 2640 1519 2639 1518 2638 1512 2637 1505 2636 1497 2634 1489 2632 1480 2630 1470 2628 1460 2626 1450 2624 1440 2622 1430 2621 1420 2619 1411 2617 1401 2616 1392 2614 1382 2613 1373 2611 1363 2610 1354 2609 1344 2608 1334 2606 1323 2605 1312 2605 1303 2604 1295 2601 1282 2528 1256 2507 1294 2514 1322 2542 1344 2553 1347 2558 1347 2562 1347 2566 1348 2566 1348 2552 1343 2532 1282 2571 1255 2609 1270 2621 1296 2621 1299 2621 1296 2621 1294 2621 1291 2621 1286 2612 1261 2545 1250 2527 1279 2556 1333 2588 1334 2593 1332 2595 1332 2597 1331 2599 1330 2602 1329 2605 1327 2607 1326 2610 1325 2612 1324 2614 1323 2618 1322 2622 1321 2627 1319 2634 1317 2640 1315 2646 1312 2652 1310 2657 1308 2661 1306 2665 1304 2668 1303 2673 1301 2678 1299 2684 1297 2692 1294 2699 1290 2705 1287 2710 1284 2714 1282 2717 1281 2719 1280 2722 1279 2723 1278 2724 1278 2723 1278 2722 1278 2717 1278 2708 1276 2697 1271 2690 1264 2687 1259 2686 1256 2685 1256 2685 1256 2685 1256 2685 1255 2685 1251 2686 1245 2687 1243 2686 1245 2684 1249 2682 1255 2681 1262 2683 1272 2685 1280 2686 1287 2688 1295 2689 1302 2690 1308 2690 1313Z" fill="#e6f8ff"/>
<path d="M2708 1323 2712 1321 2717 1318 2724 1314 2730 1310 2737 1306 2744 1301 2753 1296 2758 1289 2761 1281 2764 1275 2766 1270 2768 1263 2769 1255 2769 1248 2768 1243 2767 1238 2766 1232 2764 1226 2760 1219 2755 1210 2746 1202 2734 1196 2723 1194 2715 1194 2710 1195 2704 1196 2698 1197 2693 1199 2688 1201 2682 1203 2676 1206 2670 1209 2665 1212 2660 1214 2657 1216 2654 1217 2650 1218 2645 1220 2640 1222 2634 1224 2628 1226 2623 1229 2618 1231 2614 1232 2610 1234 2606 1235 2602 1236 2597 1238 2591 1239 2586 1241 2581 1243 2577 1244 2574 1246 2571 1247 2569 1248 2567 1249 2564 1249 2562 1250 2560 1251 2562 1250 2588 1252 2613 1297 2598 1321 2541 1312 2534 1292 2534 1291 2533 1294 2533 1296 2533 1299 2534 1305 2544 1329 2578 1342 2612 1318 2595 1266 2580 1261 2576 1260 2572 1260 2567 1259 2563 1259 2568 1260 2590 1278 2595 1298 2578 1329 2516 1308 2515 1303 2515 1308 2515 1317 2516 1328 2516 1340 2516 1351 2517 1362 2517 1372 2518 1382 2519 1393 2520 1403 2521 1414 2522 1424 2523 1435 2524 1445 2525 1455 2527 1465 2528 1476 2529 1487 2530 1497 2532 1506 2533 1515 2535 1523 2536 1530 2537 1536 2538 1543 2556 1571 2632 1547 2634 1529 2565 1487 2543 1509 2540 1515 2537 1521 2533 1529 2529 1537 2526 1545 2523 1553 2519 1561 2516 1569 2513 1578 2510 1586 2508 1595 2505 1603 2503 1611 2501 1620 2499 1629 2497 1639 2495 1650 2493 1660 2492 1671 2490 1681 2489 1691 2488 1701 2487 1711 2486 1724 2485 1737 2485 1753 2485 1769 2486 1786 2487 1802 2488 1817 2489 1829 2491 1840 2492 1851 2494 1860 2496 1871 2498 1884 2502 1898 2505 1912 2507 1924 2510 1934 2519 1955 2602 1943 2606 1918 2568 1874 2521 1889 2514 1897 2510 1904 2504 1911 2498 1919 2493 1926 2488 1933 2482 1940 2476 1948 2469 1957 2463 1966 2457 1975 2452 1984 2448 1992 2443 2001 2439 2009 2436 2018 2432 2026 2429 2035 2426 2043 2423 2052 2421 2061 2418 2069 2416 2077 2414 2085 2413 2092 2411 2098 2409 2106 2406 2113 2404 2122 2402 2131 2400 2140 2399 2148 2398 2157 2397 2165 2396 2174 2395 2184 2395 2194 2394 2205 2394 2215 2393 2226 2393 2237 2392 2249 2392 2260 2392 2269 2391 2275 2391 2279 2477 2253 2477 2253 2424 2235 2404 2246 2399 2251 2395 2255 2389 2260 2382 2268 2375 2277 2369 2287 2363 2296 2359 2304 2356 2310 2354 2314 2353 2315 2352 2316 2350 2318 2346 2323 2341 2329 2336 2336 2331 2343 2326 2351 2321 2358 2317 2364 2313 2369 2309 2375 2306 2380 2303 2384 2301 2387 2379 2441 2381 2438 2384 2434 2388 2429 2391 2424 2395 2418 2400 2412 2405 2405 2409 2398 2414 2392 2417 2387 2419 2385 2420 2383 2424 2380 2429 2374 2434 2366 2439 2358 2444 2349 2448 2342 2451 2336 2453 2333 2455 2331 2458 2328 2462 2324 2466 2320 2468 2318 2451 2327 2400 2310 2401 2311 2487 2284 2487 2281 2487 2273 2488 2263 2488 2252 2489 2241 2489 2230 2489 2220 2490 2210 2491 2200 2491 2191 2492 2182 2493 2175 2493 2168 2494 2162 2495 2156 2496 2151 2497 2145 2499 2139 2501 2132 2503 2125 2505 2116 2507 2108 2509 2100 2511 2093 2513 2087 2515 2080 2517 2074 2519 2067 2522 2061 2524 2055 2527 2049 2530 2043 2533 2036 2536 2030 2540 2024 2543 2018 2547 2013 2552 2006 2557 1999 2563 1992 2569 1984 2575 1977 2581 1969 2586 1962 2591 1955 2591 1955 2548 1968 2511 1927 2514 1906 2595 1896 2602 1910 2601 1903 2598 1891 2595 1878 2592 1865 2590 1853 2588 1843 2587 1835 2586 1827 2585 1819 2584 1809 2583 1796 2582 1781 2581 1766 2581 1751 2581 1739 2581 1729 2582 1721 2583 1713 2584 1704 2586 1695 2587 1685 2588 1675 2590 1666 2591 1657 2593 1649 2595 1641 2596 1635 2598 1628 2600 1622 2602 1616 2604 1609 2606 1603 2609 1596 2612 1589 2614 1583 2617 1577 2620 1570 2623 1563 2626 1557 2627 1555 2607 1574 2538 1533 2540 1518 2615 1496 2632 1521 2631 1519 2630 1513 2629 1506 2628 1498 2626 1490 2625 1481 2623 1472 2621 1461 2619 1451 2617 1441 2615 1431 2613 1421 2611 1412 2610 1402 2608 1393 2607 1383 2605 1373 2604 1364 2603 1354 2602 1345 2601 1334 2599 1323 2598 1313 2598 1303 2597 1295 2595 1284 2531 1262 2514 1295 2519 1319 2544 1338 2554 1340 2558 1340 2563 1341 2567 1341 2568 1341 2555 1337 2538 1285 2572 1261 2604 1275 2614 1297 2615 1299 2615 1296 2615 1294 2614 1291 2614 1286 2607 1265 2549 1256 2534 1280 2558 1327 2586 1328 2590 1326 2592 1325 2594 1324 2597 1323 2599 1322 2602 1321 2605 1320 2607 1319 2610 1318 2612 1317 2616 1316 2620 1314 2625 1313 2631 1311 2638 1308 2644 1306 2649 1304 2654 1302 2658 1300 2662 1298 2666 1297 2671 1295 2676 1293 2682 1291 2689 1288 2696 1285 2702 1281 2707 1278 2711 1276 2714 1275 2717 1273 2719 1272 2721 1272 2722 1271 2722 1271 2722 1271 2718 1271 2710 1270 2701 1265 2695 1260 2692 1256 2692 1254 2692 1254 2692 1254 2692 1255 2692 1254 2692 1251 2692 1246 2693 1245 2692 1247 2690 1251 2688 1257 2686 1265 2688 1274 2689 1282 2690 1289 2691 1296 2691 1303 2691 1309 2692 1313Z" fill="#ffffff"/>
<path d="M2708 1322 2712 1320 2717 1318 2723 1314 2729 1310 2736 1305 2743 1301 2751 1295 2756 1288 2760 1281 2762 1274 2764 1269 2766 1263 2767 1255 2767 1248 2767 1244 2766 1238 2764 1232 2762 1226 2759 1219 2754 1211 2745 1203 2734 1198 2723 1195 2715 1196 2710 1196 2704 1197 2699 1199 2693 1201 2688 1202 2682 1205 2676 1208 2670 1211 2665 1214 2661 1216 2658 1217 2654 1219 2651 1220 2646 1222 2640 1223 2634 1226 2628 1228 2623 1230 2619 1232 2614 1234 2611 1235 2607 1236 2602 1238 2597 1239 2592 1241 2586 1243 2582 1244 2578 1246 2574 1247 2572 1248 2569 1249 2567 1250 2565 1251 2563 1252 2561 1253 2563 1252 2588 1253 2611 1297 2597 1319 2542 1311 2535 1291 2535 1291 2535 1294 2535 1296 2535 1299 2535 1305 2545 1328 2578 1341 2611 1318 2594 1267 2580 1263 2576 1262 2572 1261 2567 1261 2563 1260 2568 1262 2589 1279 2594 1298 2577 1328 2518 1307 2517 1302 2517 1308 2517 1317 2517 1328 2518 1340 2518 1351 2519 1362 2519 1372 2520 1382 2521 1393 2522 1403 2523 1414 2524 1424 2525 1434 2526 1444 2527 1455 2528 1465 2530 1476 2531 1486 2532 1496 2534 1506 2535 1514 2537 1522 2538 1530 2539 1536 2540 1542 2557 1570 2630 1547 2632 1530 2566 1489 2545 1510 2542 1516 2539 1522 2535 1530 2531 1538 2528 1546 2524 1554 2521 1562 2518 1570 2515 1578 2512 1587 2510 1595 2507 1603 2505 1612 2503 1620 2501 1630 2499 1640 2497 1650 2495 1661 2494 1671 2492 1682 2491 1691 2490 1701 2489 1712 2488 1724 2487 1737 2487 1752 2487 1769 2488 1786 2489 1802 2490 1817 2491 1829 2493 1840 2494 1850 2496 1860 2498 1871 2500 1884 2503 1898 2507 1912 2509 1924 2512 1934 2521 1954 2600 1943 2604 1919 2567 1876 2522 1891 2516 1899 2511 1905 2506 1912 2500 1920 2494 1927 2489 1934 2483 1941 2477 1949 2471 1958 2465 1967 2459 1976 2454 1984 2449 1993 2445 2002 2441 2010 2437 2019 2434 2027 2431 2036 2428 2044 2425 2052 2422 2061 2420 2070 2418 2078 2416 2085 2415 2092 2413 2099 2411 2106 2408 2114 2406 2123 2404 2132 2402 2140 2401 2149 2400 2157 2399 2165 2398 2174 2397 2184 2397 2194 2396 2205 2396 2215 2395 2226 2395 2237 2394 2249 2394 2260 2394 2269 2393 2275 2393 2279 2475 2254 2476 2254 2425 2237 2405 2248 2401 2252 2397 2256 2391 2262 2384 2269 2377 2278 2370 2288 2365 2297 2361 2305 2358 2311 2355 2315 2354 2316 2354 2317 2352 2319 2347 2324 2342 2330 2337 2337 2332 2344 2327 2352 2322 2359 2318 2365 2314 2370 2311 2376 2307 2381 2304 2385 2302 2388 2378 2440 2380 2437 2383 2433 2386 2428 2390 2423 2394 2417 2398 2411 2403 2404 2408 2397 2412 2390 2416 2386 2418 2383 2419 2382 2422 2378 2427 2373 2433 2365 2438 2357 2442 2348 2446 2341 2449 2335 2451 2332 2453 2330 2456 2326 2460 2322 2465 2318 2467 2316 2451 2325 2402 2309 2402 2310 2485 2284 2485 2281 2485 2273 2486 2263 2486 2252 2487 2240 2487 2230 2487 2220 2488 2210 2489 2200 2489 2191 2490 2182 2491 2174 2491 2168 2492 2162 2493 2156 2494 2150 2495 2145 2497 2139 2499 2132 2501 2124 2503 2116 2506 2108 2507 2100 2509 2093 2511 2086 2513 2080 2515 2073 2517 2067 2520 2060 2522 2054 2525 2048 2528 2042 2531 2035 2534 2029 2538 2023 2541 2017 2545 2011 2550 2005 2556 1998 2562 1991 2568 1983 2573 1975 2579 1968 2585 1960 2589 1954 2590 1953 2548 1966 2513 1926 2516 1907 2593 1897 2600 1910 2599 1904 2596 1892 2593 1878 2590 1865 2588 1853 2586 1844 2585 1835 2584 1828 2583 1819 2582 1809 2581 1796 2580 1781 2579 1766 2579 1751 2579 1739 2579 1729 2580 1721 2581 1713 2582 1704 2584 1694 2585 1684 2586 1675 2588 1665 2589 1656 2591 1648 2593 1641 2594 1634 2596 1628 2598 1622 2600 1615 2602 1609 2604 1602 2607 1595 2610 1588 2612 1582 2615 1576 2618 1569 2621 1562 2624 1556 2625 1554 2606 1572 2540 1533 2542 1519 2614 1498 2630 1522 2629 1519 2628 1513 2627 1506 2626 1499 2624 1490 2623 1482 2621 1472 2619 1462 2617 1451 2615 1441 2613 1432 2611 1422 2610 1412 2608 1402 2606 1393 2605 1383 2604 1374 2602 1364 2601 1354 2600 1345 2599 1335 2598 1324 2597 1313 2596 1303 2595 1296 2593 1285 2532 1263 2515 1295 2521 1318 2544 1336 2554 1338 2558 1339 2563 1339 2567 1339 2568 1339 2556 1335 2540 1286 2572 1263 2603 1276 2613 1297 2613 1299 2613 1296 2613 1294 2613 1291 2613 1287 2605 1266 2550 1257 2535 1280 2559 1325 2585 1326 2590 1324 2591 1324 2594 1323 2596 1322 2599 1321 2601 1320 2604 1318 2607 1317 2609 1316 2612 1315 2615 1314 2620 1313 2625 1311 2631 1309 2637 1307 2643 1305 2649 1302 2654 1300 2658 1298 2662 1296 2665 1295 2670 1293 2675 1292 2681 1289 2688 1287 2695 1283 2701 1280 2707 1277 2711 1275 2714 1273 2716 1272 2719 1271 2721 1270 2722 1270 2722 1270 2721 1270 2718 1270 2710 1268 2702 1264 2696 1259 2694 1255 2693 1253 2693 1254 2693 1254 2693 1254 2693 1254 2693 1251 2694 1247 2694 1246 2694 1248 2692 1252 2689 1258 2688 1266 2689 1275 2690 1283 2691 1290 2691 1297 2692 1304 2692 1309 2692 1314Z" fill="#e4f7fe"/>
<path d="M2708 1322 2711 1320 2716 1317 2722 1314 2729 1310 2735 1305 2742 1300 2750 1295 2755 1288 2759 1280 2761 1274 2763 1269 2765 1263 2766 1255 2766 1248 2765 1244 2765 1239 2763 1233 2761 1227 2758 1220 2753 1212 2744 1204 2734 1199 2723 1197 2716 1197 2710 1197 2705 1198 2699 1200 2694 1202 2689 1204 2683 1206 2677 1209 2671 1212 2666 1215 2662 1217 2658 1219 2655 1220 2651 1221 2646 1223 2641 1225 2635 1227 2629 1229 2624 1231 2619 1233 2615 1235 2611 1236 2607 1238 2603 1239 2597 1240 2592 1242 2587 1244 2582 1245 2578 1247 2575 1248 2572 1249 2570 1250 2568 1251 2565 1252 2563 1253 2561 1254 2563 1253 2587 1254 2610 1297 2596 1318 2543 1310 2537 1291 2536 1291 2536 1294 2536 1296 2536 1299 2537 1305 2546 1327 2578 1339 2610 1317 2593 1268 2580 1264 2575 1263 2571 1263 2567 1262 2563 1262 2567 1263 2588 1279 2592 1298 2577 1326 2519 1307 2518 1302 2518 1308 2518 1317 2519 1328 2519 1340 2519 1351 2520 1361 2521 1372 2521 1382 2522 1393 2523 1403 2524 1413 2525 1424 2526 1434 2527 1444 2529 1454 2530 1465 2531 1476 2533 1486 2534 1496 2535 1505 2537 1514 2538 1522 2539 1529 2540 1536 2542 1542 2558 1569 2629 1546 2631 1530 2566 1491 2546 1511 2543 1517 2540 1523 2536 1530 2533 1538 2529 1547 2526 1554 2523 1562 2520 1570 2517 1579 2514 1587 2511 1596 2509 1604 2507 1612 2504 1621 2502 1630 2500 1640 2499 1650 2497 1661 2495 1672 2494 1682 2493 1691 2491 1701 2490 1712 2489 1724 2489 1737 2489 1752 2489 1769 2490 1786 2491 1802 2492 1817 2493 1829 2494 1840 2496 1850 2497 1860 2499 1870 2502 1883 2505 1898 2508 1912 2511 1923 2513 1933 2522 1953 2599 1942 2603 1919 2567 1877 2523 1892 2517 1900 2512 1906 2507 1913 2501 1921 2496 1928 2490 1935 2485 1942 2478 1950 2472 1959 2466 1968 2460 1977 2455 1985 2451 1994 2446 2002 2443 2011 2439 2019 2435 2028 2432 2036 2429 2044 2427 2053 2424 2061 2422 2070 2420 2078 2418 2086 2416 2093 2414 2099 2412 2106 2410 2114 2407 2123 2405 2132 2404 2141 2403 2149 2401 2157 2401 2165 2400 2174 2399 2184 2398 2194 2398 2205 2397 2216 2397 2226 2396 2237 2396 2249 2395 2260 2395 2269 2395 2275 2394 2279 2474 2255 2474 2255 2425 2238 2406 2249 2402 2253 2398 2257 2392 2263 2385 2270 2378 2279 2372 2289 2367 2298 2362 2306 2359 2312 2357 2316 2356 2317 2355 2318 2353 2320 2349 2325 2344 2331 2339 2338 2333 2345 2328 2353 2324 2360 2319 2366 2316 2371 2312 2377 2308 2382 2306 2386 2303 2389 2377 2439 2379 2436 2381 2432 2385 2427 2389 2422 2393 2416 2397 2410 2402 2403 2407 2396 2411 2390 2414 2385 2416 2383 2418 2381 2421 2377 2426 2372 2431 2364 2436 2356 2441 2348 2445 2340 2448 2334 2450 2331 2452 2329 2455 2325 2459 2321 2464 2317 2466 2315 2450 2323 2403 2308 2403 2309 2483 2284 2483 2281 2484 2273 2484 2263 2485 2252 2485 2240 2485 2230 2486 2220 2486 2210 2487 2200 2488 2190 2488 2182 2489 2174 2490 2168 2491 2162 2491 2156 2493 2150 2494 2144 2496 2138 2498 2131 2500 2124 2502 2115 2504 2107 2506 2100 2508 2092 2510 2086 2511 2079 2514 2073 2516 2066 2518 2060 2521 2054 2523 2047 2527 2041 2530 2035 2533 2028 2537 2022 2540 2016 2544 2010 2549 2004 2555 1997 2560 1990 2566 1982 2572 1974 2578 1967 2583 1960 2588 1953 2589 1952 2549 1964 2514 1926 2517 1907 2592 1898 2599 1911 2598 1904 2595 1892 2592 1879 2589 1865 2587 1854 2585 1844 2583 1836 2582 1828 2581 1820 2580 1809 2579 1796 2579 1781 2578 1766 2578 1751 2577 1739 2578 1729 2579 1721 2580 1712 2581 1704 2582 1694 2583 1684 2585 1675 2586 1665 2588 1656 2590 1648 2591 1641 2593 1634 2594 1627 2596 1621 2598 1615 2601 1608 2603 1601 2606 1595 2608 1588 2611 1581 2614 1575 2617 1568 2620 1562 2623 1556 2624 1553 2606 1570 2542 1533 2544 1519 2613 1499 2628 1522 2628 1520 2627 1514 2626 1507 2624 1499 2623 1491 2621 1482 2619 1472 2617 1462 2615 1452 2613 1442 2612 1432 2610 1422 2608 1412 2606 1403 2605 1393 2604 1383 2602 1374 2601 1364 2600 1354 2599 1345 2597 1335 2596 1324 2595 1313 2595 1304 2594 1296 2592 1285 2533 1264 2517 1295 2522 1317 2545 1335 2555 1337 2559 1337 2563 1338 2567 1338 2568 1338 2557 1334 2541 1286 2572 1264 2602 1277 2611 1297 2612 1299 2612 1296 2612 1294 2612 1291 2611 1287 2604 1266 2551 1258 2537 1281 2559 1324 2585 1325 2589 1323 2591 1323 2593 1322 2595 1321 2598 1320 2601 1318 2604 1317 2606 1316 2609 1315 2611 1314 2615 1313 2619 1312 2625 1310 2631 1308 2637 1306 2643 1303 2648 1301 2653 1299 2657 1297 2661 1295 2665 1294 2670 1292 2675 1290 2681 1288 2688 1285 2695 1282 2701 1279 2706 1276 2710 1274 2713 1272 2716 1271 2718 1270 2720 1269 2721 1269 2722 1269 2721 1269 2718 1269 2711 1267 2703 1263 2697 1258 2695 1254 2694 1253 2694 1253 2694 1254 2695 1254 2695 1254 2695 1251 2695 1247 2695 1246 2695 1248 2693 1252 2690 1258 2689 1266 2690 1275 2691 1283 2691 1290 2692 1297 2692 1304 2692 1309 2692 1314Z" fill="#c9d8fb"/>
<path d="M2708 1322 2711 1320 2716 1317 2722 1313 2728 1309 2735 1305 2742 1300 2749 1294 2754 1287 2758 1280 2760 1274 2762 1268 2764 1262 2765 1255 2765 1248 2764 1244 2763 1239 2762 1233 2760 1227 2757 1220 2752 1213 2744 1205 2733 1200 2723 1198 2716 1198 2710 1199 2705 1200 2700 1201 2694 1203 2689 1205 2683 1207 2677 1210 2672 1213 2667 1216 2662 1218 2659 1220 2655 1221 2651 1222 2647 1224 2641 1226 2635 1228 2629 1230 2624 1232 2620 1234 2615 1236 2612 1237 2608 1239 2603 1240 2598 1242 2593 1243 2587 1245 2583 1247 2578 1248 2575 1250 2573 1251 2570 1252 2568 1252 2566 1253 2564 1254 2562 1255 2564 1254 2587 1255 2609 1296 2595 1317 2544 1309 2538 1291 2538 1291 2538 1294 2538 1296 2538 1299 2538 1305 2547 1326 2578 1338 2608 1317 2593 1270 2580 1265 2575 1265 2571 1264 2567 1263 2563 1263 2567 1264 2586 1280 2591 1298 2576 1325 2520 1306 2519 1302 2519 1308 2520 1317 2520 1328 2520 1340 2521 1351 2521 1361 2522 1372 2523 1382 2524 1392 2524 1403 2525 1413 2526 1424 2528 1434 2529 1444 2530 1454 2531 1465 2533 1475 2534 1486 2535 1496 2537 1505 2538 1514 2539 1522 2541 1529 2542 1535 2543 1542 2559 1567 2627 1546 2629 1530 2567 1492 2547 1512 2544 1518 2541 1524 2538 1531 2534 1539 2530 1547 2527 1555 2524 1563 2521 1571 2518 1579 2515 1588 2513 1596 2510 1604 2508 1612 2506 1621 2504 1630 2502 1640 2500 1651 2498 1661 2497 1672 2495 1682 2494 1692 2493 1701 2491 1712 2491 1724 2490 1737 2490 1752 2490 1769 2491 1786 2492 1802 2493 1816 2494 1829 2496 1840 2497 1850 2499 1859 2501 1870 2503 1883 2506 1897 2509 1911 2512 1923 2514 1933 2523 1952 2598 1942 2601 1919 2567 1879 2524 1893 2518 1900 2514 1907 2508 1914 2502 1922 2497 1929 2492 1936 2486 1943 2480 1951 2473 1959 2467 1968 2462 1977 2457 1986 2452 1994 2448 2003 2444 2011 2440 2020 2437 2028 2434 2037 2431 2045 2428 2053 2425 2062 2423 2070 2421 2079 2419 2086 2417 2093 2416 2100 2413 2107 2411 2115 2409 2123 2407 2132 2405 2141 2404 2149 2403 2157 2402 2165 2401 2174 2400 2184 2400 2194 2399 2205 2399 2216 2398 2226 2398 2237 2397 2249 2397 2260 2397 2269 2396 2275 2396 2279 2473 2256 2473 2256 2426 2239 2407 2250 2403 2254 2399 2258 2393 2264 2386 2271 2379 2280 2373 2289 2368 2298 2364 2306 2360 2313 2358 2317 2357 2318 2356 2319 2354 2321 2350 2326 2345 2332 2340 2339 2335 2346 2330 2353 2325 2360 2321 2367 2317 2372 2313 2377 2310 2382 2307 2386 2305 2389 2375 2439 2377 2436 2380 2431 2384 2427 2387 2421 2391 2415 2396 2409 2401 2402 2405 2395 2410 2389 2413 2384 2415 2382 2417 2380 2420 2376 2425 2371 2430 2363 2435 2355 2439 2347 2443 2340 2447 2334 2449 2330 2451 2328 2454 2324 2458 2320 2463 2316 2465 2314 2450 2322 2404 2307 2405 2308 2482 2284 2482 2281 2482 2273 2483 2263 2483 2252 2484 2240 2484 2230 2484 2220 2485 2210 2486 2200 2486 2190 2487 2182 2488 2174 2488 2167 2489 2161 2490 2156 2491 2150 2492 2144 2494 2138 2496 2131 2498 2123 2501 2115 2503 2107 2505 2099 2506 2092 2508 2085 2510 2079 2512 2072 2514 2066 2517 2059 2519 2053 2522 2047 2525 2040 2528 2034 2532 2028 2535 2021 2539 2016 2543 2010 2548 2003 2553 1996 2559 1989 2565 1981 2571 1974 2577 1966 2582 1959 2587 1952 2588 1951 2549 1963 2516 1926 2519 1908 2591 1899 2598 1911 2596 1904 2593 1892 2590 1879 2588 1866 2585 1854 2583 1844 2582 1836 2581 1828 2580 1820 2579 1810 2578 1797 2577 1782 2576 1766 2576 1751 2576 1739 2576 1729 2577 1720 2578 1712 2579 1703 2581 1694 2582 1684 2583 1674 2585 1665 2586 1656 2588 1648 2590 1640 2591 1633 2593 1627 2595 1621 2597 1614 2599 1608 2602 1601 2604 1594 2607 1587 2610 1581 2612 1574 2616 1568 2619 1561 2622 1555 2623 1552 2605 1569 2543 1533 2545 1520 2612 1500 2627 1522 2627 1520 2625 1514 2624 1507 2623 1499 2621 1491 2620 1482 2618 1472 2616 1462 2614 1452 2612 1442 2610 1432 2608 1422 2607 1412 2605 1403 2604 1393 2602 1384 2601 1374 2600 1364 2598 1355 2597 1345 2596 1335 2595 1324 2594 1313 2593 1304 2593 1296 2591 1285 2534 1265 2518 1295 2523 1316 2545 1334 2555 1336 2559 1336 2563 1336 2567 1337 2568 1337 2557 1333 2542 1287 2572 1266 2601 1277 2610 1297 2610 1299 2610 1296 2610 1294 2610 1291 2610 1287 2603 1267 2552 1259 2538 1281 2560 1323 2584 1324 2589 1322 2590 1321 2593 1321 2595 1320 2598 1318 2600 1317 2603 1316 2606 1315 2608 1314 2611 1313 2614 1312 2619 1310 2624 1309 2630 1307 2636 1305 2642 1302 2648 1300 2653 1298 2657 1296 2661 1294 2665 1293 2669 1291 2675 1289 2681 1287 2687 1284 2694 1281 2700 1278 2705 1275 2710 1272 2713 1271 2715 1270 2718 1269 2720 1268 2721 1268 2722 1267 2721 1267 2718 1267 2711 1266 2703 1262 2698 1257 2696 1254 2695 1253 2695 1253 2696 1253 2696 1254 2696 1254 2696 1251 2696 1247 2697 1246 2696 1248 2694 1253 2691 1259 2690 1267 2691 1275 2691 1283 2692 1290 2692 1297 2692 1304 2692 1310 2692 1314Z" fill="#eaf9fe"/>
<path d="M2706 1322 2710 1319 2714 1316 2720 1312 2726 1308 2732 1303 2738 1298 2745 1292 2750 1285 2753 1278 2756 1272 2758 1267 2759 1261 2760 1254 2760 1249 2760 1245 2759 1240 2757 1234 2755 1229 2753 1223 2748 1216 2741 1209 2732 1205 2723 1203 2716 1203 2711 1203 2706 1204 2701 1206 2696 1207 2691 1209 2685 1212 2680 1214 2674 1217 2669 1220 2664 1222 2661 1224 2657 1226 2653 1227 2648 1229 2643 1230 2637 1232 2631 1235 2626 1237 2622 1239 2617 1241 2613 1242 2609 1244 2604 1245 2599 1246 2594 1248 2589 1250 2584 1251 2580 1253 2577 1254 2575 1255 2572 1256 2570 1257 2568 1258 2565 1259 2564 1260 2565 1259 2585 1260 2604 1295 2592 1313 2548 1306 2543 1291 2543 1291 2543 1294 2543 1296 2543 1299 2543 1304 2551 1323 2577 1333 2604 1315 2590 1274 2579 1270 2575 1270 2571 1269 2566 1269 2562 1268 2565 1269 2582 1282 2586 1298 2573 1321 2525 1305 2524 1302 2525 1307 2525 1317 2525 1328 2526 1340 2526 1351 2527 1361 2527 1371 2528 1381 2529 1392 2530 1402 2531 1412 2532 1423 2533 1433 2535 1443 2536 1453 2537 1464 2538 1474 2540 1485 2541 1495 2543 1504 2544 1513 2545 1521 2547 1528 2548 1534 2549 1540 2563 1563 2621 1544 2623 1530 2570 1497 2552 1514 2550 1520 2547 1526 2543 1533 2539 1542 2536 1549 2533 1557 2530 1565 2527 1573 2524 1581 2521 1590 2518 1598 2516 1606 2514 1614 2512 1622 2510 1632 2508 1641 2506 1652 2504 1662 2503 1673 2501 1683 2500 1692 2499 1702 2497 1712 2497 1724 2496 1737 2496 1752 2496 1769 2497 1786 2498 1802 2499 1816 2500 1828 2502 1839 2503 1849 2505 1858 2507 1869 2509 1882 2512 1896 2515 1910 2518 1922 2520 1932 2528 1948 2592 1939 2595 1919 2565 1885 2529 1897 2523 1904 2518 1910 2513 1918 2507 1925 2502 1933 2496 1939 2491 1947 2484 1955 2478 1963 2472 1972 2467 1980 2462 1989 2457 1997 2453 2005 2449 2014 2446 2022 2442 2030 2439 2039 2436 2047 2434 2055 2431 2063 2429 2072 2427 2080 2425 2087 2423 2094 2421 2101 2419 2109 2417 2116 2415 2125 2413 2133 2411 2142 2410 2150 2409 2158 2408 2166 2407 2175 2406 2184 2406 2195 2405 2205 2405 2216 2404 2226 2404 2237 2403 2249 2403 2260 2402 2269 2402 2276 2402 2279 2468 2260 2468 2259 2428 2245 2411 2254 2407 2259 2403 2263 2397 2268 2391 2275 2384 2283 2378 2292 2373 2301 2369 2309 2365 2316 2363 2320 2362 2322 2361 2323 2358 2325 2354 2330 2349 2336 2345 2342 2340 2349 2335 2357 2330 2364 2326 2370 2322 2375 2318 2381 2315 2386 2312 2390 2310 2393 2370 2435 2372 2432 2375 2428 2379 2423 2382 2418 2386 2412 2391 2406 2396 2399 2400 2392 2405 2385 2409 2380 2411 2378 2412 2376 2416 2372 2420 2367 2425 2360 2430 2352 2434 2344 2438 2337 2442 2331 2444 2327 2446 2324 2450 2320 2454 2316 2458 2312 2461 2310 2448 2316 2409 2303 2409 2304 2476 2283 2476 2280 2476 2273 2477 2263 2477 2251 2478 2240 2478 2230 2478 2220 2479 2209 2480 2199 2480 2190 2481 2181 2482 2174 2482 2167 2483 2160 2484 2155 2485 2149 2487 2142 2488 2136 2490 2129 2493 2122 2495 2114 2497 2105 2499 2098 2501 2090 2502 2084 2504 2077 2507 2070 2509 2064 2511 2057 2514 2051 2517 2044 2520 2038 2523 2031 2526 2025 2530 2018 2534 2012 2538 2006 2543 1999 2549 1992 2555 1985 2560 1977 2566 1970 2572 1962 2577 1955 2582 1949 2583 1947 2550 1957 2522 1926 2524 1910 2586 1903 2592 1912 2590 1906 2588 1894 2585 1880 2582 1867 2579 1855 2578 1845 2576 1837 2575 1829 2574 1820 2573 1810 2572 1797 2571 1782 2570 1766 2570 1751 2570 1739 2570 1729 2571 1720 2572 1711 2573 1703 2575 1693 2576 1683 2577 1673 2579 1664 2581 1655 2582 1646 2584 1639 2586 1632 2587 1625 2589 1619 2591 1612 2593 1606 2596 1599 2599 1592 2601 1585 2604 1579 2607 1572 2610 1565 2613 1558 2616 1552 2618 1550 2602 1564 2549 1533 2551 1522 2609 1505 2621 1524 2621 1521 2620 1515 2618 1508 2617 1500 2615 1492 2614 1483 2612 1473 2610 1463 2608 1453 2606 1443 2605 1433 2603 1423 2601 1413 2600 1404 2598 1394 2597 1384 2595 1374 2594 1365 2593 1355 2592 1345 2591 1335 2590 1324 2589 1313 2588 1304 2588 1296 2586 1287 2537 1270 2523 1295 2528 1314 2547 1329 2555 1331 2559 1331 2564 1331 2568 1332 2569 1332 2560 1329 2547 1289 2572 1271 2598 1281 2605 1298 2605 1299 2605 1296 2605 1294 2605 1291 2605 1287 2599 1270 2555 1263 2543 1282 2562 1318 2583 1319 2587 1317 2589 1317 2591 1316 2593 1315 2596 1314 2599 1313 2601 1311 2604 1310 2606 1309 2609 1308 2613 1307 2617 1306 2623 1304 2629 1302 2635 1300 2640 1298 2646 1295 2651 1293 2655 1291 2659 1290 2663 1288 2668 1286 2673 1285 2679 1282 2685 1280 2692 1277 2698 1273 2703 1270 2707 1268 2711 1266 2713 1265 2716 1264 2719 1263 2720 1263 2721 1263 2721 1263 2718 1263 2713 1261 2706 1258 2702 1254 2700 1251 2700 1251 2700 1252 2700 1252 2700 1253 2701 1254 2701 1251 2701 1248 2701 1248 2700 1250 2698 1255 2696 1261 2694 1269 2694 1277 2694 1285 2694 1292 2694 1298 2694 1305 2694 1310 2694 1314Z" fill="#8fe8f8"/>
<path d="M2706 1321 2709 1319 2714 1316 2719 1312 2725 1308 2731 1303 2737 1298 2744 1292 2749 1285 2752 1278 2755 1271 2756 1266 2758 1261 2759 1254 2759 1249 2758 1245 2758 1240 2756 1235 2754 1229 2752 1223 2747 1217 2740 1210 2731 1206 2722 1204 2716 1204 2711 1205 2706 1206 2701 1207 2696 1209 2691 1210 2686 1213 2680 1215 2675 1218 2669 1221 2665 1224 2661 1225 2658 1227 2653 1228 2649 1230 2643 1232 2637 1234 2632 1236 2627 1238 2622 1240 2618 1242 2614 1243 2610 1245 2605 1246 2600 1248 2594 1249 2589 1251 2585 1253 2581 1254 2578 1255 2575 1256 2573 1257 2570 1258 2568 1259 2566 1260 2564 1261 2565 1260 2584 1261 2603 1295 2591 1312 2549 1306 2544 1291 2544 1291 2544 1294 2544 1296 2544 1299 2544 1304 2552 1322 2577 1332 2603 1314 2590 1275 2579 1271 2575 1271 2571 1270 2566 1270 2562 1269 2565 1270 2581 1283 2585 1298 2572 1320 2526 1304 2526 1302 2526 1307 2526 1317 2526 1328 2527 1339 2527 1350 2528 1361 2529 1371 2530 1381 2530 1392 2531 1402 2532 1412 2533 1423 2535 1433 2536 1443 2537 1453 2539 1464 2540 1474 2541 1485 2543 1495 2544 1504 2545 1512 2547 1521 2548 1528 2549 1534 2550 1540 2564 1561 2620 1544 2622 1530 2570 1499 2554 1515 2551 1521 2548 1527 2545 1534 2541 1542 2537 1550 2534 1558 2531 1565 2528 1574 2525 1582 2522 1590 2520 1598 2517 1606 2515 1614 2513 1623 2511 1632 2509 1642 2508 1652 2506 1662 2504 1673 2503 1683 2502 1693 2500 1702 2499 1713 2498 1724 2498 1737 2498 1752 2498 1769 2499 1785 2500 1802 2501 1816 2502 1828 2503 1839 2505 1849 2506 1858 2508 1869 2511 1881 2514 1896 2517 1910 2520 1921 2522 1931 2529 1947 2591 1939 2594 1920 2565 1886 2530 1898 2524 1905 2520 1911 2514 1918 2508 1926 2503 1933 2498 1940 2492 1948 2486 1955 2479 1964 2473 1973 2468 1981 2463 1990 2459 1998 2455 2006 2451 2014 2447 2023 2444 2031 2441 2039 2438 2047 2435 2055 2433 2064 2430 2072 2428 2080 2427 2088 2425 2095 2423 2102 2421 2109 2418 2117 2416 2125 2414 2134 2413 2142 2411 2150 2410 2158 2409 2166 2409 2175 2408 2185 2407 2195 2407 2205 2406 2216 2406 2226 2405 2237 2405 2249 2404 2260 2404 2269 2404 2276 2403 2280 2467 2261 2467 2260 2428 2247 2412 2255 2408 2260 2404 2264 2398 2269 2392 2276 2385 2284 2379 2293 2374 2302 2370 2310 2367 2316 2364 2321 2363 2323 2362 2324 2359 2326 2355 2331 2351 2337 2346 2343 2341 2350 2336 2358 2331 2365 2327 2371 2323 2376 2319 2382 2316 2387 2313 2391 2311 2394 2369 2434 2371 2431 2374 2427 2377 2422 2381 2417 2385 2411 2390 2405 2394 2398 2399 2391 2404 2384 2407 2379 2409 2377 2411 2375 2414 2371 2419 2366 2424 2359 2429 2351 2433 2343 2437 2336 2440 2330 2443 2326 2445 2323 2449 2319 2453 2315 2457 2311 2460 2309 2448 2315 2410 2302 2411 2303 2474 2283 2474 2280 2475 2273 2475 2263 2476 2251 2476 2240 2476 2230 2477 2220 2477 2209 2478 2199 2479 2190 2479 2181 2480 2173 2481 2166 2482 2160 2483 2154 2484 2148 2485 2142 2487 2136 2489 2129 2491 2121 2493 2113 2495 2105 2497 2097 2499 2090 2501 2083 2503 2077 2505 2070 2507 2063 2510 2057 2512 2050 2515 2044 2518 2037 2522 2030 2525 2024 2529 2018 2533 2011 2537 2005 2542 1999 2548 1991 2553 1984 2559 1977 2565 1969 2571 1961 2576 1954 2581 1948 2582 1946 2551 1956 2523 1925 2525 1911 2585 1903 2590 1913 2589 1906 2586 1894 2583 1881 2580 1867 2578 1855 2576 1846 2575 1837 2573 1829 2572 1821 2571 1810 2570 1797 2570 1782 2569 1766 2569 1751 2568 1739 2569 1728 2570 1720 2571 1711 2572 1702 2573 1693 2575 1683 2576 1673 2578 1664 2579 1655 2581 1646 2582 1639 2584 1632 2586 1625 2588 1619 2590 1612 2592 1605 2595 1598 2597 1591 2600 1584 2603 1578 2606 1571 2609 1564 2612 1558 2615 1552 2616 1549 2602 1562 2551 1533 2552 1522 2608 1506 2620 1524 2619 1521 2618 1515 2617 1508 2615 1500 2614 1492 2612 1483 2610 1474 2609 1463 2607 1453 2605 1443 2603 1433 2601 1423 2600 1413 2598 1404 2597 1394 2595 1384 2594 1375 2593 1365 2592 1355 2591 1346 2590 1335 2589 1324 2588 1313 2587 1304 2586 1296 2585 1287 2538 1271 2524 1295 2529 1313 2547 1328 2555 1329 2559 1330 2564 1330 2568 1331 2569 1331 2561 1328 2548 1289 2572 1272 2597 1282 2604 1298 2604 1299 2604 1296 2604 1294 2604 1291 2604 1287 2598 1271 2556 1264 2544 1282 2562 1317 2583 1318 2586 1316 2588 1316 2590 1315 2593 1314 2595 1313 2598 1311 2601 1310 2603 1309 2606 1308 2609 1307 2612 1306 2617 1304 2622 1303 2628 1301 2634 1299 2640 1296 2645 1294 2650 1292 2654 1290 2659 1288 2663 1287 2667 1285 2673 1283 2678 1281 2685 1279 2691 1275 2697 1272 2702 1269 2707 1267 2710 1265 2713 1264 2716 1263 2718 1262 2720 1262 2721 1261 2721 1261 2718 1261 2713 1260 2707 1257 2703 1253 2701 1251 2701 1250 2701 1251 2702 1252 2702 1253 2702 1254 2702 1251 2702 1248 2702 1248 2701 1251 2700 1255 2697 1261 2695 1269 2695 1278 2695 1285 2695 1292 2695 1299 2694 1305 2694 1311 2694 1315Z" fill="#ffffff"/>
<path d="M2706 1321 2709 1319 2713 1315 2718 1311 2724 1307 2729 1302 2735 1297 2742 1291 2746 1284 2749 1276 2752 1270 2754 1265 2755 1260 2756 1254 2756 1249 2756 1245 2755 1241 2753 1236 2752 1230 2749 1225 2745 1219 2739 1213 2730 1208 2722 1207 2716 1207 2712 1207 2707 1208 2702 1210 2697 1211 2692 1213 2687 1215 2681 1218 2676 1221 2671 1224 2666 1226 2662 1228 2659 1229 2654 1231 2650 1233 2644 1234 2638 1236 2633 1239 2628 1241 2623 1243 2619 1244 2615 1246 2611 1247 2606 1249 2601 1250 2595 1252 2590 1254 2586 1255 2582 1257 2579 1258 2576 1259 2574 1260 2572 1261 2569 1262 2567 1263 2565 1263 2566 1263 2583 1264 2600 1294 2590 1310 2552 1304 2547 1291 2547 1291 2547 1294 2547 1296 2547 1299 2547 1304 2554 1320 2577 1329 2600 1313 2588 1278 2578 1274 2574 1274 2570 1273 2566 1273 2562 1272 2564 1273 2578 1284 2582 1298 2571 1318 2529 1304 2529 1301 2529 1307 2529 1317 2530 1328 2530 1339 2531 1350 2531 1360 2532 1371 2533 1381 2534 1391 2535 1402 2536 1412 2537 1422 2538 1432 2539 1442 2541 1453 2542 1463 2543 1474 2545 1484 2546 1494 2547 1503 2549 1512 2550 1520 2552 1527 2553 1533 2554 1539 2566 1559 2617 1543 2618 1530 2572 1502 2557 1517 2554 1522 2551 1528 2548 1536 2544 1544 2541 1551 2537 1559 2534 1567 2531 1575 2528 1583 2526 1591 2523 1599 2521 1607 2519 1615 2517 1624 2515 1633 2513 1642 2511 1652 2509 1663 2508 1673 2506 1684 2505 1693 2504 1703 2502 1713 2501 1725 2501 1737 2501 1752 2501 1769 2502 1785 2503 1801 2504 1816 2505 1828 2507 1838 2508 1848 2510 1858 2512 1868 2514 1881 2517 1895 2520 1909 2523 1921 2525 1930 2532 1945 2588 1937 2590 1920 2564 1890 2533 1900 2527 1907 2522 1913 2517 1921 2511 1928 2506 1936 2500 1942 2494 1950 2488 1958 2482 1966 2476 1974 2471 1983 2466 1991 2462 2000 2458 2008 2454 2016 2450 2024 2447 2032 2444 2040 2441 2048 2438 2056 2436 2065 2434 2073 2432 2081 2430 2089 2428 2096 2426 2103 2424 2110 2422 2118 2420 2126 2418 2134 2416 2143 2415 2151 2414 2158 2413 2166 2412 2175 2411 2185 2411 2195 2410 2206 2410 2216 2409 2227 2409 2238 2408 2249 2408 2260 2407 2269 2407 2276 2407 2280 2464 2263 2464 2262 2429 2250 2415 2258 2411 2262 2406 2266 2401 2272 2394 2278 2388 2286 2382 2295 2378 2304 2373 2312 2370 2318 2367 2323 2366 2325 2364 2326 2362 2329 2358 2333 2353 2339 2349 2345 2344 2352 2339 2360 2334 2367 2330 2373 2326 2378 2322 2384 2319 2389 2316 2393 2314 2396 2366 2432 2368 2429 2371 2425 2375 2420 2378 2415 2382 2409 2387 2403 2391 2396 2396 2389 2401 2382 2405 2377 2407 2374 2409 2372 2412 2369 2416 2364 2421 2357 2426 2350 2430 2342 2434 2334 2437 2328 2440 2324 2443 2320 2446 2316 2451 2312 2455 2308 2457 2306 2447 2311 2413 2300 2413 2301 2471 2283 2471 2280 2471 2273 2472 2262 2472 2251 2473 2240 2473 2229 2473 2219 2474 2209 2475 2199 2475 2189 2476 2181 2477 2173 2477 2166 2478 2160 2479 2154 2480 2148 2482 2141 2483 2135 2485 2128 2488 2120 2490 2112 2492 2104 2494 2097 2496 2089 2498 2082 2500 2076 2502 2069 2504 2062 2507 2055 2509 2049 2512 2042 2515 2036 2519 2029 2522 2022 2526 2016 2530 2010 2534 2003 2539 1996 2545 1989 2551 1982 2556 1974 2562 1967 2568 1959 2573 1952 2578 1946 2579 1944 2551 1952 2527 1925 2529 1912 2582 1906 2587 1914 2585 1907 2583 1895 2580 1881 2577 1868 2574 1856 2573 1846 2571 1838 2570 1830 2569 1821 2568 1810 2567 1797 2566 1782 2565 1766 2565 1751 2565 1739 2565 1728 2566 1719 2567 1711 2568 1702 2570 1692 2571 1682 2573 1673 2574 1663 2576 1654 2577 1645 2579 1638 2581 1631 2582 1624 2584 1618 2586 1611 2589 1604 2591 1597 2594 1590 2597 1583 2599 1577 2602 1570 2606 1563 2609 1556 2612 1550 2613 1547 2600 1559 2554 1533 2556 1523 2605 1509 2616 1525 2616 1522 2615 1516 2613 1509 2612 1501 2611 1493 2609 1484 2607 1474 2605 1464 2603 1453 2601 1443 2600 1434 2598 1424 2596 1414 2595 1404 2593 1394 2592 1385 2591 1375 2590 1365 2588 1355 2587 1346 2586 1335 2585 1324 2585 1313 2584 1304 2583 1297 2582 1288 2539 1273 2527 1295 2531 1312 2548 1325 2556 1326 2560 1327 2564 1327 2568 1328 2570 1328 2562 1325 2551 1291 2573 1275 2594 1284 2601 1298 2601 1299 2601 1296 2601 1294 2601 1291 2601 1287 2596 1273 2557 1267 2547 1283 2563 1314 2582 1315 2585 1314 2587 1313 2589 1312 2592 1311 2594 1310 2597 1309 2600 1308 2602 1307 2605 1305 2608 1304 2611 1303 2616 1302 2621 1300 2627 1298 2633 1296 2639 1294 2644 1291 2649 1289 2653 1287 2658 1286 2662 1284 2666 1283 2672 1281 2677 1279 2684 1276 2690 1273 2696 1270 2701 1267 2705 1264 2709 1263 2712 1261 2715 1260 2717 1259 2719 1259 2720 1259 2720 1259 2719 1259 2714 1258 2709 1255 2705 1251 2704 1249 2704 1249 2704 1250 2704 1252 2704 1253 2705 1253 2705 1252 2705 1249 2705 1249 2704 1252 2702 1256 2699 1263 2697 1270 2697 1279 2697 1286 2697 1293 2696 1299 2695 1306 2695 1311 2694 1315Z" fill="#e8f8fe"/>
<path d="M2705 1321 2708 1319 2713 1315 2718 1311 2723 1307 2729 1302 2734 1296 2741 1290 2745 1283 2749 1276 2751 1270 2753 1265 2754 1260 2755 1254 2755 1249 2755 1245 2754 1241 2753 1236 2751 1231 2748 1225 2744 1219 2738 1213 2730 1209 2722 1208 2716 1208 2712 1208 2707 1209 2702 1210 2698 1212 2693 1214 2688 1216 2682 1219 2676 1222 2671 1224 2667 1227 2663 1229 2659 1230 2655 1232 2650 1233 2644 1235 2639 1237 2633 1239 2628 1241 2623 1243 2619 1245 2615 1247 2611 1248 2606 1250 2601 1251 2596 1253 2591 1254 2586 1256 2582 1258 2579 1259 2576 1260 2574 1261 2572 1262 2569 1263 2567 1264 2566 1264 2566 1264 2583 1265 2599 1294 2589 1309 2553 1303 2548 1291 2548 1291 2548 1294 2548 1296 2548 1299 2548 1304 2555 1319 2577 1328 2599 1312 2588 1278 2578 1275 2574 1275 2570 1274 2566 1274 2562 1273 2564 1274 2578 1285 2581 1298 2570 1317 2530 1303 2530 1301 2530 1307 2530 1317 2530 1328 2531 1339 2531 1350 2532 1360 2533 1371 2534 1381 2534 1391 2535 1401 2537 1412 2538 1422 2539 1432 2540 1442 2541 1452 2543 1463 2544 1474 2546 1484 2547 1494 2548 1503 2550 1512 2551 1520 2553 1527 2554 1533 2555 1539 2566 1558 2616 1542 2617 1530 2572 1503 2558 1517 2555 1523 2552 1529 2549 1536 2545 1544 2541 1552 2538 1559 2535 1567 2532 1575 2529 1583 2527 1591 2524 1599 2522 1607 2520 1615 2518 1624 2516 1633 2514 1642 2512 1653 2510 1663 2509 1674 2507 1684 2506 1693 2505 1703 2503 1713 2502 1725 2502 1737 2502 1752 2502 1769 2503 1785 2504 1801 2505 1816 2506 1828 2508 1838 2509 1848 2511 1857 2513 1868 2515 1881 2518 1895 2521 1909 2524 1920 2526 1930 2533 1944 2587 1937 2589 1920 2564 1890 2533 1901 2528 1908 2523 1914 2518 1921 2512 1929 2506 1936 2501 1943 2495 1950 2489 1958 2483 1966 2477 1975 2472 1983 2467 1992 2463 2000 2459 2008 2455 2016 2451 2024 2448 2033 2445 2041 2442 2049 2439 2057 2437 2065 2435 2073 2433 2081 2431 2089 2429 2096 2427 2103 2425 2110 2423 2118 2421 2126 2419 2135 2417 2143 2416 2151 2415 2159 2414 2167 2413 2175 2412 2185 2412 2195 2411 2206 2411 2216 2410 2227 2410 2238 2409 2249 2409 2260 2408 2269 2408 2276 2408 2280 2463 2263 2463 2263 2429 2251 2415 2259 2411 2263 2407 2267 2401 2272 2395 2279 2389 2287 2383 2296 2378 2304 2374 2312 2371 2319 2368 2323 2366 2325 2365 2327 2363 2329 2359 2334 2354 2339 2350 2346 2345 2353 2340 2360 2335 2367 2331 2373 2327 2379 2323 2384 2319 2389 2317 2393 2315 2396 2365 2432 2368 2429 2370 2425 2374 2420 2378 2414 2381 2409 2386 2402 2391 2395 2396 2388 2400 2382 2404 2377 2406 2374 2408 2372 2411 2368 2415 2363 2420 2357 2425 2349 2429 2341 2433 2334 2436 2327 2439 2323 2442 2320 2446 2316 2450 2312 2454 2308 2457 2305 2446 2310 2414 2300 2414 2301 2470 2283 2470 2280 2470 2272 2471 2262 2471 2251 2472 2240 2472 2229 2472 2219 2473 2209 2474 2199 2474 2189 2475 2181 2476 2173 2476 2166 2477 2160 2478 2153 2479 2147 2481 2141 2483 2135 2485 2127 2487 2120 2489 2112 2491 2104 2493 2096 2495 2089 2497 2082 2499 2075 2501 2068 2503 2062 2506 2055 2508 2048 2511 2042 2514 2035 2518 2028 2521 2022 2525 2015 2529 2009 2533 2003 2538 1996 2544 1989 2550 1981 2556 1974 2561 1966 2567 1959 2573 1951 2577 1945 2579 1943 2551 1951 2528 1925 2530 1913 2582 1906 2586 1914 2584 1907 2582 1895 2579 1881 2576 1868 2573 1856 2572 1846 2570 1838 2569 1830 2568 1821 2567 1810 2566 1797 2565 1782 2564 1766 2564 1751 2564 1739 2564 1728 2565 1719 2566 1711 2567 1702 2569 1692 2570 1682 2572 1673 2573 1663 2575 1654 2576 1645 2578 1638 2580 1631 2581 1624 2583 1617 2585 1611 2588 1604 2590 1597 2593 1590 2596 1583 2599 1576 2601 1570 2605 1563 2608 1556 2611 1550 2612 1547 2600 1558 2555 1533 2557 1524 2605 1509 2615 1525 2615 1522 2614 1516 2612 1509 2611 1501 2610 1493 2608 1484 2606 1474 2604 1464 2602 1454 2601 1444 2599 1434 2597 1424 2596 1414 2594 1404 2593 1395 2591 1385 2590 1375 2589 1365 2588 1355 2587 1346 2586 1336 2585 1324 2584 1314 2583 1304 2582 1297 2581 1288 2540 1274 2528 1295 2532 1311 2548 1324 2556 1325 2560 1326 2564 1326 2568 1327 2570 1327 2562 1324 2551 1291 2573 1276 2594 1284 2600 1298 2600 1299 2600 1296 2600 1294 2600 1291 2600 1287 2595 1273 2558 1267 2548 1283 2564 1313 2582 1314 2585 1313 2587 1312 2589 1311 2591 1310 2594 1309 2597 1308 2599 1307 2602 1306 2604 1305 2607 1304 2611 1302 2616 1301 2621 1299 2627 1297 2633 1295 2639 1293 2644 1291 2649 1289 2653 1287 2657 1285 2661 1283 2666 1282 2671 1280 2677 1278 2683 1275 2690 1272 2695 1269 2701 1266 2705 1264 2708 1262 2712 1261 2715 1259 2717 1259 2719 1258 2720 1258 2720 1258 2719 1258 2714 1257 2709 1254 2706 1251 2704 1249 2704 1249 2705 1250 2705 1251 2705 1253 2705 1253 2705 1252 2706 1249 2706 1249 2705 1252 2703 1257 2700 1263 2698 1270 2698 1279 2697 1286 2697 1293 2696 1300 2696 1306 2695 1311 2695 1315Z" fill="#7de4f7"/>
<path d="M2705 1321 2708 1318 2712 1315 2717 1311 2722 1306 2728 1301 2733 1296 2740 1290 2744 1283 2747 1276 2750 1269 2751 1265 2753 1260 2754 1254 2754 1249 2753 1246 2752 1241 2751 1236 2749 1231 2747 1226 2743 1220 2737 1215 2730 1211 2722 1209 2717 1209 2712 1210 2708 1211 2703 1212 2698 1214 2693 1215 2688 1217 2683 1220 2677 1223 2672 1226 2667 1228 2663 1230 2659 1232 2655 1233 2650 1235 2645 1237 2639 1239 2634 1241 2629 1243 2624 1245 2620 1247 2616 1248 2611 1250 2606 1251 2601 1253 2596 1254 2591 1256 2587 1258 2583 1259 2580 1260 2577 1261 2575 1262 2572 1263 2570 1264 2568 1265 2566 1266 2567 1266 2582 1266 2597 1294 2588 1308 2554 1303 2550 1291 2550 1291 2550 1294 2550 1296 2549 1299 2550 1304 2556 1318 2577 1326 2598 1312 2587 1280 2578 1277 2574 1276 2570 1276 2565 1275 2561 1275 2563 1275 2576 1286 2579 1298 2569 1316 2532 1303 2531 1301 2531 1307 2532 1316 2532 1327 2533 1339 2533 1350 2534 1360 2535 1370 2535 1381 2536 1391 2537 1401 2538 1412 2540 1422 2541 1432 2542 1442 2543 1452 2545 1463 2546 1473 2548 1484 2549 1494 2550 1503 2552 1511 2553 1519 2555 1527 2556 1533 2557 1539 2568 1556 2614 1542 2615 1530 2573 1504 2559 1518 2557 1524 2554 1530 2550 1537 2547 1545 2543 1553 2540 1560 2537 1568 2534 1576 2531 1584 2528 1592 2526 1600 2524 1608 2522 1616 2520 1624 2518 1633 2516 1643 2514 1653 2512 1663 2511 1674 2509 1684 2508 1694 2507 1703 2505 1713 2504 1725 2504 1738 2504 1752 2504 1768 2505 1785 2506 1801 2507 1815 2508 1827 2509 1838 2511 1848 2513 1857 2515 1867 2517 1880 2520 1894 2523 1908 2526 1920 2528 1929 2534 1943 2585 1936 2587 1920 2564 1892 2535 1902 2530 1909 2525 1915 2519 1922 2513 1930 2508 1937 2503 1944 2497 1952 2491 1959 2485 1968 2479 1976 2474 1984 2469 1993 2464 2001 2460 2009 2457 2017 2453 2025 2450 2033 2447 2041 2444 2049 2441 2057 2439 2066 2437 2074 2435 2082 2433 2089 2431 2097 2429 2104 2427 2111 2425 2119 2423 2127 2421 2135 2419 2143 2418 2151 2417 2159 2416 2167 2415 2175 2414 2185 2414 2195 2413 2206 2413 2216 2412 2227 2412 2238 2411 2249 2411 2260 2410 2270 2410 2276 2410 2280 2462 2264 2462 2264 2430 2253 2417 2260 2413 2264 2408 2268 2403 2274 2397 2280 2390 2288 2385 2297 2380 2305 2376 2313 2372 2320 2370 2324 2368 2327 2366 2328 2364 2331 2360 2335 2356 2341 2351 2347 2346 2354 2341 2361 2336 2368 2332 2374 2328 2380 2325 2385 2321 2390 2318 2394 2316 2397 2364 2431 2366 2428 2369 2423 2372 2419 2376 2413 2380 2408 2384 2401 2389 2394 2394 2387 2398 2381 2402 2375 2405 2372 2407 2370 2410 2367 2414 2362 2418 2356 2423 2348 2427 2340 2431 2333 2435 2326 2438 2322 2440 2318 2444 2314 2449 2310 2453 2306 2455 2304 2446 2309 2415 2299 2416 2300 2468 2283 2468 2280 2468 2272 2469 2262 2469 2251 2470 2240 2470 2229 2470 2219 2471 2209 2472 2199 2472 2189 2473 2181 2474 2173 2474 2166 2475 2159 2476 2153 2477 2147 2479 2141 2481 2134 2483 2127 2485 2119 2487 2111 2489 2104 2491 2096 2493 2088 2495 2081 2497 2075 2499 2068 2501 2061 2504 2054 2506 2048 2509 2041 2513 2034 2516 2028 2519 2021 2523 2014 2527 2008 2532 2001 2537 1995 2542 1987 2548 1980 2554 1973 2560 1965 2566 1957 2571 1950 2576 1944 2577 1942 2552 1949 2530 1925 2531 1913 2580 1907 2584 1915 2582 1907 2580 1895 2577 1882 2574 1868 2571 1857 2570 1847 2568 1838 2567 1830 2566 1821 2565 1811 2564 1797 2563 1782 2562 1766 2562 1751 2562 1738 2562 1728 2563 1719 2564 1710 2565 1702 2567 1692 2568 1682 2570 1672 2571 1663 2573 1653 2574 1645 2576 1637 2578 1630 2580 1623 2581 1617 2584 1610 2586 1603 2588 1596 2591 1589 2594 1582 2597 1575 2600 1569 2603 1562 2606 1555 2609 1549 2611 1546 2599 1557 2557 1532 2559 1524 2604 1511 2613 1525 2613 1522 2612 1516 2610 1509 2609 1501 2608 1493 2606 1484 2604 1475 2602 1464 2600 1454 2599 1444 2597 1434 2595 1424 2594 1414 2592 1404 2591 1395 2589 1385 2588 1375 2587 1365 2586 1356 2585 1346 2584 1336 2583 1324 2582 1314 2581 1304 2581 1297 2579 1289 2541 1275 2530 1295 2533 1310 2549 1323 2556 1324 2560 1324 2565 1325 2569 1325 2570 1325 2563 1323 2553 1292 2573 1278 2593 1285 2598 1298 2599 1299 2598 1296 2598 1294 2598 1291 2598 1287 2594 1274 2559 1269 2549 1284 2564 1312 2581 1312 2584 1311 2586 1310 2588 1310 2591 1309 2593 1308 2596 1306 2599 1305 2601 1304 2604 1303 2607 1302 2611 1301 2615 1299 2621 1298 2626 1296 2632 1294 2638 1291 2643 1289 2648 1287 2652 1285 2657 1283 2661 1282 2666 1280 2671 1278 2676 1276 2683 1274 2689 1271 2695 1268 2700 1265 2704 1262 2708 1261 2711 1259 2714 1258 2717 1257 2719 1256 2720 1256 2720 1256 2719 1256 2715 1255 2710 1253 2707 1250 2706 1248 2706 1248 2706 1250 2707 1251 2707 1252 2707 1253 2707 1252 2707 1250 2707 1250 2706 1253 2704 1257 2702 1264 2699 1271 2699 1279 2698 1287 2698 1293 2697 1300 2696 1306 2695 1311 2695 1315Z" fill="#f4fcff"/>
<path d="M2704 1320 2706 1317 2710 1314 2714 1309 2719 1304 2724 1299 2729 1294 2734 1287 2738 1280 2741 1273 2744 1267 2745 1263 2747 1259 2747 1254 2747 1250 2747 1247 2746 1243 2745 1238 2743 1234 2741 1229 2738 1224 2733 1220 2728 1217 2722 1216 2717 1216 2713 1216 2709 1217 2705 1218 2700 1220 2696 1221 2691 1223 2686 1226 2680 1229 2675 1232 2670 1234 2666 1236 2662 1238 2657 1240 2652 1241 2647 1243 2642 1245 2636 1247 2631 1249 2627 1251 2622 1253 2618 1255 2613 1256 2608 1258 2603 1259 2598 1261 2593 1262 2589 1264 2585 1265 2582 1267 2580 1268 2577 1269 2575 1270 2573 1271 2570 1271 2569 1272 2569 1272 2580 1273 2591 1292 2584 1303 2559 1299 2556 1290 2556 1291 2556 1294 2556 1296 2556 1299 2556 1303 2561 1314 2576 1320 2591 1309 2584 1286 2577 1283 2573 1283 2569 1283 2565 1282 2561 1282 2561 1282 2570 1289 2572 1297 2565 1310 2538 1301 2538 1301 2538 1307 2539 1316 2539 1327 2540 1339 2540 1349 2541 1360 2542 1370 2543 1380 2544 1390 2545 1400 2546 1411 2547 1421 2548 1431 2550 1441 2551 1451 2552 1461 2554 1472 2555 1482 2557 1492 2558 1501 2560 1510 2561 1518 2562 1525 2564 1531 2565 1537 2573 1550 2606 1539 2607 1530 2577 1512 2567 1522 2564 1527 2561 1533 2558 1540 2554 1548 2551 1556 2548 1563 2545 1571 2542 1579 2539 1587 2536 1595 2534 1602 2531 1610 2529 1618 2527 1626 2525 1635 2524 1644 2522 1654 2520 1665 2519 1675 2517 1685 2516 1695 2515 1704 2513 1714 2512 1725 2512 1738 2512 1752 2512 1768 2513 1785 2514 1801 2515 1815 2516 1827 2517 1837 2519 1846 2520 1856 2522 1866 2525 1879 2528 1893 2531 1906 2534 1918 2536 1927 2541 1938 2577 1933 2579 1921 2562 1900 2541 1908 2536 1914 2531 1920 2526 1927 2520 1935 2514 1942 2509 1949 2503 1957 2497 1964 2491 1972 2485 1980 2480 1989 2476 1997 2472 2005 2468 2012 2464 2020 2460 2028 2457 2036 2454 2044 2452 2052 2449 2060 2447 2068 2444 2076 2442 2084 2441 2091 2439 2099 2437 2106 2435 2113 2432 2121 2430 2129 2428 2137 2427 2145 2426 2152 2425 2160 2424 2168 2423 2176 2422 2186 2422 2196 2421 2206 2421 2217 2420 2227 2420 2238 2419 2250 2419 2261 2418 2270 2418 2277 2418 2280 2456 2269 2455 2269 2432 2261 2422 2266 2418 2270 2414 2274 2409 2279 2403 2286 2397 2293 2392 2301 2387 2309 2383 2317 2379 2324 2376 2329 2374 2332 2372 2334 2370 2336 2366 2340 2362 2345 2358 2352 2353 2359 2348 2366 2343 2373 2339 2379 2335 2385 2331 2390 2328 2395 2325 2399 2323 2402 2357 2426 2359 2423 2362 2419 2366 2414 2369 2409 2373 2403 2378 2397 2382 2390 2387 2383 2392 2376 2396 2371 2398 2367 2401 2365 2404 2362 2407 2357 2412 2351 2416 2344 2420 2337 2424 2329 2428 2322 2431 2317 2434 2313 2439 2309 2443 2304 2447 2300 2450 2298 2444 2301 2422 2294 2422 2295 2460 2283 2460 2279 2460 2272 2461 2262 2461 2251 2462 2240 2462 2229 2462 2219 2463 2208 2464 2198 2464 2189 2465 2180 2466 2172 2466 2165 2467 2158 2468 2152 2470 2145 2471 2139 2473 2132 2475 2125 2477 2117 2479 2109 2481 2102 2483 2094 2485 2086 2487 2079 2489 2072 2491 2065 2494 2058 2496 2051 2499 2045 2502 2038 2505 2031 2509 2024 2513 2017 2516 2010 2521 2004 2525 1997 2530 1990 2536 1982 2542 1975 2548 1968 2553 1960 2559 1953 2565 1945 2569 1939 2571 1936 2554 1941 2537 1924 2539 1917 2574 1912 2576 1917 2575 1909 2572 1897 2569 1884 2566 1870 2564 1858 2562 1848 2560 1839 2559 1831 2558 1822 2557 1811 2556 1798 2555 1783 2554 1767 2554 1752 2554 1738 2554 1728 2555 1718 2556 1709 2557 1700 2559 1691 2560 1681 2562 1671 2563 1661 2565 1652 2567 1643 2568 1635 2570 1628 2572 1621 2574 1614 2576 1607 2578 1600 2581 1593 2584 1586 2587 1579 2589 1572 2592 1565 2596 1558 2599 1551 2602 1545 2603 1542 2595 1549 2565 1532 2566 1527 2599 1517 2605 1527 2605 1524 2604 1518 2603 1511 2601 1503 2600 1495 2598 1486 2596 1476 2595 1466 2593 1455 2591 1445 2589 1435 2588 1425 2586 1415 2585 1405 2583 1396 2582 1386 2581 1376 2580 1366 2579 1356 2578 1347 2577 1336 2576 1325 2575 1314 2574 1305 2574 1297 2573 1291 2545 1281 2537 1296 2539 1307 2551 1316 2557 1317 2561 1317 2565 1318 2569 1318 2571 1319 2567 1317 2559 1294 2573 1284 2587 1290 2592 1299 2592 1299 2592 1296 2592 1294 2592 1291 2592 1288 2588 1278 2563 1274 2556 1285 2567 1305 2579 1306 2582 1305 2584 1304 2586 1303 2588 1302 2591 1301 2593 1300 2596 1299 2599 1298 2602 1297 2605 1296 2609 1294 2613 1293 2619 1291 2624 1289 2630 1287 2635 1285 2640 1283 2645 1281 2650 1279 2654 1277 2659 1276 2663 1274 2669 1272 2674 1270 2680 1268 2686 1265 2692 1262 2697 1259 2701 1256 2705 1255 2709 1253 2712 1252 2715 1251 2717 1250 2719 1250 2720 1250 2719 1250 2717 1249 2714 1248 2712 1246 2711 1245 2712 1246 2712 1248 2713 1250 2713 1251 2713 1253 2713 1252 2714 1251 2713 1252 2712 1255 2710 1260 2708 1266 2705 1274 2704 1282 2702 1289 2701 1295 2700 1301 2698 1307 2697 1312 2696 1316Z" fill="#e6f8fe"/>
<path d="M2703 1320 2706 1317 2710 1314 2714 1309 2719 1304 2723 1299 2728 1293 2733 1287 2737 1280 2741 1273 2743 1267 2745 1262 2746 1258 2746 1254 2746 1250 2746 1247 2745 1243 2744 1238 2743 1234 2741 1229 2737 1225 2733 1221 2727 1218 2722 1216 2717 1217 2713 1217 2709 1218 2705 1219 2701 1220 2696 1222 2691 1224 2686 1227 2681 1230 2676 1232 2671 1235 2666 1237 2662 1239 2658 1240 2653 1242 2647 1244 2642 1246 2637 1248 2632 1250 2627 1252 2623 1254 2618 1255 2614 1257 2609 1259 2603 1260 2598 1262 2594 1263 2589 1265 2586 1266 2583 1267 2580 1268 2578 1269 2575 1270 2573 1271 2571 1272 2569 1273 2569 1273 2580 1273 2590 1292 2584 1302 2560 1298 2557 1290 2557 1291 2557 1294 2557 1296 2557 1299 2557 1303 2562 1313 2576 1319 2591 1309 2583 1287 2577 1284 2573 1284 2569 1283 2565 1283 2561 1282 2561 1283 2570 1290 2572 1297 2565 1309 2539 1301 2539 1300 2539 1307 2540 1316 2540 1327 2541 1339 2541 1349 2542 1360 2543 1370 2544 1380 2545 1390 2546 1400 2547 1410 2548 1421 2549 1431 2551 1441 2552 1451 2553 1461 2555 1472 2556 1482 2558 1492 2559 1501 2561 1510 2562 1518 2563 1525 2565 1531 2566 1537 2573 1549 2605 1539 2606 1531 2577 1513 2567 1523 2565 1528 2562 1534 2559 1541 2555 1549 2552 1556 2549 1564 2546 1571 2543 1579 2540 1587 2537 1595 2535 1603 2532 1610 2530 1618 2528 1626 2526 1635 2525 1644 2523 1654 2521 1665 2520 1675 2518 1685 2517 1695 2516 1704 2514 1714 2513 1725 2513 1738 2513 1752 2513 1768 2514 1785 2515 1801 2516 1815 2517 1826 2518 1837 2520 1846 2521 1855 2523 1866 2526 1878 2529 1892 2532 1906 2535 1918 2537 1927 2541 1938 2577 1933 2578 1921 2562 1901 2541 1908 2537 1914 2532 1921 2526 1928 2521 1936 2515 1943 2510 1950 2504 1957 2498 1965 2492 1973 2486 1981 2481 1989 2477 1997 2472 2005 2468 2013 2465 2021 2461 2029 2458 2037 2455 2044 2452 2052 2450 2060 2447 2068 2445 2076 2443 2084 2442 2092 2440 2099 2438 2106 2436 2113 2433 2121 2431 2129 2429 2137 2428 2145 2427 2152 2426 2160 2425 2168 2424 2176 2423 2186 2423 2196 2422 2206 2422 2217 2421 2227 2421 2238 2420 2250 2420 2261 2419 2270 2419 2277 2419 2280 2455 2270 2455 2269 2432 2262 2423 2267 2419 2271 2415 2275 2409 2280 2403 2286 2398 2293 2393 2301 2388 2309 2384 2317 2380 2324 2377 2329 2375 2332 2373 2334 2371 2337 2367 2341 2363 2346 2359 2352 2354 2359 2349 2366 2344 2373 2340 2380 2336 2385 2332 2391 2328 2396 2326 2400 2324 2403 2356 2425 2358 2422 2361 2418 2365 2413 2369 2408 2372 2402 2377 2396 2382 2389 2386 2382 2391 2375 2395 2370 2398 2367 2400 2364 2403 2361 2407 2357 2411 2351 2415 2344 2419 2336 2423 2329 2427 2322 2430 2317 2434 2312 2438 2308 2442 2304 2447 2300 2449 2297 2443 2300 2423 2293 2423 2294 2459 2283 2459 2279 2459 2272 2460 2262 2460 2251 2461 2239 2461 2229 2461 2219 2462 2208 2463 2198 2463 2189 2464 2180 2465 2172 2465 2165 2466 2158 2467 2152 2469 2145 2470 2138 2472 2132 2474 2124 2476 2117 2478 2109 2480 2101 2482 2094 2484 2086 2486 2079 2488 2072 2490 2065 2493 2058 2495 2051 2498 2044 2501 2037 2504 2030 2508 2023 2512 2017 2516 2010 2520 2003 2524 1996 2530 1989 2535 1982 2541 1974 2547 1967 2553 1960 2558 1952 2564 1945 2569 1939 2571 1936 2554 1940 2538 1924 2540 1917 2573 1913 2575 1917 2574 1909 2571 1897 2568 1884 2565 1870 2563 1858 2561 1848 2559 1840 2558 1831 2557 1822 2556 1811 2555 1798 2554 1783 2553 1767 2553 1752 2553 1738 2553 1728 2554 1718 2555 1709 2556 1700 2558 1691 2559 1681 2561 1671 2562 1661 2564 1652 2566 1643 2567 1635 2569 1628 2571 1621 2573 1614 2575 1607 2577 1600 2580 1593 2583 1586 2586 1579 2588 1572 2591 1565 2595 1558 2598 1551 2601 1545 2603 1541 2595 1548 2566 1532 2567 1527 2598 1518 2604 1527 2604 1524 2603 1518 2602 1511 2600 1503 2599 1495 2597 1486 2595 1476 2594 1466 2592 1455 2590 1445 2588 1435 2587 1425 2585 1415 2584 1406 2582 1396 2581 1386 2580 1376 2579 1366 2578 1356 2577 1347 2576 1336 2575 1325 2574 1314 2574 1305 2573 1298 2572 1291 2545 1281 2538 1296 2540 1307 2551 1315 2557 1316 2561 1317 2565 1317 2569 1318 2571 1318 2567 1316 2560 1295 2574 1285 2587 1290 2591 1299 2591 1299 2591 1296 2591 1294 2591 1291 2591 1288 2588 1278 2563 1275 2557 1285 2567 1305 2579 1305 2582 1304 2583 1303 2585 1303 2588 1302 2590 1301 2593 1299 2596 1298 2598 1297 2601 1296 2604 1295 2608 1293 2613 1292 2619 1290 2624 1289 2630 1287 2635 1285 2640 1282 2645 1280 2650 1278 2654 1276 2658 1275 2663 1273 2668 1271 2674 1269 2680 1267 2686 1264 2691 1261 2696 1258 2701 1256 2705 1254 2708 1252 2712 1251 2715 1250 2717 1249 2719 1249 2720 1249 2719 1249 2717 1248 2714 1247 2713 1245 2712 1245 2713 1246 2713 1248 2714 1250 2714 1251 2714 1253 2714 1252 2714 1251 2714 1252 2713 1255 2711 1260 2708 1267 2706 1274 2704 1282 2703 1289 2702 1295 2700 1302 2699 1308 2697 1312 2697 1316Z" fill="#5fdff6"/>
<path d="M2703 1320 2706 1317 2709 1313 2713 1309 2718 1304 2722 1299 2727 1293 2732 1286 2736 1279 2739 1272 2742 1266 2743 1262 2745 1258 2745 1254 2745 1250 2745 1247 2744 1243 2743 1239 2742 1234 2740 1230 2737 1225 2732 1221 2727 1219 2721 1218 2717 1218 2714 1218 2710 1219 2705 1220 2701 1222 2697 1223 2692 1225 2687 1228 2681 1231 2676 1233 2671 1236 2667 1238 2663 1240 2658 1241 2653 1243 2648 1245 2643 1247 2637 1249 2632 1251 2628 1253 2623 1255 2619 1257 2614 1258 2609 1260 2604 1261 2599 1263 2594 1264 2590 1266 2586 1267 2583 1269 2581 1270 2578 1271 2576 1272 2573 1272 2571 1273 2569 1274 2570 1274 2579 1275 2589 1292 2583 1301 2561 1297 2558 1290 2558 1291 2558 1294 2558 1296 2558 1299 2558 1303 2563 1312 2576 1318 2590 1308 2583 1288 2576 1286 2573 1285 2569 1285 2565 1284 2560 1284 2561 1284 2568 1290 2570 1297 2564 1308 2540 1300 2540 1300 2540 1307 2541 1316 2541 1327 2542 1338 2543 1349 2543 1359 2544 1370 2545 1380 2546 1390 2547 1400 2548 1410 2549 1420 2551 1431 2552 1441 2553 1451 2555 1461 2556 1472 2558 1482 2559 1492 2561 1501 2562 1510 2564 1518 2565 1525 2566 1531 2567 1536 2574 1548 2604 1539 2605 1531 2578 1514 2569 1523 2566 1528 2563 1534 2560 1541 2556 1549 2553 1557 2550 1564 2547 1572 2544 1579 2541 1587 2538 1595 2536 1603 2534 1611 2532 1618 2530 1627 2528 1635 2526 1645 2524 1655 2523 1665 2521 1675 2520 1685 2518 1695 2517 1704 2516 1714 2515 1725 2515 1738 2515 1752 2515 1768 2516 1785 2517 1800 2518 1814 2519 1826 2520 1836 2521 1846 2523 1855 2525 1865 2527 1878 2530 1892 2533 1906 2536 1918 2538 1927 2543 1937 2575 1932 2577 1921 2562 1903 2542 1909 2538 1915 2533 1921 2528 1929 2522 1936 2516 1944 2511 1951 2505 1958 2499 1966 2493 1974 2488 1982 2483 1990 2478 1998 2474 2006 2470 2014 2466 2021 2463 2029 2460 2037 2457 2045 2454 2053 2451 2060 2449 2069 2447 2077 2445 2084 2443 2092 2441 2099 2439 2106 2437 2114 2435 2121 2433 2129 2431 2137 2429 2145 2428 2153 2427 2160 2426 2168 2426 2176 2425 2186 2424 2196 2424 2206 2423 2217 2423 2227 2422 2238 2422 2250 2421 2261 2421 2270 2421 2277 2420 2280 2454 2271 2453 2270 2433 2263 2424 2268 2420 2272 2416 2276 2410 2281 2405 2287 2399 2294 2394 2302 2389 2310 2385 2318 2382 2325 2378 2330 2376 2333 2374 2335 2372 2338 2368 2342 2364 2347 2360 2353 2355 2360 2350 2367 2345 2374 2341 2380 2337 2386 2333 2391 2330 2396 2327 2400 2325 2403 2355 2425 2357 2422 2360 2417 2364 2413 2367 2407 2371 2402 2376 2395 2380 2388 2385 2381 2390 2375 2394 2369 2397 2366 2399 2363 2402 2360 2405 2356 2410 2350 2414 2343 2418 2335 2422 2328 2426 2321 2429 2316 2433 2311 2437 2307 2441 2303 2446 2299 2448 2296 2443 2298 2424 2292 2424 2293 2457 2282 2457 2279 2458 2272 2458 2262 2459 2251 2459 2239 2459 2229 2460 2219 2461 2208 2461 2198 2462 2189 2462 2180 2463 2172 2464 2164 2465 2158 2466 2151 2467 2145 2469 2138 2470 2131 2473 2124 2475 2117 2477 2109 2479 2101 2481 2093 2483 2086 2485 2079 2487 2072 2489 2064 2491 2057 2494 2050 2497 2044 2500 2037 2503 2030 2507 2023 2510 2016 2514 2009 2518 2002 2523 1995 2528 1988 2534 1981 2540 1974 2546 1966 2551 1959 2557 1951 2563 1944 2567 1938 2570 1935 2554 1939 2540 1924 2541 1918 2572 1914 2574 1917 2572 1910 2569 1898 2566 1884 2564 1871 2561 1859 2559 1849 2558 1840 2557 1831 2555 1822 2554 1812 2553 1798 2553 1783 2552 1767 2552 1752 2551 1738 2552 1727 2553 1718 2554 1709 2555 1700 2556 1691 2558 1681 2559 1671 2561 1661 2562 1651 2564 1643 2566 1635 2568 1627 2569 1621 2571 1614 2574 1607 2576 1600 2579 1592 2581 1585 2584 1578 2587 1571 2590 1564 2593 1557 2597 1550 2600 1544 2601 1541 2594 1547 2568 1532 2569 1527 2597 1519 2603 1528 2602 1524 2601 1518 2600 1511 2599 1503 2597 1495 2596 1486 2594 1476 2592 1466 2590 1456 2589 1445 2587 1435 2585 1425 2584 1416 2582 1406 2581 1396 2580 1386 2579 1376 2577 1366 2576 1356 2575 1347 2575 1336 2574 1325 2573 1314 2572 1305 2572 1298 2571 1291 2546 1282 2539 1296 2541 1306 2551 1314 2557 1315 2561 1315 2566 1316 2570 1316 2572 1316 2568 1315 2561 1295 2574 1286 2586 1291 2590 1299 2590 1299 2590 1296 2590 1294 2590 1291 2590 1288 2587 1279 2564 1276 2558 1285 2568 1304 2578 1304 2581 1303 2583 1302 2585 1301 2587 1300 2590 1299 2593 1298 2595 1297 2598 1296 2601 1295 2604 1294 2608 1292 2613 1291 2618 1289 2624 1287 2629 1285 2635 1283 2640 1281 2644 1279 2649 1277 2653 1275 2658 1274 2663 1272 2668 1270 2673 1268 2679 1266 2685 1263 2691 1260 2696 1257 2700 1255 2704 1253 2708 1251 2711 1250 2714 1249 2717 1248 2718 1248 2720 1248 2719 1248 2717 1247 2715 1246 2713 1245 2713 1244 2714 1245 2714 1247 2715 1249 2715 1251 2715 1252 2715 1252 2716 1251 2715 1253 2714 1256 2712 1261 2709 1267 2707 1274 2705 1282 2704 1289 2702 1296 2701 1302 2699 1308 2698 1313 2697 1316Z" fill="#ffffff"/>
<path d="M2702 1319 2705 1317 2708 1313 2712 1308 2716 1303 2720 1297 2724 1291 2729 1285 2733 1278 2736 1271 2738 1265 2740 1261 2741 1257 2741 1253 2741 1250 2741 1247 2740 1244 2739 1240 2738 1236 2736 1232 2733 1228 2730 1225 2726 1223 2721 1222 2718 1222 2714 1222 2711 1223 2707 1224 2702 1225 2698 1227 2693 1229 2688 1231 2683 1234 2678 1237 2673 1240 2669 1242 2664 1244 2659 1245 2654 1247 2649 1249 2644 1251 2639 1253 2634 1255 2629 1257 2625 1259 2620 1260 2615 1262 2610 1264 2605 1265 2600 1267 2595 1268 2591 1270 2588 1271 2585 1272 2582 1274 2580 1274 2577 1275 2575 1276 2573 1277 2571 1278 2571 1278 2578 1279 2584 1291 2580 1297 2565 1295 2563 1290 2563 1291 2563 1294 2563 1296 2563 1299 2563 1302 2566 1309 2576 1313 2586 1306 2581 1291 2576 1290 2573 1289 2568 1289 2564 1288 2560 1288 2559 1288 2565 1292 2566 1297 2562 1305 2544 1299 2544 1300 2545 1306 2545 1316 2546 1327 2546 1338 2547 1349 2548 1359 2549 1369 2550 1379 2550 1389 2552 1400 2553 1410 2554 1420 2555 1430 2557 1440 2558 1450 2560 1460 2561 1471 2563 1481 2564 1491 2566 1500 2567 1509 2569 1517 2570 1524 2571 1530 2572 1535 2577 1544 2599 1537 2600 1531 2580 1518 2573 1526 2571 1530 2568 1536 2564 1544 2561 1551 2558 1559 2555 1566 2552 1573 2549 1581 2546 1589 2543 1597 2541 1604 2539 1612 2537 1620 2535 1628 2533 1636 2531 1646 2529 1656 2528 1666 2526 1676 2525 1686 2523 1696 2522 1705 2521 1715 2520 1726 2520 1738 2520 1752 2520 1768 2521 1784 2522 1800 2523 1814 2524 1826 2525 1836 2526 1845 2528 1854 2530 1865 2532 1877 2535 1891 2538 1905 2541 1917 2543 1925 2547 1934 2571 1930 2572 1921 2561 1908 2546 1913 2542 1918 2537 1924 2532 1932 2526 1939 2520 1947 2515 1954 2509 1961 2503 1969 2497 1977 2492 1985 2487 1992 2482 2000 2478 2008 2474 2016 2471 2023 2467 2031 2464 2039 2461 2047 2459 2054 2456 2062 2454 2070 2452 2078 2450 2086 2448 2093 2446 2101 2444 2108 2442 2115 2440 2123 2438 2130 2436 2138 2434 2146 2433 2153 2432 2161 2431 2168 2431 2177 2430 2186 2429 2196 2429 2207 2428 2217 2428 2227 2427 2238 2427 2250 2426 2261 2426 2270 2426 2277 2425 2281 2450 2274 2449 2273 2434 2268 2427 2272 2423 2275 2419 2280 2414 2285 2408 2290 2403 2297 2398 2305 2394 2312 2390 2320 2386 2327 2383 2333 2380 2336 2378 2339 2375 2341 2372 2345 2368 2350 2364 2356 2359 2363 2354 2370 2349 2377 2345 2383 2341 2389 2337 2394 2334 2399 2331 2403 2329 2406 2351 2422 2353 2419 2356 2415 2359 2410 2363 2404 2367 2399 2371 2392 2376 2385 2381 2378 2386 2372 2390 2366 2393 2362 2395 2360 2398 2357 2401 2353 2405 2347 2409 2341 2413 2333 2417 2325 2421 2318 2425 2313 2429 2308 2433 2303 2438 2299 2442 2295 2445 2292 2442 2294 2428 2289 2428 2290 2452 2282 2452 2279 2453 2272 2453 2262 2454 2251 2454 2239 2454 2229 2455 2218 2456 2208 2456 2198 2457 2188 2457 2179 2458 2171 2459 2164 2460 2157 2461 2150 2462 2144 2464 2137 2466 2130 2468 2123 2470 2115 2472 2107 2474 2100 2476 2092 2478 2085 2480 2077 2482 2070 2484 2063 2487 2056 2489 2049 2492 2042 2495 2035 2499 2027 2502 2020 2506 2013 2510 2006 2514 1999 2519 1992 2524 1985 2530 1978 2536 1970 2542 1963 2547 1956 2553 1948 2559 1941 2563 1935 2566 1931 2555 1934 2545 1924 2546 1919 2568 1917 2569 1919 2567 1911 2565 1899 2562 1885 2559 1872 2556 1859 2554 1850 2553 1841 2552 1832 2550 1823 2549 1812 2548 1798 2548 1783 2547 1767 2547 1752 2546 1738 2547 1727 2548 1717 2549 1708 2550 1699 2551 1690 2553 1680 2554 1670 2556 1660 2557 1651 2559 1642 2561 1634 2563 1626 2565 1619 2567 1612 2569 1605 2571 1598 2574 1591 2577 1583 2580 1576 2582 1569 2585 1562 2589 1555 2592 1548 2595 1542 2597 1538 2592 1543 2573 1532 2573 1529 2594 1523 2598 1529 2598 1525 2596 1519 2595 1512 2594 1504 2592 1496 2591 1487 2589 1477 2587 1467 2586 1456 2584 1446 2582 1436 2581 1426 2579 1416 2578 1406 2576 1396 2575 1387 2574 1377 2573 1367 2572 1357 2571 1347 2570 1337 2569 1325 2569 1314 2568 1305 2568 1298 2567 1293 2548 1286 2543 1296 2545 1304 2553 1310 2557 1311 2562 1311 2566 1312 2570 1312 2572 1312 2570 1311 2565 1297 2574 1291 2583 1294 2585 1300 2585 1299 2585 1296 2585 1294 2585 1291 2585 1288 2583 1282 2567 1279 2562 1286 2569 1300 2577 1300 2580 1299 2581 1298 2583 1297 2586 1297 2588 1296 2591 1294 2594 1293 2596 1292 2599 1291 2603 1290 2607 1288 2612 1287 2617 1285 2622 1283 2628 1282 2633 1280 2638 1277 2643 1275 2647 1273 2652 1271 2657 1270 2661 1268 2667 1266 2672 1264 2677 1262 2683 1259 2689 1256 2694 1254 2698 1251 2703 1249 2706 1247 2710 1246 2713 1245 2716 1244 2718 1244 2719 1244 2720 1244 2719 1243 2717 1243 2717 1242 2717 1242 2717 1244 2718 1246 2719 1248 2719 1251 2719 1252 2719 1252 2719 1252 2719 1254 2718 1257 2716 1262 2713 1269 2710 1276 2708 1284 2706 1291 2704 1297 2702 1303 2700 1308 2699 1313 2698 1317Z" fill="#ffffff"/>
<path d="M2702 1319 2705 1316 2708 1313 2711 1308 2716 1303 2720 1297 2724 1291 2728 1285 2732 1277 2735 1270 2738 1265 2739 1261 2740 1257 2741 1253 2741 1250 2740 1247 2740 1244 2739 1240 2737 1236 2736 1232 2733 1228 2730 1225 2725 1223 2721 1222 2718 1222 2714 1223 2711 1223 2707 1224 2703 1226 2698 1227 2694 1229 2689 1232 2683 1235 2678 1237 2673 1240 2669 1242 2664 1244 2659 1246 2655 1247 2649 1249 2644 1251 2639 1253 2634 1255 2629 1257 2625 1259 2620 1261 2616 1262 2610 1264 2605 1266 2600 1267 2595 1269 2591 1270 2588 1272 2585 1273 2582 1274 2580 1275 2577 1276 2575 1277 2573 1278 2571 1278 2571 1279 2577 1279 2584 1291 2580 1297 2565 1295 2563 1290 2563 1291 2563 1294 2563 1296 2563 1299 2563 1302 2566 1309 2576 1313 2585 1306 2580 1292 2576 1290 2572 1290 2568 1289 2564 1289 2560 1288 2559 1288 2564 1293 2566 1297 2561 1304 2545 1299 2545 1300 2545 1306 2546 1316 2546 1327 2547 1338 2547 1349 2548 1359 2549 1369 2550 1379 2551 1389 2552 1399 2553 1410 2554 1420 2556 1430 2557 1440 2559 1450 2560 1460 2562 1471 2563 1481 2565 1491 2566 1500 2568 1509 2569 1517 2570 1524 2571 1530 2572 1535 2578 1544 2599 1537 2599 1531 2580 1519 2574 1526 2571 1531 2568 1537 2565 1544 2561 1551 2558 1559 2555 1566 2552 1574 2549 1581 2546 1589 2544 1597 2541 1605 2539 1612 2537 1620 2535 1628 2533 1636 2531 1646 2530 1656 2528 1666 2527 1676 2525 1686 2524 1696 2523 1705 2521 1715 2520 1726 2520 1738 2520 1752 2520 1768 2521 1784 2522 1800 2523 1814 2524 1826 2525 1836 2527 1845 2528 1854 2530 1864 2533 1877 2536 1891 2539 1905 2541 1917 2543 1925 2547 1933 2570 1930 2571 1921 2560 1908 2546 1913 2542 1919 2538 1925 2532 1932 2526 1940 2521 1947 2515 1954 2509 1961 2503 1969 2498 1977 2492 1985 2487 1993 2483 2000 2479 2008 2475 2016 2471 2024 2468 2031 2465 2039 2462 2047 2459 2054 2457 2062 2454 2070 2452 2078 2450 2086 2448 2093 2446 2101 2444 2108 2442 2115 2440 2123 2438 2131 2436 2138 2435 2146 2434 2153 2433 2161 2432 2168 2431 2177 2430 2186 2430 2196 2429 2207 2429 2217 2428 2227 2428 2238 2427 2250 2427 2261 2426 2270 2426 2277 2426 2281 2449 2274 2449 2273 2434 2268 2427 2272 2424 2276 2419 2280 2414 2285 2409 2291 2403 2297 2399 2305 2394 2313 2390 2321 2386 2328 2383 2333 2381 2336 2378 2339 2376 2342 2373 2345 2369 2350 2364 2356 2359 2363 2354 2370 2350 2377 2345 2384 2341 2389 2338 2395 2334 2400 2331 2404 2329 2407 2351 2421 2353 2418 2356 2414 2359 2409 2363 2404 2367 2398 2371 2392 2376 2385 2381 2378 2385 2371 2389 2366 2392 2362 2395 2359 2398 2356 2401 2352 2405 2347 2409 2340 2413 2333 2417 2325 2421 2318 2425 2313 2428 2308 2433 2303 2437 2299 2442 2295 2445 2292 2441 2293 2428 2289 2428 2290 2452 2282 2452 2279 2452 2272 2453 2262 2453 2251 2454 2239 2454 2229 2454 2218 2455 2208 2456 2198 2456 2188 2457 2179 2458 2171 2459 2164 2459 2157 2460 2150 2462 2144 2463 2137 2465 2130 2467 2122 2469 2115 2472 2107 2474 2100 2475 2092 2477 2084 2479 2077 2481 2070 2484 2063 2486 2056 2489 2048 2492 2041 2495 2034 2498 2027 2502 2020 2506 2013 2510 2006 2514 1999 2519 1992 2524 1985 2530 1978 2536 1970 2541 1963 2547 1955 2553 1948 2558 1940 2563 1934 2566 1931 2555 1934 2545 1924 2546 1920 2567 1917 2569 1919 2567 1911 2564 1899 2561 1885 2558 1872 2556 1860 2554 1850 2552 1841 2551 1832 2550 1823 2549 1812 2548 1798 2547 1783 2546 1767 2546 1752 2546 1738 2546 1727 2547 1717 2548 1708 2550 1699 2551 1690 2552 1680 2554 1670 2555 1660 2557 1650 2559 1642 2560 1634 2562 1626 2564 1619 2566 1612 2568 1605 2571 1598 2573 1590 2576 1583 2579 1576 2582 1569 2585 1562 2588 1555 2592 1548 2595 1542 2596 1538 2592 1542 2573 1532 2574 1529 2594 1523 2598 1529 2597 1525 2596 1519 2595 1512 2593 1504 2592 1496 2590 1487 2589 1477 2587 1467 2585 1456 2583 1446 2582 1436 2580 1426 2579 1416 2577 1406 2576 1397 2575 1387 2574 1377 2572 1367 2571 1357 2571 1347 2570 1337 2569 1325 2568 1314 2568 1305 2567 1298 2566 1293 2549 1286 2543 1296 2545 1304 2553 1310 2558 1310 2562 1311 2566 1311 2570 1312 2572 1312 2570 1311 2565 1297 2574 1291 2582 1294 2585 1300 2585 1299 2585 1296 2585 1294 2585 1291 2585 1288 2583 1282 2567 1280 2563 1286 2569 1299 2577 1299 2579 1299 2581 1298 2583 1297 2586 1296 2588 1295 2591 1294 2593 1293 2596 1292 2599 1291 2603 1289 2607 1288 2611 1286 2617 1285 2622 1283 2628 1281 2633 1279 2638 1277 2643 1275 2647 1273 2652 1271 2656 1269 2661 1268 2666 1266 2672 1264 2677 1262 2683 1259 2688 1256 2694 1253 2698 1251 2702 1249 2706 1247 2710 1246 2713 1245 2716 1244 2718 1243 2719 1243 2720 1243 2719 1243 2717 1242 2717 1242 2717 1242 2718 1244 2719 1246 2719 1248 2720 1251 2720 1252 2720 1252 2720 1252 2719 1254 2718 1257 2716 1262 2713 1269 2711 1276 2708 1284 2706 1291 2705 1297 2703 1303 2701 1309 2699 1313 2698 1317Z" fill="#44dbf5"/>
<path d="M2702 1319 2704 1316 2707 1312 2711 1308 2715 1302 2719 1297 2723 1291 2727 1284 2731 1277 2734 1270 2737 1264 2738 1260 2739 1257 2740 1253 2739 1250 2739 1248 2739 1244 2738 1240 2736 1236 2735 1233 2732 1229 2729 1226 2725 1224 2721 1223 2718 1223 2714 1224 2711 1224 2707 1226 2703 1227 2699 1229 2694 1230 2689 1233 2684 1236 2679 1238 2674 1241 2669 1243 2665 1245 2660 1247 2655 1249 2650 1250 2645 1252 2639 1254 2635 1256 2630 1258 2625 1260 2621 1262 2616 1264 2611 1265 2606 1267 2600 1268 2596 1270 2592 1271 2588 1273 2585 1274 2583 1275 2580 1276 2578 1277 2576 1278 2573 1279 2572 1279 2571 1280 2577 1280 2583 1291 2579 1296 2566 1294 2564 1290 2564 1291 2564 1294 2564 1296 2564 1299 2564 1302 2567 1308 2576 1312 2584 1306 2580 1293 2576 1291 2572 1291 2568 1291 2564 1290 2560 1290 2559 1290 2563 1293 2564 1297 2561 1303 2546 1299 2546 1300 2546 1306 2547 1316 2547 1327 2548 1338 2549 1349 2550 1359 2550 1369 2551 1379 2552 1389 2553 1399 2555 1409 2556 1419 2557 1430 2559 1440 2560 1450 2562 1460 2563 1471 2565 1481 2566 1491 2568 1500 2569 1508 2571 1516 2572 1524 2573 1530 2574 1535 2578 1543 2597 1536 2598 1531 2581 1520 2575 1527 2573 1531 2570 1537 2566 1544 2563 1552 2559 1559 2556 1567 2553 1574 2550 1582 2548 1590 2545 1597 2543 1605 2541 1613 2539 1620 2537 1628 2535 1637 2533 1646 2531 1656 2530 1666 2528 1676 2527 1686 2525 1696 2524 1705 2523 1715 2522 1726 2522 1738 2522 1752 2522 1768 2523 1784 2524 1800 2525 1814 2526 1826 2527 1835 2528 1845 2530 1854 2532 1864 2534 1877 2537 1891 2540 1904 2543 1916 2545 1925 2548 1932 2569 1929 2570 1922 2560 1910 2548 1914 2543 1919 2539 1926 2533 1933 2527 1941 2522 1948 2516 1955 2511 1962 2505 1970 2499 1978 2493 1986 2489 1993 2484 2001 2480 2009 2476 2017 2473 2024 2469 2032 2466 2040 2463 2047 2461 2055 2458 2063 2456 2070 2454 2078 2452 2086 2450 2094 2448 2101 2446 2108 2444 2116 2442 2123 2440 2131 2438 2139 2436 2146 2435 2154 2434 2161 2433 2169 2433 2177 2432 2186 2431 2196 2431 2207 2430 2217 2430 2227 2429 2238 2429 2250 2428 2261 2428 2270 2428 2277 2427 2281 2448 2275 2448 2274 2435 2270 2428 2273 2425 2277 2421 2281 2415 2286 2410 2292 2405 2298 2400 2306 2396 2313 2391 2321 2388 2328 2384 2334 2382 2337 2379 2340 2377 2343 2374 2346 2370 2351 2365 2357 2361 2364 2356 2371 2351 2378 2347 2384 2343 2390 2339 2395 2335 2400 2333 2404 2331 2407 2349 2421 2352 2418 2354 2414 2358 2409 2362 2403 2365 2398 2370 2391 2375 2384 2379 2377 2384 2370 2388 2365 2391 2361 2394 2358 2397 2355 2400 2351 2404 2346 2408 2340 2412 2332 2416 2324 2420 2317 2423 2312 2427 2307 2432 2302 2436 2298 2441 2293 2444 2291 2441 2292 2429 2288 2430 2289 2450 2282 2450 2279 2451 2272 2451 2262 2452 2251 2452 2239 2452 2229 2453 2218 2454 2208 2454 2198 2455 2188 2455 2179 2456 2171 2457 2164 2458 2157 2459 2150 2460 2143 2462 2136 2464 2129 2466 2122 2468 2115 2470 2107 2472 2099 2474 2092 2476 2084 2478 2077 2480 2069 2482 2062 2485 2055 2487 2048 2490 2041 2493 2034 2497 2027 2500 2019 2504 2012 2508 2005 2513 1998 2517 1991 2523 1984 2529 1977 2535 1969 2540 1962 2546 1955 2552 1947 2557 1940 2562 1933 2564 1930 2555 1932 2547 1923 2548 1920 2566 1918 2567 1919 2565 1911 2563 1899 2560 1886 2557 1872 2554 1860 2552 1850 2551 1841 2550 1832 2548 1823 2547 1812 2546 1799 2546 1783 2545 1767 2545 1752 2544 1738 2545 1727 2546 1717 2547 1708 2548 1699 2549 1690 2551 1680 2552 1670 2554 1660 2556 1650 2557 1641 2559 1633 2561 1626 2563 1619 2565 1612 2567 1605 2569 1597 2572 1590 2575 1583 2578 1575 2581 1569 2584 1562 2587 1554 2590 1547 2593 1541 2595 1537 2591 1541 2575 1532 2575 1529 2593 1525 2596 1529 2596 1526 2594 1520 2593 1512 2592 1504 2590 1496 2589 1487 2587 1477 2585 1467 2584 1457 2582 1446 2580 1436 2579 1426 2577 1417 2576 1407 2575 1397 2573 1387 2572 1377 2571 1367 2570 1357 2569 1347 2568 1337 2568 1325 2567 1314 2566 1305 2566 1298 2565 1293 2549 1287 2545 1296 2546 1303 2553 1308 2558 1309 2562 1309 2566 1310 2570 1310 2572 1311 2570 1310 2566 1298 2574 1292 2582 1295 2584 1300 2584 1299 2584 1296 2584 1294 2584 1291 2584 1288 2582 1283 2568 1281 2564 1287 2570 1298 2577 1298 2579 1297 2581 1297 2583 1296 2585 1295 2588 1294 2590 1293 2593 1292 2596 1291 2599 1289 2602 1288 2606 1287 2611 1285 2616 1284 2622 1282 2627 1280 2632 1278 2637 1276 2642 1274 2647 1272 2651 1270 2656 1268 2661 1267 2666 1265 2671 1263 2677 1261 2682 1258 2688 1255 2693 1252 2698 1250 2702 1248 2706 1246 2709 1245 2713 1243 2715 1243 2718 1242 2719 1242 2720 1242 2719 1242 2718 1241 2718 1241 2718 1242 2719 1243 2720 1246 2720 1248 2721 1250 2721 1252 2721 1252 2721 1253 2721 1254 2719 1258 2717 1263 2714 1269 2712 1277 2709 1284 2707 1291 2705 1297 2703 1303 2701 1309 2699 1313 2698 1317Z" fill="#ffffff"/>
<path d="M2700.0 1318.0 C2702.2 1314.0 2708.3 1303.5 2713.0 1294.0 C2717.7 1284.5 2725.2 1268.5 2728.0 1261.0 C2730.8 1253.5 2730.5 1253.3 2730.0 1249.0 C2729.5 1244.7 2727.3 1237.7 2725.0 1235.0 C2722.7 1232.3 2720.5 1232.3 2716.0 1233.0 C2711.5 1233.7 2705.2 1235.8 2698.0 1239.0 C2690.8 1242.2 2681.3 1248.3 2673.0 1252.0 C2664.7 1255.7 2656.2 1257.8 2648.0 1261.0 C2639.8 1264.2 2632.2 1268.0 2624.0 1271.0 C2615.8 1274.0 2605.7 1276.7 2599.0 1279.0 C2592.3 1281.3 2588.2 1283.3 2584.0 1285.0 C2579.8 1286.7 2575.7 1288.3 2574.0 1289.0 C2572.3 1289.7 2574.0 1287.0 2574.0 1289.0 C2574.0 1291.0 2574.0 1299.0 2574.0 1301.0 C2574.0 1303.0 2577.0 1301.3 2574.0 1301.0 C2571.0 1300.7 2559.0 1299.3 2556.0 1299.0 C2553.0 1298.7 2555.5 1290.8 2556.0 1299.0 C2556.5 1307.2 2557.7 1331.5 2559.0 1348.0 C2560.3 1364.5 2562.0 1381.3 2564.0 1398.0 C2566.0 1414.7 2568.5 1431.3 2571.0 1448.0 C2573.5 1464.7 2576.7 1484.0 2579.0 1498.0 C2581.3 1512.0 2584.0 1526.3 2585.0 1532.0 C2586.0 1537.7 2587.5 1526.7 2585.0 1532.0 C2582.5 1537.3 2574.8 1552.5 2570.0 1564.0 C2565.2 1575.5 2560.0 1588.5 2556.0 1601.0 C2552.0 1613.5 2549.0 1624.5 2546.0 1639.0 C2543.0 1653.5 2540.2 1671.5 2538.0 1688.0 C2535.8 1704.5 2533.3 1717.2 2533.0 1738.0 C2532.7 1758.8 2534.3 1792.3 2536.0 1813.0 C2537.7 1833.7 2539.7 1843.8 2543.0 1862.0 C2546.3 1880.2 2553.8 1912.0 2556.0 1922.0 C2558.2 1932.0 2560.2 1916.5 2556.0 1922.0 C2551.8 1927.5 2539.8 1943.3 2531.0 1955.0 C2522.2 1966.7 2511.0 1979.7 2503.0 1992.0 C2495.0 2004.3 2488.7 2016.7 2483.0 2029.0 C2477.3 2041.3 2473.0 2053.5 2469.0 2066.0 C2465.0 2078.5 2462.3 2091.5 2459.0 2104.0 C2455.7 2116.5 2451.5 2128.7 2449.0 2141.0 C2446.5 2153.3 2445.3 2163.5 2444.0 2178.0 C2442.7 2192.5 2441.8 2211.3 2441.0 2228.0 C2440.2 2244.7 2439.8 2269.0 2439.0 2278.0 C2438.2 2287.0 2440.2 2277.5 2436.0 2282.0 C2431.8 2286.5 2421.0 2295.3 2414.0 2305.0 C2407.0 2314.7 2399.8 2331.2 2394.0 2340.0 C2388.2 2348.8 2385.3 2349.5 2379.0 2358.0 C2372.7 2366.5 2362.5 2381.7 2356.0 2391.0 C2349.5 2400.3 2342.7 2410.2 2340.0 2414.0" fill="none" stroke="#1ad8f3" stroke-width="3"/>
</g>
<path d="M2281 1790 2281 1792 2281 1794 2281 1797 2281 1800 2281 1804 2281 1807 2281 1811 2281 1815 2282 1818 2282 1822 2282 1825 2283 1829 2283 1831 2284 1834 2285 1837 2285 1840 2286 1843 2287 1845 2288 1848 2289 1851 2290 1853 2291 1856 2292 1858 2293 1861 2295 1864 2296 1866 2298 1868 2299 1871 2301 1873 2303 1875 2304 1878 2306 1880 2308 1882 2309 1883 2311 1885 2312 1887 2313 1889 2315 1890 2316 1892 2317 1894 2318 1895 2319 1897 2320 1899 2321 1900 2322 1902 2324 1903 2325 1905 2326 1906 2328 1908 2329 1909 2330 1911 2332 1912 2333 1914 2335 1915 2336 1916 2338 1918 2339 1919 2341 1920 2342 1921 2344 1923 2345 1924 2347 1925 2349 1927 2350 1928 2352 1929 2353 1930 2355 1932 2357 1933 2358 1934 2360 1935 2361 1936 2363 1938 2364 1939 2366 1941 2367 1942 2369 1944 2370 1945 2372 1947 2373 1948 2375 1950 2376 1952 2378 1953 2379 1955 2380 1956 2381 1958 2383 1959 2384 1961 2385 1962 2386 1964 2387 1965 2388 1967 2389 1968 2390 1969 2391 1971 2392 1972 2393 1973 2393 1974 2394 1976 2394 1977 2395 1978 2395 1980 2395 1981 2395 1982 2396 1983 2396 1985 2396 1986 2396 1987 2396 1988 2396 1989 2396 1990 2396 1991 2396 1992 2396 1993 2396 1994 2395 1994 2395 1995 2395 1996 2394 1997 2394 1998 2393 1999 2392 2001 2391 2002 2390 2003 2388 2005 2387 2006 2385 2008 2384 2010 2382 2011 2381 2013 2379 2015 2377 2017 2375 2019 2374 2020 2372 2022 2370 2024 2369 2025 2367 2027 2365 2029 2363 2031 2361 2033 2359 2035 2357 2037 2355 2039 2353 2041 2351 2043 2349 2045 2347 2047 2345 2049 2343 2052 2341 2054 2339 2056 2337 2059 2335 2061 2333 2063 2332 2066 2330 2068 2328 2071 2327 2073 2325 2075 2324 2078 2323 2080 2321 2083 2320 2085 2319 2088 2318 2090 2317 2092 2316 2095 2315 2097 2314 2100 2314 2102 2313 2105 2312 2107 2312 2110 2312 2113 2311 2115 2311 2118 2311 2120 2310 2123 2310 2125 2310 2128 2310 2130 2310 2133 2310 2136 2310 2138 2310 2141 2310 2144 2311 2147 2311 2149 2312 2152 2312 2154 2313 2157 2313 2159 2314 2162 2315 2164 2316 2166 2317 2168 2318 2170 2319 2172 2320 2174 2322 2176 2323 2178 2324 2179 2325 2181 2326 2182 2327 2184 2327 2186 2328 2187 2329 2189 2330 2190 2331 2192 2332 2193 2333 2195 2334 2197 2335 2198 2336 2200 2337 2202 2338 2203 2339 2205 2340 2207 2341 2209 2343 2211 2344 2213 2345 2216 2347 2218 2348 2220 2349 2222 2351 2224 2352 2226 2353 2228 2354 2230 2356 2232 2357 2234 2359 2236 2360 2237 2361 2239 2363 2241 2364 2243 2365 2245 2367 2246 2368 2248 2370 2250 2371 2251 2372 2253 2374 2254 2375 2256 2376 2257 2378 2258 2379 2259 2380 2260 2381 2262 2382 2263 2383 2264 2384 2265 2385 2267 2386 2268 2387 2270 2388 2271 2389 2272 2390 2274 2390 2275 2391 2277 2392 2278 2393 2280 2394 2281 2394 2283 2395 2284 2396 2286 2397 2287 2397 2289 2398 2290 2399 2292 2399 2293 2400 2295 2400 2296 2401 2298 2401 2299 2401 2301 2402 2302 2402 2303 2402 2305 2402 2306 2402 2308 2402 2309 2402 2311 2402 2312 2402 2314 2402 2315 2402 2317 2402 2318 2402 2320 2402 2321 2402 2323 2401 2324 2401 2325 2401 2327 2401 2328 2400 2329 2400 2331 2400 2332 2399 2333 2399 2334 2398 2336 2398 2337 2397 2338 2396 2339 2396 2340 2395 2341 2394 2343 2393 2344 2392 2345 2391 2347 2390 2348 2389 2350 2388 2351 2387 2353 2386 2354 2385 2356 2384 2358 2383 2359 2381 2361 2380 2363 2379 2364 2378 2366 2377 2368 2376 2369 2374 2371 2373 2372 2372 2374 2371 2376 2370 2377 2369 2379 2367 2380 2366 2382 2365 2384 2364 2385 2363 2387 2361 2389 2360 2391 2358 2393 2357 2395 2355 2397 2354 2399 2352 2401 2351 2403 2349 2405 2348 2406 2347 2408 2346 2409 2350 2411 2350 2410 2352 2409 2353 2408 2354 2406 2356 2404 2357 2402 2359 2400 2361 2398 2363 2396 2364 2394 2366 2393 2367 2391 2369 2389 2370 2388 2372 2386 2373 2385 2374 2383 2376 2382 2377 2380 2378 2379 2379 2377 2381 2376 2382 2374 2383 2372 2385 2371 2386 2369 2387 2368 2388 2366 2390 2365 2391 2363 2392 2361 2393 2360 2395 2358 2396 2357 2397 2355 2398 2354 2399 2352 2400 2351 2401 2350 2402 2348 2403 2347 2404 2346 2405 2344 2406 2343 2406 2341 2407 2340 2408 2338 2409 2337 2409 2335 2410 2333 2410 2332 2411 2330 2411 2329 2411 2327 2411 2325 2412 2324 2412 2322 2412 2320 2412 2319 2412 2317 2412 2316 2412 2314 2412 2312 2412 2311 2412 2309 2412 2307 2412 2306 2412 2304 2412 2302 2412 2300 2411 2299 2411 2297 2410 2295 2410 2293 2409 2292 2409 2290 2408 2288 2407 2286 2406 2285 2406 2283 2405 2281 2404 2280 2403 2278 2402 2277 2402 2275 2401 2274 2400 2272 2399 2270 2398 2269 2397 2267 2396 2266 2395 2264 2394 2263 2393 2261 2392 2259 2391 2258 2390 2256 2388 2255 2387 2254 2386 2252 2385 2251 2383 2250 2382 2248 2381 2247 2380 2246 2378 2245 2377 2243 2376 2242 2375 2240 2373 2239 2372 2237 2371 2235 2369 2233 2368 2232 2367 2230 2365 2228 2364 2226 2363 2224 2361 2222 2360 2220 2359 2218 2358 2216 2356 2214 2355 2212 2354 2210 2352 2208 2351 2206 2350 2204 2349 2202 2348 2200 2346 2198 2345 2196 2344 2195 2343 2193 2342 2191 2341 2190 2341 2188 2340 2187 2339 2185 2338 2184 2337 2182 2336 2181 2335 2179 2334 2178 2333 2176 2332 2174 2331 2172 2330 2170 2329 2169 2328 2167 2327 2165 2326 2164 2325 2162 2324 2160 2323 2158 2323 2157 2322 2155 2322 2152 2321 2150 2321 2148 2321 2145 2320 2143 2320 2140 2320 2138 2320 2135 2320 2133 2320 2131 2320 2128 2320 2126 2320 2123 2320 2121 2321 2119 2321 2117 2321 2114 2322 2112 2322 2110 2323 2107 2323 2105 2324 2103 2325 2101 2326 2098 2326 2096 2327 2094 2328 2092 2329 2089 2330 2087 2331 2085 2333 2083 2334 2080 2335 2078 2337 2076 2338 2074 2340 2072 2341 2069 2343 2067 2345 2065 2347 2063 2349 2060 2351 2058 2353 2056 2355 2054 2357 2052 2359 2049 2361 2047 2363 2045 2364 2044 2366 2042 2368 2040 2370 2038 2372 2036 2374 2034 2375 2033 2377 2031 2379 2029 2381 2027 2383 2025 2384 2024 2386 2022 2388 2020 2389 2018 2391 2017 2393 2015 2394 2013 2396 2011 2397 2010 2399 2008 2400 2006 2401 2005 2402 2003 2403 2002 2404 2000 2404 1999 2405 1997 2405 1996 2406 1995 2406 1993 2406 1992 2406 1991 2406 1989 2406 1988 2406 1987 2406 1985 2406 1983 2406 1982 2405 1980 2405 1979 2405 1977 2404 1975 2404 1974 2403 1972 2402 1970 2401 1969 2401 1967 2400 1966 2399 1964 2398 1962 2397 1961 2395 1959 2394 1958 2393 1956 2392 1954 2390 1953 2389 1951 2388 1950 2386 1948 2385 1947 2384 1945 2382 1943 2381 1942 2379 1940 2377 1938 2376 1937 2374 1935 2373 1933 2371 1932 2369 1930 2368 1929 2366 1927 2364 1926 2363 1925 2361 1924 2359 1922 2358 1921 2356 1920 2355 1919 2353 1918 2352 1916 2350 1915 2349 1914 2347 1913 2346 1911 2344 1910 2343 1909 2342 1908 2340 1906 2339 1905 2338 1904 2336 1902 2335 1901 2334 1900 2333 1898 2331 1897 2330 1896 2329 1894 2328 1893 2327 1891 2326 1890 2325 1888 2324 1886 2323 1885 2321 1883 2320 1881 2318 1879 2317 1877 2315 1875 2314 1873 2312 1871 2310 1869 2308 1867 2307 1865 2305 1863 2303 1861 2302 1859 2301 1857 2299 1855 2298 1853 2297 1850 2295 1848 2294 1846 2293 1843 2292 1841 2291 1838 2290 1836 2289 1833 2288 1830 2287 1827 2286 1825 2286 1821 2285 1818 2284 1814 2284 1811 2283 1807 2283 1803 2283 1800 2282 1797 2282 1794 2282 1792 2281 1790Z" fill="#ebe9ed"/>
<path d="M2764 1525 2762 1527 2761 1529 2759 1532 2757 1535 2755 1538 2753 1542 2751 1545 2748 1549 2746 1552 2744 1555 2742 1558 2741 1561 2739 1563 2738 1564 2737 1566 2736 1567 2735 1569 2735 1570 2734 1571 2733 1572 2732 1573 2732 1575 2731 1577 2730 1578 2729 1581 2728 1583 2727 1585 2726 1588 2725 1590 2724 1593 2723 1595 2721 1598 2720 1600 2719 1603 2717 1605 2715 1608 2713 1611 2711 1614 2709 1617 2706 1621 2703 1624 2700 1628 2697 1631 2694 1635 2691 1638 2688 1641 2686 1644 2683 1647 2680 1650 2678 1652 2675 1655 2673 1657 2670 1659 2667 1661 2665 1663 2662 1666 2660 1668 2657 1670 2655 1673 2653 1676 2651 1678 2649 1681 2647 1684 2645 1686 2644 1689 2642 1692 2641 1695 2639 1698 2638 1701 2637 1705 2636 1708 2635 1712 2634 1715 2633 1719 2632 1724 2632 1728 2631 1732 2631 1736 2630 1741 2630 1745 2630 1750 2630 1754 2630 1759 2630 1763 2630 1767 2630 1772 2630 1776 2630 1781 2631 1785 2631 1789 2631 1794 2632 1798 2633 1802 2633 1806 2634 1810 2635 1814 2635 1818 2636 1821 2637 1825 2638 1828 2639 1831 2640 1834 2641 1837 2642 1840 2643 1843 2644 1846 2646 1849 2647 1852 2648 1855 2650 1858 2651 1862 2653 1865 2655 1868 2656 1871 2658 1874 2660 1877 2662 1880 2664 1883 2666 1886 2668 1888 2670 1891 2672 1893 2674 1896 2677 1898 2679 1900 2681 1902 2683 1904 2686 1906 2687 1907 2689 1909 2691 1911 2693 1913 2694 1915 2696 1918 2697 1920 2698 1923 2700 1925 2701 1928 2702 1930 2703 1933 2704 1935 2705 1938 2706 1941 2707 1943 2707 1946 2708 1949 2708 1952 2708 1955 2708 1958 2709 1961 2708 1964 2708 1967 2708 1970 2708 1972 2707 1975 2707 1978 2706 1980 2705 1982 2704 1985 2703 1987 2702 1989 2701 1992 2699 1994 2698 1996 2696 1998 2695 2001 2693 2003 2691 2006 2689 2008 2686 2011 2684 2013 2681 2016 2679 2018 2676 2021 2673 2024 2670 2026 2667 2029 2664 2032 2661 2034 2658 2037 2656 2039 2653 2042 2650 2044 2647 2046 2644 2049 2642 2051 2639 2053 2636 2055 2633 2058 2630 2060 2627 2062 2624 2065 2622 2067 2619 2070 2616 2072 2613 2075 2610 2077 2607 2080 2604 2082 2601 2085 2598 2088 2595 2090 2592 2092 2589 2095 2587 2097 2584 2099 2582 2102 2579 2104 2576 2106 2574 2108 2571 2110 2569 2113 2567 2115 2564 2118 2562 2120 2560 2123 2559 2126 2557 2129 2556 2132 2555 2135 2554 2138 2553 2141 2552 2145 2551 2148 2551 2151 2550 2154 2550 2157 2550 2161 2549 2164 2549 2167 2550 2171 2550 2174 2550 2177 2551 2181 2551 2184 2552 2187 2552 2190 2553 2193 2554 2197 2555 2199 2556 2202 2557 2205 2558 2208 2559 2211 2560 2213 2561 2216 2562 2218 2564 2221 2565 2223 2566 2225 2567 2228 2568 2230 2569 2233 2570 2235 2571 2237 2572 2240 2573 2242 2574 2244 2575 2246 2575 2249 2576 2251 2577 2253 2577 2256 2578 2259 2578 2262 2578 2265 2578 2269 2579 2273 2579 2276 2579 2280 2579 2284 2579 2288 2579 2292 2578 2295 2578 2298 2578 2301 2577 2304 2577 2306 2576 2308 2575 2310 2575 2312 2574 2314 2573 2315 2572 2317 2571 2319 2569 2321 2568 2323 2567 2325 2565 2327 2563 2329 2561 2331 2559 2334 2557 2336 2555 2338 2553 2341 2551 2343 2548 2345 2546 2347 2544 2350 2541 2352 2539 2354 2536 2356 2534 2358 2531 2360 2528 2362 2525 2364 2522 2366 2519 2368 2516 2370 2514 2372 2511 2375 2508 2377 2506 2379 2504 2381 2501 2384 2499 2386 2497 2388 2495 2390 2493 2393 2491 2395 2489 2398 2488 2400 2486 2403 2484 2405 2483 2408 2481 2411 2480 2413 2479 2416 2477 2419 2476 2422 2475 2425 2474 2428 2473 2431 2473 2434 2472 2437 2472 2440 2471 2444 2471 2447 2472 2450 2472 2453 2473 2456 2473 2459 2474 2461 2474 2464 2475 2467 2476 2470 2476 2472 2477 2475 2477 2478 2477 2480 2478 2483 2478 2486 2479 2489 2479 2491 2480 2494 2480 2497 2480 2499 2480 2502 2480 2504 2481 2507 2480 2510 2480 2512 2480 2515 2480 2518 2480 2520 2480 2523 2479 2526 2479 2528 2478 2531 2478 2534 2477 2536 2477 2539 2476 2541 2476 2544 2475 2547 2474 2549 2473 2552 2472 2555 2471 2557 2470 2560 2469 2562 2468 2564 2468 2565 2467 2567 2473 2569 2473 2568 2474 2566 2475 2564 2476 2562 2477 2560 2478 2557 2480 2555 2481 2552 2482 2549 2483 2547 2484 2544 2485 2541 2486 2538 2487 2536 2487 2533 2488 2530 2489 2527 2489 2525 2490 2522 2490 2519 2491 2516 2491 2513 2491 2510 2491 2507 2491 2504 2491 2501 2491 2498 2491 2495 2490 2493 2490 2490 2490 2487 2489 2484 2489 2481 2488 2479 2488 2476 2487 2473 2487 2470 2486 2467 2486 2465 2485 2462 2484 2459 2484 2456 2483 2454 2483 2451 2483 2449 2482 2446 2482 2444 2482 2442 2483 2439 2483 2437 2484 2434 2485 2431 2485 2429 2486 2426 2487 2423 2489 2421 2490 2418 2491 2416 2492 2413 2494 2411 2495 2408 2497 2406 2498 2404 2500 2402 2502 2400 2503 2398 2505 2396 2507 2393 2509 2391 2511 2389 2513 2387 2516 2385 2518 2383 2520 2381 2523 2379 2526 2377 2529 2375 2531 2373 2534 2371 2537 2369 2540 2367 2543 2365 2546 2362 2549 2360 2551 2358 2554 2355 2556 2353 2559 2351 2561 2348 2563 2346 2566 2343 2568 2341 2570 2338 2572 2336 2574 2334 2575 2331 2577 2329 2579 2327 2580 2325 2581 2323 2582 2321 2584 2318 2585 2316 2586 2314 2586 2311 2587 2309 2588 2306 2588 2303 2589 2300 2589 2296 2590 2292 2590 2288 2590 2284 2590 2280 2590 2276 2590 2272 2589 2268 2589 2264 2589 2261 2588 2257 2588 2254 2587 2251 2587 2248 2586 2245 2585 2243 2584 2240 2583 2238 2582 2235 2581 2233 2580 2231 2579 2228 2578 2226 2577 2223 2576 2221 2575 2218 2574 2216 2572 2213 2571 2211 2570 2209 2569 2206 2568 2204 2567 2201 2566 2199 2565 2197 2565 2194 2564 2191 2563 2188 2563 2185 2562 2182 2561 2179 2561 2176 2561 2173 2560 2170 2560 2167 2560 2164 2560 2161 2561 2159 2561 2156 2561 2153 2562 2150 2563 2147 2563 2144 2564 2142 2565 2139 2566 2136 2567 2134 2568 2131 2570 2129 2571 2127 2573 2125 2575 2122 2577 2120 2579 2118 2581 2116 2583 2114 2586 2112 2589 2110 2591 2108 2594 2105 2597 2103 2599 2101 2602 2098 2605 2096 2608 2093 2611 2091 2614 2088 2617 2086 2620 2083 2623 2081 2626 2078 2629 2076 2632 2073 2634 2071 2637 2069 2640 2066 2643 2064 2646 2062 2649 2059 2651 2057 2654 2055 2657 2052 2660 2050 2663 2048 2666 2045 2668 2043 2671 2040 2674 2037 2677 2035 2680 2032 2683 2029 2686 2026 2689 2024 2692 2021 2694 2018 2697 2015 2699 2012 2701 2010 2703 2007 2705 2005 2707 2002 2709 2000 2710 1997 2712 1995 2713 1992 2714 1989 2715 1986 2716 1983 2717 1980 2718 1977 2719 1974 2719 1971 2719 1967 2719 1964 2719 1961 2719 1957 2719 1954 2719 1950 2719 1947 2718 1944 2717 1941 2717 1938 2716 1935 2715 1932 2714 1929 2712 1926 2711 1923 2710 1920 2708 1917 2707 1915 2705 1912 2703 1909 2701 1907 2700 1904 2697 1902 2695 1900 2693 1897 2691 1895 2688 1894 2686 1892 2684 1890 2682 1888 2680 1886 2678 1884 2676 1882 2675 1879 2673 1877 2671 1874 2669 1871 2668 1868 2666 1866 2664 1863 2663 1860 2661 1857 2660 1854 2658 1851 2657 1848 2656 1845 2655 1842 2653 1839 2652 1836 2651 1834 2650 1831 2649 1828 2648 1825 2648 1822 2647 1819 2646 1815 2645 1812 2645 1808 2644 1805 2643 1801 2643 1797 2642 1792 2642 1788 2641 1784 2641 1780 2641 1775 2641 1771 2641 1767 2640 1763 2641 1759 2641 1755 2641 1750 2641 1746 2641 1742 2642 1738 2642 1733 2643 1729 2643 1725 2644 1721 2645 1718 2645 1714 2646 1711 2647 1708 2648 1705 2649 1702 2651 1700 2652 1697 2653 1695 2655 1692 2656 1690 2658 1687 2660 1685 2661 1682 2663 1680 2665 1678 2667 1676 2670 1674 2672 1672 2675 1670 2677 1667 2680 1665 2683 1663 2685 1660 2688 1658 2691 1655 2694 1652 2697 1649 2700 1645 2703 1642 2706 1638 2709 1635 2712 1631 2715 1628 2717 1624 2720 1621 2722 1617 2725 1614 2726 1611 2728 1607 2729 1604 2730 1601 2731 1598 2732 1596 2733 1593 2734 1590 2734 1588 2735 1586 2736 1584 2736 1582 2737 1580 2738 1578 2739 1577 2739 1575 2740 1574 2740 1573 2741 1572 2742 1571 2742 1569 2743 1567 2744 1566 2745 1563 2747 1561 2748 1558 2750 1554 2752 1551 2754 1547 2755 1543 2757 1539 2759 1536 2761 1533 2762 1530 2763 1527 2764 1525Z" fill="#ebe9ed"/>
<path d="M2191 882 2190 883 2190 885 2190 887 2189 889 2189 891 2188 894 2188 897 2187 899 2187 902 2186 905 2186 907 2186 910 2186 912 2186 915 2186 917 2186 920 2186 923 2186 925 2187 928 2187 930 2187 933 2188 935 2188 938 2188 940 2188 943 2189 945 2189 948 2190 950 2190 953 2190 955 2191 958 2191 960 2192 963 2192 965 2193 968 2194 971 2194 973 2195 976 2196 979 2196 982 2197 985 2198 987 2199 990 2200 993 2201 996 2202 1000 2203 1003 2204 1006 2205 1010 2206 1013 2207 1017 2208 1021 2210 1025 2211 1029 2212 1033 2214 1037 2215 1041 2216 1045 2218 1048 2219 1051 2220 1054 2221 1057 2222 1059 2222 1062 2223 1064 2224 1066 2225 1069 2226 1071 2227 1073 2228 1075 2230 1078 2231 1080 2233 1082 2235 1085 2237 1087 2239 1090 2241 1092 2243 1095 2246 1097 2248 1100 2251 1102 2254 1104 2256 1106 2259 1108 2262 1110 2265 1111 2268 1113 2271 1114 2275 1115 2278 1116 2281 1117 2284 1119 2287 1120 2291 1121 2294 1122 2297 1123 2300 1125 2303 1126 2306 1127 2309 1129 2312 1130 2315 1131 2318 1133 2321 1134 2324 1136 2327 1138 2330 1139 2333 1141 2336 1143 2339 1145 2342 1147 2345 1149 2348 1151 2351 1153 2353 1155 2356 1157 2359 1160 2362 1162 2365 1165 2368 1168 2370 1170 2373 1173 2376 1177 2379 1180 2383 1183 2386 1187 2389 1191 2392 1194 2394 1198 2397 1201 2400 1204 2402 1207 2405 1210 2407 1213 2409 1216 2411 1218 2413 1221 2415 1223 2417 1226 2418 1228 2420 1231 2422 1233 2423 1235 2425 1238 2427 1240 2428 1243 2430 1245 2432 1248 2433 1250 2434 1253 2436 1255 2437 1257 2439 1260 2440 1262 2441 1264 2442 1266 2443 1268 2444 1271 2445 1273 2446 1275 2447 1278 2447 1280 2448 1282 2448 1284 2449 1286 2449 1288 2450 1289 2450 1290 2454 1290 2454 1288 2453 1287 2453 1285 2453 1283 2452 1281 2452 1279 2451 1276 2451 1274 2450 1271 2449 1269 2449 1266 2448 1264 2447 1261 2446 1259 2444 1257 2443 1254 2442 1252 2441 1249 2439 1247 2437 1244 2436 1242 2434 1239 2433 1237 2431 1234 2429 1232 2428 1229 2426 1227 2424 1224 2422 1222 2420 1219 2419 1217 2417 1214 2414 1211 2412 1209 2410 1206 2408 1203 2405 1200 2403 1196 2400 1193 2397 1190 2394 1186 2391 1182 2388 1179 2385 1175 2382 1172 2379 1169 2375 1165 2372 1162 2369 1160 2367 1157 2364 1154 2361 1152 2358 1150 2355 1147 2352 1145 2349 1143 2346 1141 2343 1139 2340 1137 2337 1135 2334 1133 2331 1131 2328 1130 2324 1128 2321 1127 2318 1125 2315 1124 2312 1122 2309 1121 2306 1120 2302 1118 2299 1117 2296 1115 2293 1114 2290 1113 2286 1112 2283 1111 2280 1110 2277 1109 2274 1108 2271 1106 2268 1105 2265 1104 2263 1102 2260 1100 2258 1098 2255 1096 2253 1094 2251 1092 2248 1090 2246 1088 2244 1085 2242 1083 2240 1081 2238 1078 2237 1076 2235 1074 2234 1072 2233 1070 2232 1068 2231 1066 2231 1064 2230 1062 2229 1060 2228 1057 2227 1055 2226 1052 2225 1049 2224 1046 2223 1042 2222 1039 2220 1035 2219 1031 2218 1027 2216 1023 2215 1019 2214 1015 2213 1011 2211 1007 2210 1004 2209 1001 2208 998 2207 994 2206 991 2205 989 2204 986 2203 983 2202 980 2201 977 2200 975 2199 972 2198 969 2198 967 2197 964 2196 962 2196 959 2195 957 2195 954 2194 952 2194 949 2193 947 2193 945 2192 942 2192 940 2191 937 2191 935 2191 932 2190 930 2190 927 2189 925 2189 922 2189 920 2189 917 2188 915 2188 912 2188 910 2188 908 2188 905 2189 902 2189 900 2189 897 2190 894 2190 892 2190 889 2191 887 2191 885 2191 883 2191 882Z" fill="#ebe9ed"/>
<path d="M2440 1044 2441 1046 2444 1047 2446 1049 2449 1051 2452 1054 2456 1056 2459 1059 2462 1061 2466 1064 2469 1067 2471 1069 2474 1071 2476 1073 2478 1075 2480 1077 2481 1079 2483 1081 2484 1083 2486 1085 2487 1087 2488 1089 2489 1091 2490 1093 2492 1096 2493 1099 2494 1102 2495 1105 2497 1108 2498 1111 2499 1115 2500 1118 2501 1122 2502 1126 2503 1130 2504 1134 2505 1138 2505 1142 2506 1146 2507 1151 2508 1155 2509 1160 2510 1165 2510 1169 2511 1174 2511 1179 2512 1183 2512 1187 2513 1191 2513 1195 2513 1198 2513 1202 2513 1205 2513 1208 2513 1211 2512 1214 2512 1217 2512 1220 2511 1222 2511 1225 2511 1228 2510 1231 2510 1233 2510 1236 2510 1239 2509 1242 2509 1244 2509 1247 2508 1249 2508 1251 2508 1253 2508 1255 2508 1256 2508 1256 2509 1255 2509 1253 2509 1251 2510 1249 2510 1247 2511 1244 2511 1242 2512 1239 2512 1236 2512 1234 2513 1231 2513 1228 2514 1225 2514 1223 2515 1220 2515 1217 2516 1214 2516 1211 2516 1208 2517 1205 2517 1202 2517 1198 2517 1195 2517 1191 2517 1187 2517 1183 2516 1178 2516 1173 2515 1169 2514 1164 2514 1159 2513 1154 2512 1150 2511 1145 2510 1141 2509 1136 2509 1132 2508 1129 2507 1125 2506 1121 2505 1117 2504 1113 2502 1110 2501 1106 2500 1103 2499 1100 2498 1097 2496 1094 2495 1091 2493 1089 2492 1086 2491 1084 2489 1082 2488 1080 2486 1078 2484 1076 2482 1075 2480 1073 2478 1071 2476 1069 2474 1067 2471 1064 2467 1062 2464 1059 2460 1057 2457 1055 2453 1052 2450 1050 2447 1048 2444 1046 2442 1045 2440 1044Z" fill="#ebe9ed"/>
<path d="M2661 1167 2659 1168 2657 1170 2654 1172 2651 1174 2647 1176 2644 1179 2640 1182 2636 1184 2633 1187 2629 1189 2626 1192 2623 1194 2620 1196 2617 1197 2615 1199 2612 1201 2609 1202 2606 1204 2604 1205 2601 1207 2599 1208 2596 1209 2594 1211 2593 1212 2591 1213 2589 1215 2588 1216 2587 1217 2586 1218 2586 1219 2585 1220 2584 1221 2584 1222 2583 1223 2582 1224 2582 1226 2581 1227 2580 1229 2579 1230 2578 1232 2578 1234 2577 1235 2576 1237 2576 1239 2575 1241 2574 1243 2572 1245 2571 1247 2570 1250 2568 1252 2566 1255 2564 1258 2562 1261 2560 1265 2557 1268 2555 1271 2553 1274 2550 1278 2548 1281 2546 1284 2544 1287 2542 1290 2540 1293 2537 1297 2535 1300 2533 1303 2531 1306 2528 1309 2526 1313 2524 1316 2523 1319 2521 1322 2519 1326 2518 1329 2517 1332 2515 1335 2514 1338 2513 1342 2512 1345 2511 1348 2511 1351 2510 1354 2509 1357 2509 1360 2508 1363 2507 1367 2507 1370 2506 1373 2506 1376 2506 1379 2506 1382 2505 1385 2505 1388 2505 1392 2505 1395 2506 1398 2506 1402 2506 1405 2507 1409 2507 1412 2508 1416 2508 1420 2509 1423 2510 1427 2510 1430 2511 1434 2512 1437 2513 1441 2513 1444 2514 1447 2515 1450 2515 1453 2516 1456 2517 1459 2518 1462 2519 1465 2520 1468 2521 1471 2522 1475 2523 1478 2524 1482 2525 1485 2527 1489 2528 1493 2530 1497 2531 1501 2533 1505 2534 1509 2536 1513 2537 1517 2539 1520 2540 1523 2541 1526 2542 1529 2542 1532 2543 1534 2544 1537 2545 1539 2545 1541 2546 1544 2547 1546 2548 1549 2549 1551 2550 1554 2551 1556 2552 1558 2554 1561 2555 1563 2557 1565 2558 1568 2560 1570 2561 1572 2563 1574 2564 1576 2566 1578 2567 1580 2568 1583 2570 1585 2571 1588 2573 1591 2574 1594 2575 1597 2576 1599 2578 1602 2579 1604 2580 1607 2580 1608 2581 1610 2585 1608 2584 1607 2584 1605 2583 1603 2582 1600 2581 1598 2580 1595 2579 1592 2578 1589 2576 1586 2575 1583 2574 1580 2573 1578 2572 1575 2570 1573 2569 1570 2567 1568 2566 1566 2564 1563 2563 1561 2561 1559 2560 1557 2558 1555 2557 1553 2556 1550 2555 1548 2554 1546 2553 1544 2553 1542 2552 1539 2551 1537 2551 1535 2550 1532 2549 1530 2548 1527 2547 1524 2546 1521 2545 1518 2544 1514 2542 1510 2541 1507 2539 1503 2538 1499 2536 1495 2535 1491 2533 1487 2532 1483 2530 1479 2529 1476 2528 1473 2527 1469 2526 1466 2525 1463 2525 1460 2524 1457 2523 1454 2522 1452 2522 1449 2521 1446 2520 1442 2519 1439 2519 1436 2518 1433 2517 1429 2517 1425 2516 1422 2515 1418 2515 1415 2514 1411 2513 1408 2513 1404 2513 1401 2512 1398 2512 1395 2512 1392 2512 1388 2512 1385 2513 1382 2513 1379 2513 1377 2513 1374 2514 1371 2514 1368 2515 1365 2515 1362 2516 1359 2517 1356 2517 1353 2518 1350 2519 1347 2520 1344 2521 1341 2522 1338 2523 1335 2524 1332 2526 1329 2527 1326 2529 1323 2530 1319 2532 1316 2534 1313 2536 1310 2539 1307 2541 1304 2543 1301 2545 1297 2548 1294 2550 1291 2552 1288 2554 1285 2556 1282 2558 1278 2561 1275 2563 1272 2565 1268 2568 1265 2570 1262 2572 1259 2574 1256 2575 1253 2577 1251 2578 1248 2579 1246 2580 1244 2581 1241 2582 1239 2583 1238 2583 1236 2584 1234 2585 1233 2585 1231 2586 1230 2586 1228 2587 1227 2588 1226 2588 1225 2589 1224 2589 1223 2590 1222 2590 1221 2591 1220 2592 1219 2593 1218 2594 1217 2595 1216 2597 1215 2599 1213 2601 1212 2603 1210 2606 1209 2608 1207 2611 1206 2614 1204 2616 1202 2619 1200 2622 1198 2625 1196 2628 1194 2631 1192 2634 1189 2638 1186 2641 1183 2645 1181 2648 1178 2652 1175 2655 1173 2657 1171 2660 1169 2661 1167Z" fill="#ebe9ed"/>
<path d="M2492 1209 2491 1211 2490 1213 2488 1216 2487 1219 2485 1222 2484 1226 2482 1230 2480 1233 2478 1237 2477 1241 2475 1245 2474 1248 2472 1252 2471 1256 2470 1259 2469 1263 2468 1266 2466 1270 2465 1274 2464 1278 2463 1282 2462 1286 2461 1290 2461 1294 2460 1298 2459 1303 2458 1308 2458 1313 2457 1318 2457 1324 2456 1329 2456 1334 2455 1338 2455 1342 2455 1345 2455 1348 2455 1348 2456 1345 2456 1342 2457 1338 2457 1334 2458 1329 2459 1324 2459 1319 2460 1313 2461 1308 2462 1303 2463 1299 2463 1294 2464 1290 2465 1286 2466 1282 2467 1279 2468 1275 2469 1271 2470 1267 2472 1264 2473 1260 2474 1257 2475 1253 2476 1250 2478 1246 2479 1242 2480 1238 2482 1234 2484 1230 2485 1227 2487 1223 2488 1219 2489 1216 2491 1214 2492 1211 2492 1209Z" fill="#ebe9ed"/>
<path d="M2518 1493 2517 1494 2515 1495 2513 1497 2511 1498 2509 1500 2507 1502 2505 1504 2502 1507 2500 1509 2497 1511 2495 1514 2493 1516 2491 1518 2488 1521 2486 1524 2483 1527 2480 1530 2478 1533 2475 1536 2473 1538 2471 1541 2469 1543 2467 1545 2466 1547 2466 1547 2468 1546 2470 1544 2472 1542 2474 1540 2477 1537 2479 1534 2482 1532 2485 1529 2488 1526 2490 1523 2493 1520 2495 1518 2497 1516 2500 1513 2502 1511 2504 1509 2506 1506 2509 1504 2511 1502 2512 1500 2514 1498 2516 1496 2517 1494 2518 1493Z" fill="#ebe9ed"/>
<path d="M2479 1435 2478 1436 2477 1438 2476 1440 2475 1443 2474 1446 2473 1449 2472 1451 2471 1454 2471 1457 2470 1459 2470 1461 2470 1463 2470 1463 2471 1462 2472 1460 2473 1458 2474 1455 2475 1452 2476 1449 2477 1447 2478 1444 2478 1441 2479 1439 2479 1437 2479 1435Z" fill="#ebe9ed"/>
<path d="M2616 1271 2617 1271 2617 1270 2618 1269 2618 1268 2619 1266 2619 1265 2620 1264 2621 1263 2621 1262 2622 1261 2623 1260 2623 1259 2624 1258 2624 1258 2625 1257 2626 1257 2627 1257 2627 1256 2628 1256 2629 1256 2630 1256 2631 1256 2631 1256 2632 1255 2633 1255 2633 1255 2634 1255 2635 1256 2636 1256 2637 1256 2638 1256 2638 1257 2639 1257 2640 1257 2640 1257 2641 1257 2641 1257 2641 1256 2640 1256 2640 1256 2639 1255 2638 1255 2637 1254 2637 1254 2636 1254 2635 1253 2634 1253 2633 1253 2632 1253 2631 1253 2630 1253 2629 1253 2628 1253 2627 1253 2626 1254 2625 1254 2624 1254 2623 1255 2623 1256 2622 1256 2621 1257 2620 1258 2619 1259 2619 1260 2618 1262 2618 1263 2617 1264 2617 1266 2617 1267 2616 1268 2616 1269 2616 1270 2616 1271Z" fill="#ebe9ed"/>
<path d="M2531 1626 2531 1627 2532 1629 2533 1630 2534 1632 2535 1634 2536 1636 2537 1638 2538 1640 2539 1641 2539 1642 2539 1643 2539 1643 2539 1643 2539 1643 2538 1642 2537 1642 2535 1642 2533 1641 2531 1641 2529 1640 2527 1640 2525 1640 2522 1640 2520 1641 2518 1641 2516 1642 2515 1643 2513 1644 2511 1645 2510 1646 2508 1647 2507 1648 2505 1649 2504 1651 2502 1652 2501 1654 2499 1655 2498 1657 2496 1659 2495 1660 2493 1662 2492 1664 2491 1666 2489 1668 2488 1670 2486 1672 2485 1675 2483 1677 2481 1680 2480 1682 2478 1685 2476 1688 2474 1691 2472 1694 2470 1697 2468 1700 2466 1703 2464 1706 2463 1709 2461 1711 2460 1714 2458 1716 2457 1718 2456 1720 2455 1722 2453 1725 2452 1727 2451 1729 2450 1731 2449 1734 2448 1736 2448 1739 2447 1742 2446 1745 2445 1748 2445 1751 2444 1755 2443 1758 2443 1761 2443 1765 2442 1769 2442 1772 2442 1776 2442 1780 2441 1784 2441 1788 2442 1792 2442 1797 2442 1801 2442 1806 2443 1810 2443 1815 2444 1819 2444 1823 2445 1827 2446 1831 2446 1834 2447 1838 2448 1841 2450 1844 2451 1847 2452 1850 2453 1853 2455 1855 2456 1858 2458 1860 2460 1862 2461 1864 2463 1866 2465 1868 2467 1870 2469 1871 2472 1873 2474 1874 2476 1875 2478 1876 2481 1877 2483 1877 2485 1878 2487 1878 2490 1879 2492 1879 2494 1879 2497 1879 2499 1879 2501 1879 2504 1878 2506 1878 2508 1877 2510 1877 2512 1876 2514 1875 2516 1874 2518 1874 2520 1873 2522 1872 2524 1870 2526 1869 2528 1868 2530 1866 2531 1865 2533 1863 2535 1861 2536 1859 2537 1857 2539 1854 2540 1852 2541 1849 2542 1847 2543 1844 2544 1841 2544 1838 2545 1835 2546 1832 2546 1829 2546 1825 2547 1822 2547 1818 2546 1814 2546 1809 2546 1805 2545 1800 2545 1796 2544 1792 2544 1788 2543 1785 2543 1782 2542 1780 2540 1780 2540 1782 2540 1785 2540 1789 2540 1792 2540 1796 2540 1801 2540 1805 2540 1809 2540 1814 2540 1818 2540 1821 2540 1825 2539 1828 2539 1831 2538 1834 2538 1836 2537 1839 2536 1842 2535 1844 2534 1847 2533 1849 2532 1851 2531 1853 2530 1855 2529 1857 2528 1858 2526 1860 2525 1861 2523 1862 2522 1863 2520 1864 2519 1865 2517 1866 2515 1867 2513 1868 2512 1869 2510 1869 2508 1870 2506 1871 2504 1871 2502 1871 2500 1872 2498 1872 2496 1872 2494 1872 2492 1872 2491 1872 2489 1872 2487 1871 2485 1871 2483 1870 2481 1869 2479 1868 2477 1868 2475 1867 2473 1865 2471 1864 2470 1863 2468 1861 2467 1860 2465 1858 2464 1856 2462 1854 2461 1852 2460 1849 2458 1847 2457 1844 2456 1841 2455 1839 2454 1836 2453 1832 2452 1829 2452 1826 2451 1822 2450 1818 2450 1814 2450 1810 2449 1805 2449 1801 2449 1796 2449 1792 2448 1788 2448 1784 2448 1780 2449 1776 2449 1773 2449 1769 2449 1766 2450 1762 2450 1759 2451 1756 2452 1753 2452 1750 2453 1747 2454 1744 2454 1741 2455 1738 2456 1736 2457 1734 2458 1732 2459 1730 2460 1728 2461 1726 2462 1724 2463 1722 2464 1720 2466 1717 2467 1715 2469 1712 2470 1709 2472 1707 2474 1704 2476 1701 2478 1698 2480 1695 2482 1692 2484 1689 2485 1686 2487 1683 2489 1681 2490 1679 2492 1676 2493 1674 2495 1672 2496 1670 2498 1668 2499 1666 2500 1665 2502 1663 2503 1661 2504 1660 2505 1658 2507 1657 2508 1656 2510 1655 2511 1653 2512 1652 2514 1651 2515 1651 2517 1650 2518 1649 2519 1648 2521 1648 2522 1647 2523 1647 2525 1647 2526 1647 2528 1647 2530 1647 2532 1647 2534 1647 2536 1648 2538 1648 2540 1647 2542 1647 2543 1645 2543 1643 2543 1641 2542 1640 2541 1638 2540 1636 2538 1634 2537 1632 2536 1631 2534 1629 2533 1628 2532 1627 2531 1626Z" fill="#ebe9ed"/>
<path d="M2463 1550 2463 1551 2464 1552 2464 1554 2465 1556 2466 1558 2467 1561 2467 1563 2468 1566 2469 1568 2470 1571 2470 1573 2471 1575 2471 1577 2472 1579 2472 1581 2473 1583 2473 1585 2473 1587 2474 1589 2474 1591 2474 1593 2474 1595 2474 1597 2475 1599 2474 1601 2474 1603 2474 1605 2474 1607 2474 1608 2474 1610 2473 1612 2473 1614 2472 1616 2472 1618 2471 1621 2471 1623 2470 1626 2469 1628 2468 1631 2467 1635 2466 1638 2465 1641 2463 1644 2462 1648 2461 1651 2460 1654 2459 1657 2458 1660 2457 1663 2456 1666 2455 1668 2454 1671 2453 1674 2452 1677 2452 1680 2451 1682 2450 1684 2450 1686 2449 1688 2449 1689 2451 1691 2452 1689 2453 1688 2454 1686 2455 1684 2456 1681 2457 1679 2458 1676 2459 1673 2461 1671 2462 1668 2463 1665 2464 1662 2465 1659 2466 1656 2468 1653 2469 1650 2470 1647 2471 1643 2472 1640 2474 1637 2475 1634 2476 1631 2477 1628 2477 1625 2478 1622 2479 1620 2479 1618 2480 1616 2480 1613 2481 1611 2481 1609 2481 1607 2481 1605 2481 1603 2481 1601 2481 1599 2481 1597 2481 1595 2481 1592 2481 1590 2481 1588 2480 1586 2480 1584 2479 1582 2479 1579 2479 1577 2478 1575 2477 1573 2476 1571 2475 1569 2474 1566 2473 1564 2472 1561 2471 1559 2470 1557 2469 1555 2468 1553 2467 1551 2466 1550 2465 1548Z" fill="#ebe9ed"/>
<path d="M2460 1918 2461 1919 2462 1921 2463 1922 2464 1924 2466 1926 2467 1929 2469 1931 2471 1934 2472 1936 2473 1939 2475 1941 2475 1944 2476 1946 2477 1949 2478 1952 2479 1955 2480 1958 2481 1961 2482 1964 2482 1967 2483 1970 2483 1973 2484 1976 2484 1979 2484 1982 2484 1986 2485 1989 2485 1992 2485 1995 2485 1999 2484 2002 2484 2005 2484 2008 2483 2011 2483 2013 2482 2016 2481 2018 2481 2020 2480 2022 2478 2024 2477 2025 2476 2027 2474 2029 2473 2031 2471 2032 2469 2034 2468 2036 2466 2038 2464 2041 2462 2043 2460 2045 2458 2047 2456 2049 2454 2052 2451 2054 2449 2056 2447 2059 2445 2061 2443 2064 2441 2067 2439 2070 2437 2072 2436 2075 2434 2078 2433 2081 2432 2084 2430 2087 2429 2090 2428 2094 2427 2097 2426 2100 2425 2103 2424 2106 2423 2109 2423 2113 2422 2116 2421 2119 2421 2123 2420 2126 2420 2130 2420 2133 2420 2137 2420 2140 2420 2143 2420 2147 2421 2150 2422 2154 2423 2157 2424 2160 2425 2164 2427 2167 2428 2170 2429 2173 2430 2175 2431 2178 2432 2180 2433 2182 2434 2183 2435 2185 2436 2186 2437 2187 2438 2188 2439 2189 2440 2190 2441 2190 2442 2191 2442 2192 2443 2193 2444 2194 2445 2196 2447 2198 2448 2200 2449 2201 2451 2203 2452 2205 2453 2207 2454 2209 2455 2210 2456 2212 2457 2213 2459 2211 2459 2210 2458 2209 2457 2207 2457 2205 2456 2203 2455 2201 2454 2199 2453 2197 2452 2195 2451 2193 2450 2191 2449 2189 2448 2188 2447 2186 2446 2185 2445 2184 2444 2183 2444 2183 2443 2182 2442 2181 2442 2180 2441 2179 2440 2178 2440 2176 2439 2174 2438 2172 2436 2169 2435 2167 2434 2164 2433 2161 2432 2158 2431 2155 2430 2151 2429 2148 2428 2145 2428 2143 2428 2140 2428 2137 2428 2134 2428 2130 2428 2127 2429 2124 2429 2121 2430 2118 2431 2114 2431 2111 2432 2108 2433 2105 2434 2102 2435 2099 2436 2096 2437 2093 2438 2090 2439 2087 2440 2085 2441 2082 2443 2079 2444 2076 2446 2074 2447 2071 2449 2069 2451 2066 2453 2064 2455 2062 2457 2059 2459 2057 2461 2055 2464 2053 2466 2050 2468 2048 2470 2046 2472 2044 2474 2041 2475 2040 2477 2038 2479 2036 2480 2034 2482 2032 2484 2030 2485 2028 2486 2026 2488 2024 2489 2021 2490 2018 2491 2015 2491 2012 2492 2009 2492 2006 2492 2002 2493 1999 2493 1996 2493 1992 2493 1989 2492 1985 2492 1982 2492 1979 2492 1975 2491 1972 2491 1969 2490 1965 2489 1962 2489 1959 2488 1955 2487 1952 2486 1949 2485 1946 2484 1943 2483 1940 2481 1938 2479 1935 2477 1933 2475 1930 2473 1928 2471 1926 2469 1924 2468 1922 2466 1920 2464 1918 2463 1917 2462 1916Z" fill="#ebe9ed"/>
<path d="M2381 2153 2382 2155 2383 2157 2384 2159 2385 2161 2386 2164 2387 2166 2388 2169 2390 2172 2391 2174 2392 2177 2393 2179 2395 2182 2396 2184 2397 2185 2398 2187 2400 2188 2401 2190 2402 2191 2403 2192 2404 2194 2406 2195 2407 2197 2408 2198 2409 2201 2411 2203 2413 2206 2414 2209 2416 2212 2418 2215 2420 2219 2422 2222 2424 2225 2425 2229 2427 2232 2428 2234 2429 2237 2430 2239 2431 2242 2431 2244 2432 2245 2432 2247 2433 2249 2433 2250 2433 2252 2433 2254 2433 2256 2434 2259 2434 2261 2434 2264 2435 2268 2435 2272 2436 2276 2436 2280 2437 2284 2437 2288 2438 2292 2438 2296 2438 2299 2439 2302 2439 2304 2441 2304 2441 2302 2441 2299 2441 2296 2441 2292 2441 2288 2441 2284 2441 2280 2441 2275 2441 2271 2441 2267 2440 2264 2440 2261 2440 2258 2439 2256 2439 2253 2439 2251 2439 2250 2439 2248 2438 2246 2438 2244 2437 2242 2437 2240 2436 2237 2435 2235 2434 2232 2432 2229 2431 2226 2429 2223 2427 2219 2425 2216 2423 2212 2421 2209 2420 2206 2418 2203 2416 2200 2415 2197 2413 2195 2412 2193 2410 2191 2409 2190 2408 2188 2406 2187 2405 2186 2404 2184 2403 2183 2402 2182 2401 2180 2399 2178 2398 2177 2397 2174 2395 2172 2393 2170 2392 2167 2390 2164 2389 2162 2387 2160 2386 2157 2385 2155 2384 2154 2383 2153Z" fill="#ebe9ed"/>
<path d="M2748.0 831.0 C2752.2 837.8 2765.5 854.8 2773.0 872.0 C2780.5 889.2 2788.7 914.7 2793.0 934.0 C2797.3 953.3 2798.7 970.7 2799.0 988.0 C2799.3 1005.3 2797.7 1019.3 2795.0 1038.0 C2792.3 1056.7 2788.0 1079.3 2783.0 1100.0 C2778.0 1120.7 2770.8 1142.0 2765.0 1162.0 C2759.2 1182.0 2753.3 1204.7 2748.0 1220.0 C2742.7 1235.3 2735.5 1248.3 2733.0 1254.0" fill="none" stroke="#8fd8e0" stroke-width="1.2" stroke-linecap="round" stroke-linejoin="round" />
<path d="M2218.0 736.0 C2215.0 738.7 2206.3 745.8 2200.0 752.0 C2193.7 758.2 2186.8 765.0 2180.0 773.0 C2173.2 781.0 2162.5 795.5 2159.0 800.0" fill="none" stroke="#b8eef4" stroke-width="1.3" stroke-linecap="round" stroke-linejoin="round" />
<path d="M2340 2417 Q2376 2433 2408 2463" fill="none" stroke="#0c0b0d" stroke-width="10" stroke-linecap="butt"/>
<circle cx="2423" cy="2799" r="139" fill="#ff1d00"/>
<path fill="#ff1d00" d="M2362 2920h3v3h-3zM2549 2861h3v3h-3zM2554 2849h3v3h-3zM2300 2854h3v3h-3zM2295 2865h3v3h-3zM2506 2906h3v3h-3zM2478 2674h3v3h-3zM2334 2693h3v3h-3zM2547 2851h3v3h-3zM2364 2673h3v3h-3zM2303 2728h3v3h-3zM2462 2662h3v3h-3zM2504 2913h3v3h-3zM2354 2683h3v3h-3zM2561 2819h3v3h-3zM2523 2889h3v3h-3zM2517 2898h3v3h-3zM2516 2701h3v3h-3zM2513 2695h3v3h-3zM2502 2910h3v3h-3zM2412 2933h3v3h-3zM2363 2679h3v3h-3zM2315 2886h3v3h-3zM2333 2698h3v3h-3zM2458 2930h3v3h-3zM2550 2842h3v3h-3zM2534 2881h3v3h-3zM2523 2699h3v3h-3zM2421 2937h3v3h-3zM2286 2829h3v3h-3zM2534 2882h3v3h-3zM2488 2679h3v3h-3zM2557 2756h3v3h-3zM2294 2763h3v3h-3zM2413 2937h3v3h-3zM2482 2669h3v3h-3zM2286 2784h3v3h-3zM2558 2823h3v3h-3zM2333 2902h3v3h-3zM2468 2928h3v3h-3zM2341 2681h3v3h-3zM2423 2659h3v3h-3zM2560 2774h3v3h-3zM2558 2752h3v3h-3zM2470 2672h3v3h-3zM2294 2758h3v3h-3zM2486 2678h3v3h-3zM2386 2931h3v3h-3zM2415 2938h3v3h-3zM2540 2725h3v3h-3zM2290 2779h3v3h-3zM2478 2921h3v3h-3zM2294 2751h3v3h-3zM2288 2750h3v3h-3zM2296 2748h3v3h-3zM2374 2669h3v3h-3zM2511 2902h3v3h-3zM2546 2859h3v3h-3zM2496 2917h3v3h-3zM2351 2915h3v3h-3zM2400 2667h3v3h-3zM2298 2848h3v3h-3zM2323 2701h3v3h-3zM2532 2883h3v3h-3zM2448 2664h3v3h-3zM2294 2738h3v3h-3zM2466 2671h3v3h-3zM2408 2934h3v3h-3zM2433 2934h3v3h-3zM2553 2841h3v3h-3zM2287 2799h3v3h-3zM2559 2815h3v3h-3zM2408 2659h3v3h-3zM2481 2673h3v3h-3zM2493 2679h3v3h-3zM2309 2877h3v3h-3zM2515 2897h3v3h-3zM2418 2935h3v3h-3zM2396 2933h3v3h-3zM2291 2833h3v3h-3zM2372 2928h3v3h-3zM2320 2894h3v3h-3zM2465 2932h3v3h-3zM2411 2934h3v3h-3zM2553 2834h3v3h-3zM2524 2703h3v3h-3zM2558 2786h3v3h-3zM2339 2694h3v3h-3zM2475 2674h3v3h-3zM2365 2669h3v3h-3zM2556 2825h3v3h-3zM2289 2808h3v3h-3zM2350 2686h3v3h-3zM2421 2934h3v3h-3zM2405 2664h3v3h-3zM2561 2778h3v3h-3zM2318 2704h3v3h-3zM2505 2909h3v3h-3zM2376 2932h3v3h-3zM2550 2850h3v3h-3zM2373 2666h3v3h-3zM2284 2785h3v3h-3zM2567 2779h3v3h-3zM2293 2842h3v3h-3zM2552 2753h3v3h-3zM2531 2706h3v3h-3zM2535 2715h3v3h-3zM2563 2802h3v3h-3zM2379 2928h3v3h-3zM2365 2931h3v3h-3zM2424 2655h3v3h-3zM2389 2933h3v3h-3zM2564 2798h3v3h-3zM2299 2859h3v3h-3zM2549 2745h3v3h-3zM2287 2790h3v3h-3zM2287 2756h3v3h-3zM2338 2691h3v3h-3zM2544 2739h3v3h-3zM2559 2779h3v3h-3zM2379 2933h3v3h-3zM2490 2917h3v3h-3zM2539 2721h3v3h-3zM2510 2904h3v3h-3zM2349 2912h3v3h-3zM2423 2660h3v3h-3zM2286 2778h3v3h-3zM2512 2695h3v3h-3zM2424 2938h3v3h-3zM2556 2817h3v3h-3zM2424 2934h3v3h-3zM2287 2836h3v3h-3zM2339 2690h3v3h-3zM2526 2886h3v3h-3zM2303 2730h3v3h-3zM2315 2719h3v3h-3zM2527 2706h3v3h-3zM2376 2925h3v3h-3zM2359 2675h3v3h-3zM2558 2828h3v3h-3zM2367 2675h3v3h-3zM2413 2659h3v3h-3zM2439 2935h3v3h-3zM2475 2925h3v3h-3zM2508 2904h3v3h-3zM2420 2665h3v3h-3zM2323 2895h3v3h-3zM2488 2916h3v3h-3zM2556 2769h3v3h-3zM2556 2842h3v3h-3zM2542 2733h3v3h-3zM2530 2718h3v3h-3zM2477 2666h3v3h-3zM2555 2828h3v3h-3zM2321 2707h3v3h-3zM2367 2925h3v3h-3zM2549 2752h3v3h-3zM2319 2889h3v3h-3zM2443 2659h3v3h-3zM2543 2864h3v3h-3zM2425 2934h3v3h-3zM2540 2867h3v3h-3zM2388 2664h3v3h-3zM2466 2929h3v3h-3zM2538 2730h3v3h-3zM2516 2695h3v3h-3zM2307 2719h3v3h-3zM2331 2899h3v3h-3zM2462 2927h3v3h-3zM2364 2676h3v3h-3zM2548 2851h3v3h-3zM2288 2755h3v3h-3zM2369 2929h3v3h-3zM2334 2902h3v3h-3zM2461 2927h3v3h-3zM2526 2705h3v3h-3zM2537 2726h3v3h-3zM2327 2901h3v3h-3zM2556 2771h3v3h-3zM2479 2924h3v3h-3zM2285 2783h3v3h-3zM2563 2833h3v3h-3zM2299 2850h3v3h-3zM2286 2808h3v3h-3zM2449 2662h3v3h-3zM2290 2822h3v3h-3zM2301 2856h3v3h-3zM2289 2790h3v3h-3zM2289 2789h3v3h-3zM2477 2675h3v3h-3zM2543 2733h3v3h-3zM2285 2794h3v3h-3zM2452 2667h3v3h-3zM2564 2791h3v3h-3zM2436 2660h3v3h-3zM2418 2665h3v3h-3zM2301 2726h3v3h-3zM2557 2801h3v3h-3zM2319 2706h3v3h-3zM2530 2716h3v3h-3zM2346 2689h3v3h-3zM2340 2906h3v3h-3zM2503 2908h3v3h-3zM2411 2933h3v3h-3zM2295 2746h3v3h-3zM2424 2944h3v3h-3zM2287 2772h3v3h-3zM2557 2850h3v3h-3zM2332 2687h3v3h-3zM2373 2927h3v3h-3zM2443 2933h3v3h-3zM2409 2939h3v3h-3zM2457 2663h3v3h-3zM2521 2707h3v3h-3zM2401 2660h3v3h-3zM2456 2936h3v3h-3zM2538 2727h3v3h-3zM2507 2903h3v3h-3zM2412 2665h3v3h-3zM2528 2714h3v3h-3zM2460 2929h3v3h-3zM2487 2673h3v3h-3zM2532 2878h3v3h-3zM2461 2931h3v3h-3zM2559 2817h3v3h-3zM2393 2664h3v3h-3zM2324 2708h3v3h-3zM2384 2664h3v3h-3zM2511 2696h3v3h-3zM2487 2917h3v3h-3zM2434 2654h3v3h-3zM2479 2927h3v3h-3zM2394 2933h3v3h-3zM2288 2800h3v3h-3zM2456 2661h3v3h-3zM2547 2874h3v3h-3zM2437 2938h3v3h-3zM2343 2911h3v3h-3zM2304 2734h3v3h-3zM2526 2709h3v3h-3zM2500 2911h3v3h-3zM2358 2923h3v3h-3zM2470 2933h3v3h-3zM2460 2932h3v3h-3zM2368 2930h3v3h-3zM2329 2699h3v3h-3zM2292 2762h3v3h-3zM2554 2748h3v3h-3zM2340 2905h3v3h-3zM2315 2878h3v3h-3zM2410 2935h3v3h-3zM2553 2747h3v3h-3zM2467 2667h3v3h-3zM2288 2826h3v3h-3zM2504 2688h3v3h-3zM2420 2938h3v3h-3zM2427 2937h3v3h-3zM2452 2666h3v3h-3zM2333 2699h3v3h-3zM2558 2757h3v3h-3zM2532 2880h3v3h-3zM2446 2663h3v3h-3zM2541 2718h3v3h-3zM2495 2683h3v3h-3zM2527 2704h3v3h-3zM2436 2934h3v3h-3zM2553 2849h3v3h-3zM2510 2697h3v3h-3zM2498 2682h3v3h-3zM2554 2766h3v3h-3zM2335 2698h3v3h-3zM2562 2783h3v3h-3zM2531 2718h3v3h-3zM2441 2664h3v3h-3zM2286 2796h3v3h-3zM2356 2919h3v3h-3zM2294 2761h3v3h-3zM2366 2675h3v3h-3zM2285 2836h3v3h-3zM2479 2921h3v3h-3zM2416 2936h3v3h-3zM2546 2745h3v3h-3zM2554 2832h3v3h-3zM2561 2811h3v3h-3zM2308 2870h3v3h-3zM2455 2931h3v3h-3zM2565 2803h3v3h-3zM2555 2771h3v3h-3zM2516 2896h3v3h-3zM2430 2942h3v3h-3zM2511 2686h3v3h-3zM2396 2668h3v3h-3zM2339 2682h3v3h-3zM2370 2931h3v3h-3zM2513 2692h3v3h-3zM2363 2677h3v3h-3zM2312 2717h3v3h-3zM2395 2930h3v3h-3zM2525 2712h3v3h-3zM2290 2829h3v3h-3zM2528 2706h3v3h-3zM2308 2726h3v3h-3zM2295 2744h3v3h-3zM2328 2895h3v3h-3zM2455 2667h3v3h-3zM2344 2915h3v3h-3zM2283 2811h3v3h-3zM2420 2933h3v3h-3zM2480 2921h3v3h-3zM2560 2752h3v3h-3zM2310 2719h3v3h-3zM2556 2764h3v3h-3zM2314 2886h3v3h-3zM2556 2832h3v3h-3zM2362 2676h3v3h-3zM2430 2664h3v3h-3zM2417 2934h3v3h-3zM2490 2918h3v3h-3zM2364 2678h3v3h-3zM2468 2926h3v3h-3zM2527 2712h3v3h-3zM2327 2698h3v3h-3zM2508 2906h3v3h-3zM2391 2662h3v3h-3zM2517 2699h3v3h-3zM2354 2916h3v3h-3zM2556 2781h3v3h-3zM2356 2680h3v3h-3zM2392 2933h3v3h-3zM2543 2738h3v3h-3zM2530 2717h3v3h-3zM2384 2939h3v3h-3zM2471 2670h3v3h-3zM2451 2937h3v3h-3zM2467 2926h3v3h-3zM2314 2711h3v3h-3zM2476 2668h3v3h-3zM2399 2666h3v3h-3zM2289 2805h3v3h-3zM2495 2917h3v3h-3zM2563 2803h3v3h-3zM2288 2786h3v3h-3zM2292 2768h3v3h-3zM2445 2933h3v3h-3zM2423 2943h3v3h-3zM2540 2880h3v3h-3zM2282 2779h3v3h-3zM2520 2695h3v3h-3zM2523 2897h3v3h-3zM2398 2932h3v3h-3zM2446 2663h3v3h-3zM2501 2689h3v3h-3zM2298 2866h3v3h-3zM2291 2773h3v3h-3zM2289 2795h3v3h-3zM2524 2710h3v3h-3zM2409 2940h3v3h-3zM2422 2939h3v3h-3zM2554 2757h3v3h-3zM2342 2691h3v3h-3zM2558 2761h3v3h-3zM2286 2828h3v3h-3zM2520 2894h3v3h-3zM2309 2875h3v3h-3zM2372 2926h3v3h-3zM2285 2788h3v3h-3zM2442 2664h3v3h-3zM2519 2698h3v3h-3zM2413 2663h3v3h-3zM2540 2730h3v3h-3zM2315 2712h3v3h-3zM2314 2888h3v3h-3zM2284 2799h3v3h-3zM2378 2927h3v3h-3zM2555 2764h3v3h-3zM2537 2728h3v3h-3zM2317 2887h3v3h-3zM2290 2778h3v3h-3zM2487 2675h3v3h-3zM2499 2913h3v3h-3zM2287 2795h3v3h-3zM2326 2696h3v3h-3zM2565 2793h3v3h-3zM2374 2674h3v3h-3zM2564 2796h3v3h-3zM2521 2893h3v3h-3zM2529 2883h3v3h-3zM2470 2673h3v3h-3zM2340 2907h3v3h-3zM2342 2912h3v3h-3zM2424 2934h3v3h-3zM2478 2673h3v3h-3zM2487 2922h3v3h-3zM2558 2775h3v3h-3zM2528 2892h3v3h-3zM2312 2876h3v3h-3zM2486 2676h3v3h-3zM2473 2927h3v3h-3zM2502 2917h3v3h-3zM2405 2942h3v3h-3zM2556 2757h3v3h-3zM2293 2839h3v3h-3zM2331 2900h3v3h-3zM2457 2939h3v3h-3zM2283 2788h3v3h-3zM2298 2742h3v3h-3zM2362 2927h3v3h-3zM2295 2746h3v3h-3zM2384 2928h3v3h-3zM2443 2933h3v3h-3zM2516 2900h3v3h-3zM2329 2700h3v3h-3zM2553 2833h3v3h-3zM2467 2929h3v3h-3zM2557 2833h3v3h-3zM2394 2665h3v3h-3zM2368 2672h3v3h-3zM2554 2839h3v3h-3zM2423 2664h3v3h-3zM2294 2838h3v3h-3zM2523 2902h3v3h-3zM2291 2762h3v3h-3zM2336 2907h3v3h-3zM2373 2925h3v3h-3zM2357 2679h3v3h-3zM2511 2909h3v3h-3zM2526 2890h3v3h-3zM2459 2929h3v3h-3zM2528 2889h3v3h-3zM2334 2902h3v3h-3zM2298 2746h3v3h-3zM2298 2854h3v3h-3zM2422 2936h3v3h-3zM2384 2930h3v3h-3zM2364 2924h3v3h-3zM2555 2752h3v3h-3zM2499 2914h3v3h-3zM2548 2868h3v3h-3zM2558 2834h3v3h-3zM2400 2667h3v3h-3zM2302 2865h3v3h-3zM2493 2917h3v3h-3zM2296 2745h3v3h-3zM2542 2869h3v3h-3zM2473 2674h3v3h-3zM2317 2712h3v3h-3zM2557 2823h3v3h-3zM2295 2843h3v3h-3zM2325 2901h3v3h-3zM2285 2773h3v3h-3zM2294 2759h3v3h-3zM2420 2934h3v3h-3zM2444 2938h3v3h-3zM2282 2787h3v3h-3zM2310 2873h3v3h-3zM2399 2666h3v3h-3zM2291 2744h3v3h-3zM2445 2666h3v3h-3zM2330 2895h3v3h-3zM2517 2700h3v3h-3zM2485 2679h3v3h-3zM2559 2837h3v3h-3zM2286 2756h3v3h-3zM2550 2735h3v3h-3zM2305 2733h3v3h-3zM2533 2891h3v3h-3zM2293 2753h3v3h-3zM2550 2757h3v3h-3zM2465 2671h3v3h-3zM2546 2862h3v3h-3zM2534 2712h3v3h-3zM2490 2920h3v3h-3zM2300 2734h3v3h-3zM2564 2804h3v3h-3zM2553 2837h3v3h-3zM2404 2935h3v3h-3z"/>
<path fill="#030205" d="M2558 2762h2v2h-2zM2297 2757h2v2h-2zM2301 2731h2v2h-2zM2402 2928h2v2h-2zM2334 2692h2v2h-2zM2547 2846h2v2h-2zM2443 2661h2v2h-2zM2481 2926h2v2h-2zM2381 2932h2v2h-2zM2285 2812h2v2h-2zM2301 2733h2v2h-2zM2555 2795h2v2h-2zM2530 2889h2v2h-2zM2562 2816h2v2h-2zM2284 2802h2v2h-2zM2301 2867h2v2h-2zM2367 2927h2v2h-2zM2306 2722h2v2h-2zM2287 2775h2v2h-2zM2491 2679h2v2h-2zM2352 2911h2v2h-2zM2464 2927h2v2h-2zM2325 2710h2v2h-2zM2301 2733h2v2h-2zM2440 2663h2v2h-2zM2391 2669h2v2h-2zM2563 2804h2v2h-2zM2293 2846h2v2h-2zM2299 2854h2v2h-2zM2453 2663h2v2h-2zM2367 2921h2v2h-2zM2300 2857h2v2h-2zM2284 2802h2v2h-2zM2443 2937h2v2h-2zM2309 2718h2v2h-2zM2551 2752h2v2h-2zM2313 2724h2v2h-2zM2327 2895h2v2h-2zM2490 2921h2v2h-2zM2284 2797h2v2h-2zM2300 2741h2v2h-2zM2387 2933h2v2h-2zM2452 2666h2v2h-2zM2288 2832h2v2h-2zM2501 2686h2v2h-2zM2522 2893h2v2h-2zM2283 2793h2v2h-2zM2291 2838h2v2h-2zM2331 2905h2v2h-2zM2405 2663h2v2h-2zM2495 2916h2v2h-2zM2318 2891h2v2h-2zM2339 2910h2v2h-2zM2456 2665h2v2h-2zM2313 2716h2v2h-2zM2336 2904h2v2h-2zM2493 2687h2v2h-2zM2451 2934h2v2h-2zM2558 2825h2v2h-2zM2290 2795h2v2h-2zM2470 2667h2v2h-2zM2287 2820h2v2h-2zM2456 2926h2v2h-2zM2309 2731h2v2h-2zM2359 2678h2v2h-2zM2431 2938h2v2h-2zM2559 2815h2v2h-2zM2558 2776h2v2h-2zM2389 2927h2v2h-2zM2504 2687h2v2h-2zM2494 2682h2v2h-2zM2287 2767h2v2h-2zM2371 2669h2v2h-2zM2557 2823h2v2h-2zM2294 2845h2v2h-2zM2558 2825h2v2h-2zM2307 2728h2v2h-2zM2334 2902h2v2h-2zM2294 2814h2v2h-2zM2346 2689h2v2h-2zM2329 2902h2v2h-2zM2312 2878h2v2h-2zM2495 2916h2v2h-2z"/>
<path d="M2404.4 2787.1 C2406.9 2783.3 2411.4 2779.7 2415.2 2777.7 C2419.0 2775.7 2423.0 2775.0 2427.3 2775.0 C2431.6 2775.0 2437.5 2775.7 2440.8 2777.7 C2444.0 2779.7 2445.7 2782.7 2446.8 2787.1 C2447.9 2791.5 2447.9 2799.4 2447.5 2803.9 C2447.0 2808.4 2446.6 2811.3 2444.1 2814.0 C2441.7 2816.7 2437.2 2819.5 2432.7 2820.1 C2428.2 2820.6 2422.0 2818.6 2417.2 2817.4 C2412.4 2816.2 2406.5 2815.5 2403.7 2812.7 C2400.9 2809.9 2400.3 2804.8 2400.4 2800.6 C2400.5 2796.3 2401.9 2790.9 2404.4 2787.1 Z" fill="#ff4a1c" stroke="none" stroke-width="0" />
<path d="M2428.0 2778.7 C2427.6 2778.5 2426.8 2777.3 2425.9 2777.7 C2425.1 2778.1 2423.7 2780.4 2422.6 2781.0 C2421.5 2781.7 2420.5 2781.8 2419.2 2781.7 C2418.0 2781.6 2416.5 2779.5 2415.2 2780.4 C2413.8 2781.3 2412.7 2785.0 2411.1 2787.1 C2409.6 2789.2 2407.6 2791.1 2405.8 2793.2 C2404.0 2795.2 2400.2 2798.2 2400.4 2799.2 C2400.6 2800.2 2404.9 2799.2 2407.1 2799.2 C2409.3 2799.2 2412.7 2799.2 2413.8 2799.2" fill="none" stroke="#0c1012" stroke-width="3.2" stroke-linecap="round" stroke-linejoin="round"/>
<path d="M2414.2 2786.4 C2414.3 2788.2 2414.7 2793.7 2415.2 2797.2 C2415.7 2800.7 2416.6 2804.2 2417.2 2807.3 C2417.8 2810.4 2418.3 2814.6 2418.5 2816.0" fill="none" stroke="#0c1012" stroke-width="2.6" stroke-linecap="round" stroke-linejoin="round"/>
<path d="M2401.7 2803.9 C2401.9 2805.1 2401.9 2809.0 2403.1 2810.7 C2404.2 2812.3 2406.3 2813.6 2408.5 2814.0 C2410.6 2814.5 2413.8 2813.9 2415.9 2813.4 C2417.9 2812.8 2418.7 2811.4 2420.6 2810.7 C2422.5 2809.9 2425.1 2808.5 2427.3 2808.6 C2429.5 2808.8 2432.0 2810.4 2434.0 2811.3 C2436.0 2812.2 2438.5 2813.6 2439.4 2814.0" fill="none" stroke="#0c1012" stroke-width="3.2" stroke-linecap="round" stroke-linejoin="round"/>
<path d="M2444.1 2791.1 C2444.3 2792.7 2445.4 2797.9 2445.5 2800.6 C2445.6 2803.3 2445.6 2805.1 2444.8 2807.3 C2444.0 2809.5 2442.8 2812.0 2440.8 2814.0 C2438.7 2816.0 2434.9 2818.6 2432.7 2819.4 C2430.4 2820.2 2429.5 2819.3 2427.3 2818.7 C2425.1 2818.2 2420.6 2816.5 2419.2 2816.0" fill="none" stroke="#0c1012" stroke-width="3.4" stroke-linecap="round" stroke-linejoin="round"/>
<path d="M2442.1 2781.0 C2440.8 2781.5 2436.0 2782.4 2434.0 2783.7 C2432.0 2785.1 2430.5 2786.9 2430.0 2789.1 C2429.4 2791.4 2429.8 2794.6 2430.7 2797.2 C2431.6 2799.8 2434.6 2803.4 2435.4 2804.6" fill="none" stroke="#0c1012" stroke-width="2.0" stroke-linecap="round" stroke-linejoin="round"/>
<path d="M2416.5 2807.3 C2418.3 2805.9 2423.4 2802.5 2427.3 2799.2 C2431.2 2796.0 2437.9 2789.7 2440.1 2787.8" fill="none" stroke="#0c1012" stroke-width="1.8" stroke-linecap="round" stroke-linejoin="round"/>
<path d="M2421.2 2790.1 C2421.7 2790.4 2423.4 2791.0 2423.9 2791.8 C2424.5 2792.7 2424.5 2794.6 2424.6 2795.2" fill="none" stroke="#0c1012" stroke-width="1.2" stroke-linecap="round" stroke-linejoin="round"/></svg>
</body></html>
